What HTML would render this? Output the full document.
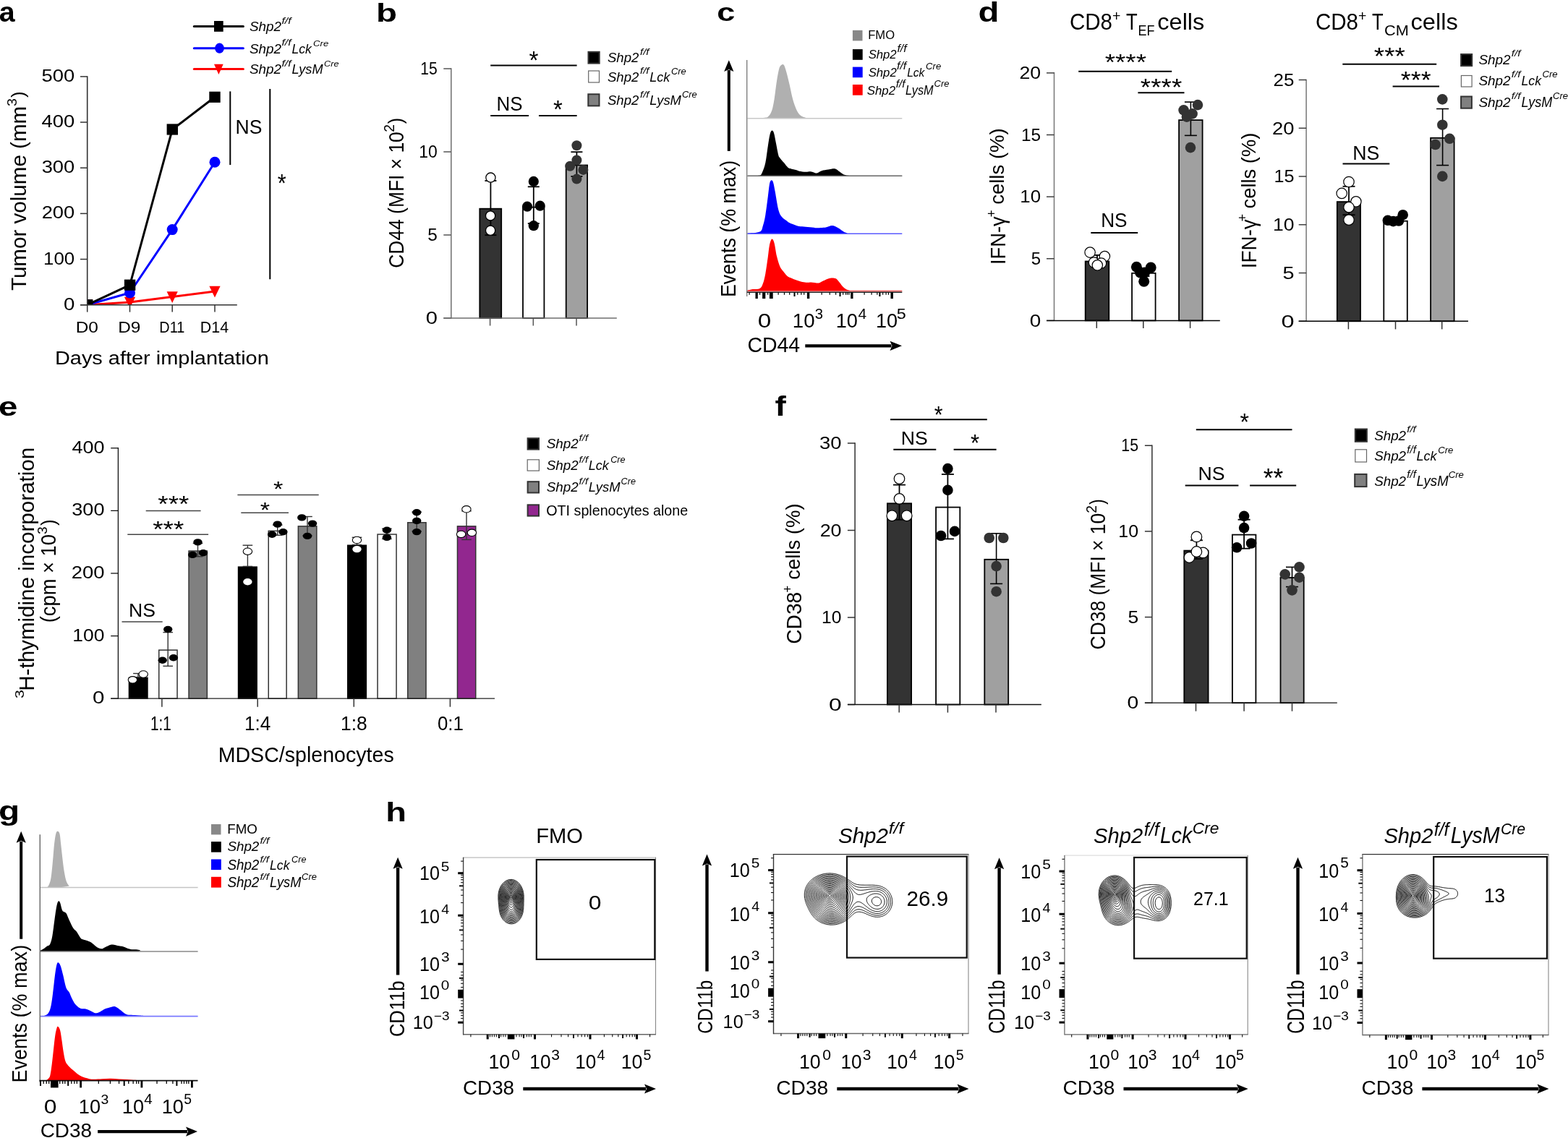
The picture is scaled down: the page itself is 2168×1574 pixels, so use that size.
<!DOCTYPE html><html><head><meta charset="utf-8"><style>html,body{margin:0;padding:0;background:#fff;}svg{display:block;} text{font-family:'Liberation Sans', Arial, sans-serif;}</style></head><body><svg width="2168" height="1574" viewBox="0 0 2168 1574"><rect width="2168" height="1574" fill="#fff"/><text transform="translate(-1.18,29.5)" font-size="39.44" font-weight="bold">a</text>
<clipPath id="clipa"><rect x="120.7" y="90" width="230" height="331.7"/></clipPath>
<g clip-path="url(#clipa)">
<path d="M120.7 421.7 L179.5 418 L238.2 410.5 L297 403" fill="none" stroke="#f00" stroke-width="3" stroke-linejoin="round"/>
<path d="M120.7 421.7 L179.5 405 L238.2 317.6 L297 224.3" fill="none" stroke="#00f" stroke-width="3" stroke-linejoin="round"/>
<path d="M120.7 421.7 L179.6 394.2 L238.3 179 L297 134.3" fill="none" stroke="#000" stroke-width="3" stroke-linejoin="round"/>
<path d="M113.1 414.5 L128.3 414.5 L120.7 430.1 Z" fill="#f00"/>
<path d="M171.9 410.8 L187.1 410.8 L179.5 426.4 Z" fill="#f00"/>
<path d="M230.6 403.3 L245.8 403.3 L238.2 418.9 Z" fill="#f00"/>
<path d="M289.4 395.8 L304.6 395.8 L297 411.4 Z" fill="#f00"/>
<circle cx="120.7" cy="421.7" r="7.5" fill="#00f"/>
<circle cx="179.5" cy="405" r="7.5" fill="#00f"/>
<circle cx="238.2" cy="317.6" r="7.5" fill="#00f"/>
<circle cx="297" cy="224.3" r="7.5" fill="#00f"/>
<rect x="113" y="414.1" width="15.4" height="15.2" fill="#000"/>
<rect x="171.9" y="386.6" width="15.4" height="15.2" fill="#000"/>
<rect x="230.6" y="171.4" width="15.4" height="15.2" fill="#000"/>
<rect x="289.3" y="126.7" width="15.4" height="15.2" fill="#000"/>
</g>
<line x1="120.7" y1="105.2" x2="120.7" y2="422.45" stroke="#333" stroke-width="1.6"/>
<line x1="111" y1="421.7" x2="120.7" y2="421.7" stroke="#333" stroke-width="1.5"/>
<line x1="111" y1="358.54" x2="120.7" y2="358.54" stroke="#333" stroke-width="1.5"/>
<line x1="111" y1="295.38" x2="120.7" y2="295.38" stroke="#333" stroke-width="1.5"/>
<line x1="111" y1="232.22" x2="120.7" y2="232.22" stroke="#333" stroke-width="1.5"/>
<line x1="111" y1="169.06" x2="120.7" y2="169.06" stroke="#333" stroke-width="1.5"/>
<line x1="111" y1="105.9" x2="120.7" y2="105.9" stroke="#333" stroke-width="1.5"/>
<line x1="111" y1="421.7" x2="327.8" y2="421.7" stroke="#333" stroke-width="1.5"/>
<line x1="120.7" y1="421.7" x2="120.7" y2="431.6" stroke="#333" stroke-width="1.5"/>
<line x1="179.5" y1="421.7" x2="179.5" y2="431.6" stroke="#333" stroke-width="1.5"/>
<line x1="238.2" y1="421.7" x2="238.2" y2="431.6" stroke="#333" stroke-width="1.5"/>
<line x1="297" y1="421.7" x2="297" y2="431.6" stroke="#333" stroke-width="1.5"/>
<text transform="translate(87.89,428.8) scale(1.1409,1)" font-size="24.23">0</text>
<text transform="translate(60.06,365.64) scale(1.0670,1)" font-size="24.23">100</text>
<text transform="translate(57.63,302.48) scale(1.1285,1)" font-size="24.23">200</text>
<text transform="translate(57.68,239.32) scale(1.1274,1)" font-size="24.23">300</text>
<text transform="translate(57.48,176.16) scale(1.1323,1)" font-size="24.23">400</text>
<text transform="translate(57.61,113) scale(1.1291,1)" font-size="24.23">500</text>
<text transform="translate(104.68,460) scale(1.1074,1)" font-size="22.08">D0</text>
<text transform="translate(163.18,460) scale(1.1067,1)" font-size="22.08">D9</text>
<text transform="translate(220.36,460) scale(0.8901,1)" font-size="22.40">D11</text>
<text transform="translate(276.83,460) scale(0.9589,1)" font-size="22.40">D14</text>
<text transform="translate(75.91,504) scale(1.1529,1)" font-size="25.10">Days after implantation</text>
<text transform="translate(35.7,402.07) rotate(-90) scale(1.0026,1)" font-size="29.53">Tumor volume (mm</text>
<text transform="translate(23.2,146.93) rotate(-90) scale(1.0268,1)" font-size="19.07">3</text>
<text transform="translate(34.16,135.1) rotate(-90) scale(0.9751,1)" font-size="26.70">)</text>
<line x1="268.3" y1="36.4" x2="336.4" y2="36.4" stroke="#000" stroke-width="3" stroke-linecap="round"/>
<line x1="268.3" y1="66.7" x2="336.4" y2="66.7" stroke="#00f" stroke-width="3" stroke-linecap="round"/>
<line x1="268.3" y1="95.6" x2="336.4" y2="95.6" stroke="#f00" stroke-width="3" stroke-linecap="round"/>
<rect x="296" y="29" width="12.7" height="14.8" fill="#000"/>
<ellipse cx="303.5" cy="66.7" rx="6.4" ry="7.1" fill="#00f"/>
<path d="M296 88.8 L308.7 88.8 L302.4 103 Z" fill="#f00"/>
<text transform="translate(344.98,43.2) scale(1.0156,1)" font-size="18.62" font-style="italic">Shp2</text>
<text transform="translate(389.49,32.57) scale(1.2246,1)" font-size="12.79" font-style="italic">f/f</text>
<text transform="translate(344.98,74) scale(1.0308,1)" font-size="18.34" font-style="italic">Shp2</text>
<text transform="translate(389.49,63.47) scale(1.2378,1)" font-size="12.65" font-style="italic">f/f</text>
<text transform="translate(403.47,74) scale(0.9760,1)" font-size="18.07" font-style="italic">Lck</text>
<text transform="translate(433.08,64.1) scale(1.2929,1)" font-size="10.18" font-style="italic">Cre</text>
<text transform="translate(344.98,102.4) scale(1.0546,1)" font-size="17.93" font-style="italic">Shp2</text>
<text transform="translate(389.49,92.17) scale(1.2378,1)" font-size="12.65" font-style="italic">f/f</text>
<text transform="translate(403.45,102.4) scale(0.9855,1)" font-size="18.47" font-style="italic">LysM</text>
<text transform="translate(448.11,92.4) scale(1.2412,1)" font-size="10.18" font-style="italic">Cre</text>
<line x1="318.3" y1="126.4" x2="318.3" y2="228.1" stroke="#000" stroke-width="2"/>
<text transform="translate(325.61,184.5) scale(0.9793,1)" font-size="27.10">NS</text>
<line x1="373.3" y1="123" x2="373.3" y2="386.2" stroke="#000" stroke-width="2"/>
<text transform="translate(383.86,264.75) scale(0.8529,1)" font-size="36.00">*</text>
<text transform="translate(519.91,29.9) scale(1.3565,1)" font-size="35.03" font-weight="bold">b</text>
<rect x="663.3" y="288.7" width="29.9" height="151.3" fill="#333" stroke="#000" stroke-width="1.8"/>
<rect x="723" y="286.6" width="29.4" height="153.4" fill="#fff" stroke="#000" stroke-width="1.8"/>
<rect x="782.7" y="228.5" width="29.4" height="211.5" fill="#a0a0a0" stroke="#000" stroke-width="1.8"/>
<line x1="678.4" y1="250" x2="678.4" y2="325.2" stroke="#000" stroke-width="1.8"/>
<line x1="670.4" y1="250" x2="686.4" y2="250" stroke="#000" stroke-width="1.8"/>
<line x1="670.4" y1="325.2" x2="686.4" y2="325.2" stroke="#000" stroke-width="1.8"/>
<line x1="737.8" y1="258.3" x2="737.8" y2="309.1" stroke="#000" stroke-width="1.8"/>
<line x1="729.8" y1="258.3" x2="745.8" y2="258.3" stroke="#000" stroke-width="1.8"/>
<line x1="729.8" y1="309.1" x2="745.8" y2="309.1" stroke="#000" stroke-width="1.8"/>
<line x1="797.4" y1="210.2" x2="797.4" y2="244" stroke="#000" stroke-width="1.8"/>
<line x1="789.4" y1="210.2" x2="805.4" y2="210.2" stroke="#000" stroke-width="1.8"/>
<line x1="789.4" y1="244" x2="805.4" y2="244" stroke="#000" stroke-width="1.8"/>
<circle cx="678.4" cy="245.6" r="6.6" fill="#fff" stroke="#000" stroke-width="1.3"/>
<circle cx="678.1" cy="298.4" r="6.6" fill="#fff" stroke="#000" stroke-width="1.3"/>
<circle cx="678.1" cy="318.8" r="6.6" fill="#fff" stroke="#000" stroke-width="1.3"/>
<circle cx="737.8" cy="250.9" r="7.1" fill="#000"/>
<circle cx="729" cy="285.7" r="7.1" fill="#000"/>
<circle cx="746.7" cy="284.7" r="7.1" fill="#000"/>
<circle cx="737.8" cy="312.2" r="7.1" fill="#000"/>
<circle cx="797.4" cy="201.3" r="7" fill="#333"/>
<circle cx="797.4" cy="221.5" r="7" fill="#333"/>
<circle cx="788.2" cy="229.8" r="7" fill="#333"/>
<circle cx="806.4" cy="234.9" r="7" fill="#333"/>
<circle cx="797.4" cy="247.6" r="7" fill="#333"/>
<line x1="623.8" y1="94.2" x2="623.8" y2="440.75" stroke="#6e6e6e" stroke-width="1.5"/>
<line x1="613.3" y1="440" x2="623.8" y2="440" stroke="#555" stroke-width="1.5"/>
<line x1="613.3" y1="325" x2="623.8" y2="325" stroke="#555" stroke-width="1.5"/>
<line x1="613.3" y1="210" x2="623.8" y2="210" stroke="#555" stroke-width="1.5"/>
<line x1="613.3" y1="95" x2="623.8" y2="95" stroke="#555" stroke-width="1.5"/>
<line x1="613.3" y1="440" x2="852.8" y2="440" stroke="#6e6e6e" stroke-width="1.5"/>
<line x1="677.6" y1="440" x2="677.6" y2="450.5" stroke="#555" stroke-width="1.5"/>
<line x1="737.3" y1="440" x2="737.3" y2="450.5" stroke="#555" stroke-width="1.5"/>
<line x1="797" y1="440" x2="797" y2="450.5" stroke="#555" stroke-width="1.5"/>
<text transform="translate(588.84,448.3) scale(1.2014,1)" font-size="24.23">0</text>
<text transform="translate(591.32,333.3) scale(0.9935,1)" font-size="24.58">5</text>
<text transform="translate(579.28,218.3) scale(0.9475,1)" font-size="24.23">10</text>
<text transform="translate(581.32,103.3) scale(0.8586,1)" font-size="24.58">15</text>
<text transform="translate(558,370.72) rotate(-90) scale(0.9081,1)" font-size="29.09">CD44 (MFI × 10</text>
<text transform="translate(545.2,182.67) rotate(-90) scale(0.9919,1)" font-size="19.50">2</text>
<text transform="translate(556.19,171.19) rotate(-90) scale(0.9356,1)" font-size="27.02">)</text>
<line x1="678.2" y1="90.4" x2="797.6" y2="90.4" stroke="#000" stroke-width="2"/>
<text transform="translate(731.52,94.77) scale(0.9615,1)" font-size="34.57">*</text>
<line x1="678.2" y1="160" x2="731" y2="160" stroke="#000" stroke-width="2"/>
<text transform="translate(686.46,153.3) scale(0.9312,1)" font-size="27.81">NS</text>
<line x1="745" y1="160" x2="797.6" y2="160" stroke="#000" stroke-width="2"/>
<text transform="translate(764.92,162.77) scale(0.9533,1)" font-size="34.57">*</text>
<rect x="813.5" y="71.8" width="15.2" height="15.8" fill="#000" stroke="#333" stroke-width="2"/>
<rect x="813.7" y="98" width="14.8" height="16" fill="#fff" stroke="#666" stroke-width="1.2"/>
<rect x="813.3" y="130.3" width="15.2" height="16.1" fill="#808080" stroke="#333" stroke-width="2"/>
<text transform="translate(839.99,86.1) scale(0.9823,1)" font-size="18.90" font-style="italic">Shp2</text>
<text transform="translate(885.01,75.67) scale(1.1972,1)" font-size="12.52" font-style="italic">f/f</text>
<text transform="translate(839.99,112.7) scale(0.9823,1)" font-size="18.90" font-style="italic">Shp2</text>
<text transform="translate(885.01,102.47) scale(1.1718,1)" font-size="12.79" font-style="italic">f/f</text>
<text transform="translate(898.26,112.7)" font-size="18.07" font-style="italic">Lck</text>
<text transform="translate(927.99,102.68) scale(1.0367,1)" font-size="12.44" font-style="italic">Cre</text>
<text transform="translate(839.99,145.1) scale(0.9969,1)" font-size="18.62" font-style="italic">Shp2</text>
<text transform="translate(885.01,134.97) scale(1.1594,1)" font-size="12.93" font-style="italic">f/f</text>
<text transform="translate(898.25,145.1) scale(0.9839,1)" font-size="18.76" font-style="italic">LysM</text>
<text transform="translate(942.99,134.98) scale(1.0433,1)" font-size="12.30" font-style="italic">Cre</text>
<text transform="translate(991.19,28.6) scale(1.2700,1)" font-size="35.53" font-weight="bold">c</text>
<path d="M1033.89 163.71 C1037.78 163.56 1052.42 163.34 1057.24 162.82 C1062.05 162.3 1061.13 162.26 1062.79 160.59 C1064.46 158.93 1065.94 156.7 1067.24 152.81 C1068.54 148.92 1069.46 143.92 1070.58 137.25 C1071.69 130.58 1072.8 119.83 1073.91 112.79 C1075.02 105.75 1076.13 98.86 1077.25 95.01 C1078.36 91.16 1079.47 90.51 1080.58 89.67 C1081.69 88.84 1082.8 88.38 1083.92 90.01 C1085.03 91.64 1085.95 94.92 1087.25 99.46 C1088.55 103.99 1090.21 110.94 1091.7 117.24 C1093.18 123.54 1094.48 131.32 1096.14 137.25 C1097.81 143.18 1099.85 149.01 1101.7 152.81 C1103.55 156.61 1105.22 158.37 1107.26 160.04 C1109.3 161.71 1111.89 162.22 1113.93 162.82 C1115.97 163.41 1097.25 163.45 1119.49 163.59 C1141.72 163.74 1226.02 163.69 1247.32 163.71 L1247.32 163.7 L1033.89 163.7 Z" fill="#b0b0b0"/>
<line x1="1033.5" y1="163.7" x2="1247.3" y2="163.7" stroke="#c8c8c8" stroke-width="1.5"/>
<path d="M1033.34 243.41 C1036.02 243.32 1046.03 243.69 1049.46 242.85 C1052.88 242.02 1052.42 241.37 1053.9 238.41 C1055.38 235.44 1057.05 231 1058.35 225.07 C1059.65 219.14 1060.66 209.32 1061.68 202.83 C1062.7 196.35 1063.54 189.87 1064.46 186.16 C1065.39 182.46 1066.31 180.97 1067.24 180.6 C1068.17 180.23 1069.09 181.16 1070.02 183.94 C1070.95 186.72 1071.78 192.27 1072.8 197.28 C1073.82 202.28 1075.21 210.43 1076.13 213.95 C1077.06 217.47 1077.06 216.54 1078.36 218.4 C1079.65 220.25 1082.06 222.84 1083.92 225.07 C1085.77 227.29 1087.81 230.35 1089.47 231.74 C1091.14 233.13 1092.07 232.85 1093.92 233.4 C1095.77 233.96 1098.74 234.52 1100.59 235.07 C1102.44 235.63 1102.81 236.28 1105.04 236.74 C1107.26 237.2 1111.33 237.76 1113.93 237.85 C1116.52 237.94 1118.75 237.2 1120.6 237.29 C1122.45 237.39 1123.56 238.04 1125.04 238.41 C1126.53 238.78 1127.64 239.89 1129.49 239.52 C1131.34 239.15 1133.57 237.02 1136.16 236.18 C1138.75 235.35 1142.64 234.98 1145.05 234.52 C1147.46 234.05 1148.76 233.5 1150.61 233.4 C1152.46 233.31 1154.5 233.31 1156.17 233.96 C1157.84 234.61 1158.95 236.09 1160.62 237.29 C1162.28 238.5 1164.14 240.26 1166.17 241.18 C1168.21 242.11 1170.62 242.48 1172.84 242.85 C1175.07 243.22 1167.1 243.32 1179.51 243.41 C1191.93 243.5 1236.02 243.41 1247.32 243.41 L1247.32 243.3 L1033.34 243.3 Z" fill="#000"/>
<line x1="1033.5" y1="243.3" x2="1247.3" y2="243.3" stroke="#666" stroke-width="1.5"/>
<path d="M1033.34 322.81 C1036.21 322.44 1046.95 322.44 1050.57 320.59 C1054.18 318.74 1053.72 315.59 1055.01 311.7 C1056.31 307.81 1057.24 303.73 1058.35 297.25 C1059.46 290.76 1060.76 279.83 1061.68 272.79 C1062.61 265.75 1063.17 258.9 1063.91 255 C1064.65 251.11 1065.3 250 1066.13 249.45 C1066.96 248.89 1067.98 249.08 1068.91 251.67 C1069.83 254.26 1070.48 258.71 1071.69 265.01 C1072.89 271.31 1074.65 283.72 1076.13 289.46 C1077.62 295.21 1078.73 296.87 1080.58 299.47 C1082.43 302.06 1085.4 303.54 1087.25 305.03 C1089.1 306.51 1089.47 307.25 1091.7 308.36 C1093.92 309.47 1098.37 310.92 1100.59 311.7 C1102.81 312.47 1102.81 312.7 1105.04 313.03 C1107.26 313.36 1110.59 313.4 1113.93 313.7 C1117.26 313.99 1122.64 314.55 1125.04 314.81 C1127.45 315.07 1125.6 315.31 1128.38 315.25 C1131.16 315.2 1138.01 315.01 1141.72 314.48 C1145.42 313.94 1147.83 311.94 1150.61 312.03 C1153.39 312.12 1155.98 313.79 1158.39 315.03 C1160.8 316.27 1163.21 318.37 1165.06 319.48 C1166.91 320.59 1166.91 321.05 1169.51 321.7 C1172.1 322.35 1167.66 323.09 1180.62 323.37 C1193.59 323.65 1236.2 323.37 1247.32 323.37 L1247.32 323.3 L1033.34 323.3 Z" fill="#0000ff"/>
<line x1="1033.5" y1="323.3" x2="1247.3" y2="323.3" stroke="#5a5aff" stroke-width="1.5"/>
<path d="M1033.34 401.74 C1034.54 401.46 1037.69 400.53 1040.56 400.07 C1043.43 399.61 1048.16 400.35 1050.57 398.96 C1052.98 397.57 1053.72 395.16 1055.01 391.73 C1056.31 388.3 1057.24 384.32 1058.35 378.39 C1059.46 372.46 1060.76 362.64 1061.68 356.16 C1062.61 349.68 1062.98 343.75 1063.91 339.49 C1064.83 335.23 1066.13 331.15 1067.24 330.59 C1068.35 330.04 1069.46 332.26 1070.58 336.15 C1071.69 340.04 1072.61 348.56 1073.91 353.94 C1075.21 359.31 1076.87 364.87 1078.36 368.39 C1079.84 371.91 1081.14 372.83 1082.8 375.06 C1084.47 377.28 1086.51 380.15 1088.36 381.73 C1090.21 383.3 1091.88 383.58 1093.92 384.51 C1095.96 385.43 1098 386.36 1100.59 387.29 C1103.18 388.21 1106.89 389.47 1109.48 390.06 C1112.08 390.66 1114.11 390.79 1116.15 390.84 C1118.19 390.9 1119.12 390.29 1121.71 390.4 C1124.3 390.51 1129.31 391.66 1131.71 391.51 C1134.12 391.36 1133.94 390.49 1136.16 389.51 C1138.38 388.53 1142.64 386.45 1145.05 385.62 C1147.46 384.78 1148.76 384.51 1150.61 384.51 C1152.46 384.51 1154.5 384.6 1156.17 385.62 C1157.84 386.64 1158.95 388.67 1160.62 390.62 C1162.28 392.57 1164.14 395.53 1166.17 397.29 C1168.21 399.05 1169.51 400.29 1172.84 401.18 C1176.18 402.07 1173.77 402.35 1186.18 402.63 C1198.6 402.9 1237.13 402.81 1247.32 402.85 L1247.32 402.8 L1033.34 402.8 Z" fill="#f00"/>
<line x1="1033.5" y1="402.6" x2="1247.3" y2="402.6" stroke="#f05050" stroke-width="1.5"/>
<line x1="1032.7" y1="83" x2="1032.7" y2="410" stroke="#777" stroke-width="1.3"/>
<line x1="1032.7" y1="404.2" x2="1247.3" y2="404.2" stroke="#222" stroke-width="1.6"/>
<rect x="1044.5" y="404.2" width="3.3" height="8.9" fill="#000"/>
<rect x="1054.1" y="404.2" width="4.2" height="8.9" fill="#000"/>
<rect x="1063.9" y="404.2" width="4.8" height="8.9" fill="#000"/>
<rect x="1115.9" y="404.2" width="3.4" height="8.9" fill="#000"/>
<rect x="1176.2" y="404.2" width="3.3" height="8.9" fill="#000"/>
<rect x="1231.5" y="404.2" width="3.4" height="8.9" fill="#000"/>
<line x1="1098.5" y1="404.2" x2="1098.5" y2="410" stroke="#000" stroke-width="2"/>
<line x1="1161.5" y1="404.2" x2="1161.5" y2="410" stroke="#000" stroke-width="2"/>
<line x1="1216.4" y1="404.2" x2="1216.4" y2="410" stroke="#000" stroke-width="2"/>
<line x1="1036.12" y1="404.2" x2="1036.12" y2="407.8" stroke="#000" stroke-width="1.2"/>
<line x1="1050.57" y1="404.2" x2="1050.57" y2="407.8" stroke="#000" stroke-width="1.2"/>
<line x1="1061.68" y1="404.2" x2="1061.68" y2="407.8" stroke="#000" stroke-width="1.2"/>
<line x1="1076.13" y1="404.2" x2="1076.13" y2="407.8" stroke="#000" stroke-width="1.2"/>
<line x1="1084.47" y1="404.2" x2="1084.47" y2="407.8" stroke="#000" stroke-width="1.2"/>
<line x1="1091.7" y1="404.2" x2="1091.7" y2="407.8" stroke="#000" stroke-width="1.2"/>
<line x1="1102.81" y1="404.2" x2="1102.81" y2="407.8" stroke="#000" stroke-width="1.2"/>
<line x1="1107.81" y1="404.2" x2="1107.81" y2="407.8" stroke="#000" stroke-width="1.2"/>
<line x1="1111.71" y1="404.2" x2="1111.71" y2="407.8" stroke="#000" stroke-width="1.2"/>
<line x1="1136.16" y1="404.2" x2="1136.16" y2="407.8" stroke="#000" stroke-width="1.2"/>
<line x1="1147.28" y1="404.2" x2="1147.28" y2="407.8" stroke="#000" stroke-width="1.2"/>
<line x1="1155.61" y1="404.2" x2="1155.61" y2="407.8" stroke="#000" stroke-width="1.2"/>
<line x1="1165.62" y1="404.2" x2="1165.62" y2="407.8" stroke="#000" stroke-width="1.2"/>
<line x1="1169.51" y1="404.2" x2="1169.51" y2="407.8" stroke="#000" stroke-width="1.2"/>
<line x1="1171.73" y1="404.2" x2="1171.73" y2="407.8" stroke="#000" stroke-width="1.2"/>
<line x1="1173.96" y1="404.2" x2="1173.96" y2="407.8" stroke="#000" stroke-width="1.2"/>
<line x1="1195.08" y1="404.2" x2="1195.08" y2="407.8" stroke="#000" stroke-width="1.2"/>
<line x1="1205.08" y1="404.2" x2="1205.08" y2="407.8" stroke="#000" stroke-width="1.2"/>
<line x1="1212.86" y1="404.2" x2="1212.86" y2="407.8" stroke="#000" stroke-width="1.2"/>
<line x1="1220.64" y1="404.2" x2="1220.64" y2="407.8" stroke="#000" stroke-width="1.2"/>
<line x1="1225.09" y1="404.2" x2="1225.09" y2="407.8" stroke="#000" stroke-width="1.2"/>
<line x1="1228.42" y1="404.2" x2="1228.42" y2="407.8" stroke="#000" stroke-width="1.2"/>
<text transform="translate(1047.77,452.5) scale(1.1730,1)" font-size="28.39">0</text>
<text transform="translate(1095.82,452.5) scale(0.9747,1)" font-size="28.39">10</text>
<text transform="translate(1126.84,440.7) scale(1.0215,1)" font-size="19.78">3</text>
<text transform="translate(1155.76,452.5) scale(0.9571,1)" font-size="28.39">10</text>
<text transform="translate(1186.53,440.7) scale(1.0457,1)" font-size="20.07">4</text>
<text transform="translate(1210.97,452.5) scale(0.9535,1)" font-size="28.39">10</text>
<text transform="translate(1239.67,440.7) scale(1.1642,1)" font-size="20.07">5</text>
<text transform="translate(1033.38,486.8) scale(0.9875,1)" font-size="28.82">CD44</text>
<line x1="1113.3" y1="478.3" x2="1232.5" y2="478.3" stroke="#000" stroke-width="4.2"/>
<path d="M1247 478.3 L1230.5 471.7 L1233.5 478.3 L1230.5 484.9 Z" fill="#000"/>
<line x1="1007.8" y1="208.9" x2="1007.8" y2="96.9" stroke="#000" stroke-width="4"/>
<path d="M1007.8 83.3 L1001.2 98.9 L1007.8 95.9 L1014.4 98.9 Z" fill="#000"/>
<text transform="translate(1016.7,411.11) rotate(-90) scale(0.9226,1)" font-size="29.09">Events (% max)</text>
<rect x="1178.9" y="41.9" width="13.6" height="14.5" fill="#888"/>
<rect x="1178.9" y="68.1" width="13.8" height="14.7" fill="#000"/>
<rect x="1178.9" y="92.6" width="13.8" height="14.6" fill="#00f"/>
<rect x="1178.9" y="117" width="13.8" height="14.7" fill="#f00"/>
<text transform="translate(1200.23,53.9) scale(0.9886,1)" font-size="16.77">FMO</text>
<text transform="translate(1200.64,81) scale(1.0194,1)" font-size="16.41" font-style="italic">Shp2</text>
<text transform="translate(1240.39,71.76) scale(1.1148,1)" font-size="14.15" font-style="italic">f/f</text>
<text transform="translate(1200.64,105.8) scale(1.0280,1)" font-size="16.28" font-style="italic">Shp2</text>
<text transform="translate(1240.09,95.86) scale(1.1480,1)" font-size="13.74" font-style="italic">f/f</text>
<text transform="translate(1254.13,105.8) scale(0.9579,1)" font-size="16.28" font-style="italic">Lck</text>
<text transform="translate(1280.08,95.57) scale(1.0179,1)" font-size="12.86" font-style="italic">Cre</text>
<text transform="translate(1198.74,130.6)" font-size="16.83" font-style="italic">Shp2</text>
<text transform="translate(1238.7,120.76) scale(1.0727,1)" font-size="14.29" font-style="italic">f/f</text>
<text transform="translate(1252.01,130.6) scale(0.9175,1)" font-size="17.75" font-style="italic">LysM</text>
<text transform="translate(1291.59,120.08) scale(1.0367,1)" font-size="12.44" font-style="italic">Cre</text>
<text transform="translate(1352.61,29.9) scale(1.2082,1)" font-size="39.17" font-weight="bold">d</text>
<text transform="translate(1479.02,41.2) scale(0.9575,1)" font-size="30.82">CD8</text>
<text transform="translate(1538.07,28.5) scale(0.9454,1)" font-size="20.61">+</text>
<text transform="translate(1557.12,41) scale(0.8402,1)" font-size="30.55">T</text>
<text transform="translate(1573.61,49.2) scale(0.8539,1)" font-size="21.09">EF</text>
<text transform="translate(1600.32,41.2) scale(1.0569,1)" font-size="30.76">cells</text>
<rect x="1500.7" y="361.5" width="32.6" height="81.9" fill="#333" stroke="#000" stroke-width="1.8"/>
<rect x="1565.1" y="377.8" width="32.5" height="65.6" fill="#fff" stroke="#000" stroke-width="1.8"/>
<rect x="1630.1" y="166.1" width="32.5" height="277.3" fill="#a0a0a0" stroke="#000" stroke-width="1.8"/>
<line x1="1517" y1="352.9" x2="1517" y2="368" stroke="#000" stroke-width="1.8"/>
<line x1="1509" y1="352.9" x2="1525" y2="352.9" stroke="#000" stroke-width="1.8"/>
<line x1="1509" y1="368" x2="1525" y2="368" stroke="#000" stroke-width="1.8"/>
<line x1="1581.5" y1="372" x2="1581.5" y2="382" stroke="#000" stroke-width="1.8"/>
<line x1="1573.5" y1="372" x2="1589.5" y2="372" stroke="#000" stroke-width="1.8"/>
<line x1="1573.5" y1="382" x2="1589.5" y2="382" stroke="#000" stroke-width="1.8"/>
<line x1="1646.4" y1="141.1" x2="1646.4" y2="187.4" stroke="#000" stroke-width="1.6"/>
<line x1="1637.9" y1="141.1" x2="1654.9" y2="141.1" stroke="#000" stroke-width="1.6"/>
<line x1="1637.9" y1="187.4" x2="1654.9" y2="187.4" stroke="#000" stroke-width="1.6"/>
<circle cx="1507.1" cy="349.1" r="7.2" fill="#fff" stroke="#000" stroke-width="1.2"/>
<circle cx="1527.4" cy="354.6" r="7.2" fill="#fff" stroke="#000" stroke-width="1.2"/>
<circle cx="1512.5" cy="363" r="7.2" fill="#fff" stroke="#000" stroke-width="1.2"/>
<circle cx="1522.5" cy="364" r="7.2" fill="#fff" stroke="#000" stroke-width="1.2"/>
<circle cx="1517.3" cy="366.8" r="7.2" fill="#fff" stroke="#000" stroke-width="1.2"/>
<circle cx="1571.4" cy="369.2" r="7.5" fill="#000"/>
<circle cx="1591.2" cy="370.1" r="7.5" fill="#000"/>
<circle cx="1576.6" cy="376.9" r="7.5" fill="#000"/>
<circle cx="1582.6" cy="376.9" r="7.5" fill="#000"/>
<circle cx="1581.7" cy="389.3" r="7.5" fill="#000"/>
<circle cx="1636.6" cy="152.3" r="7.3" fill="#333"/>
<circle cx="1656" cy="145.1" r="7.3" fill="#333"/>
<circle cx="1648.6" cy="157.4" r="7.3" fill="#333"/>
<circle cx="1640.9" cy="161.7" r="7.3" fill="#333"/>
<circle cx="1646" cy="204.1" r="7.3" fill="#333"/>
<line x1="1457.5" y1="100.1" x2="1457.5" y2="443.4" stroke="#777" stroke-width="1.5"/>
<line x1="1447" y1="443.4" x2="1457.5" y2="443.4" stroke="#333" stroke-width="1.4"/>
<line x1="1447" y1="357.77" x2="1457.5" y2="357.77" stroke="#333" stroke-width="1.4"/>
<line x1="1447" y1="272.15" x2="1457.5" y2="272.15" stroke="#333" stroke-width="1.4"/>
<line x1="1447" y1="186.52" x2="1457.5" y2="186.52" stroke="#333" stroke-width="1.4"/>
<line x1="1447" y1="100.9" x2="1457.5" y2="100.9" stroke="#333" stroke-width="1.4"/>
<line x1="1447" y1="443.4" x2="1686.8" y2="443.4" stroke="#000" stroke-width="1.5"/>
<line x1="1516.3" y1="443.4" x2="1516.3" y2="453.9" stroke="#333" stroke-width="1.5"/>
<line x1="1580.8" y1="443.4" x2="1580.8" y2="453.9" stroke="#333" stroke-width="1.5"/>
<line x1="1645.6" y1="443.4" x2="1645.6" y2="453.9" stroke="#333" stroke-width="1.5"/>
<text transform="translate(1423.69,451.7) scale(1.1496,1)" font-size="24.23">0</text>
<text transform="translate(1425.74,366.07) scale(0.9763,1)" font-size="24.58">5</text>
<text transform="translate(1410.36,280.45) scale(1.0675,1)" font-size="24.23">10</text>
<text transform="translate(1411.97,194.82) scale(0.9935,1)" font-size="24.58">15</text>
<text transform="translate(1409.47,109.2) scale(1.1019,1)" font-size="24.23">20</text>
<text transform="translate(1390.1,366.02) rotate(-90) scale(0.9283,1)" font-size="29.38">IFN-γ</text>
<text transform="translate(1376.79,300.2) rotate(-90) scale(0.9261,1)" font-size="18.16">+</text>
<text transform="translate(1388.35,282.87) rotate(-90) scale(1.0118,1)" font-size="27.24">cells (%)</text>
<line x1="1491.2" y1="98.7" x2="1620.2" y2="98.7" stroke="#000" stroke-width="2"/>
<text transform="translate(1527.66,96.9) scale(1.1413,1)" font-size="32.29">****</text>
<line x1="1573.4" y1="128.2" x2="1637.5" y2="128.2" stroke="#000" stroke-width="2"/>
<text transform="translate(1576.85,131.79) scale(1.1138,1)" font-size="33.14">****</text>
<line x1="1508.3" y1="322" x2="1573.2" y2="322" stroke="#000" stroke-width="2"/>
<text transform="translate(1522.14,313.5) scale(0.9524,1)" font-size="27.53">NS</text>
<text transform="translate(1819.02,41.2) scale(0.9575,1)" font-size="30.82">CD8</text>
<text transform="translate(1878.07,28.5) scale(0.9454,1)" font-size="20.61">+</text>
<text transform="translate(1897.12,41) scale(0.8402,1)" font-size="30.55">T</text>
<text transform="translate(1914.01,49.2) scale(1.0449,1)" font-size="20.79">CM</text>
<text transform="translate(1950.51,41.2) scale(1.0603,1)" font-size="30.76">cells</text>
<rect x="1848.8" y="279.1" width="32.2" height="165.2" fill="#333" stroke="#000" stroke-width="1.8"/>
<rect x="1913.3" y="305.7" width="32.5" height="138.6" fill="#fff" stroke="#000" stroke-width="1.8"/>
<rect x="1978.1" y="190.8" width="32.5" height="253.5" fill="#a0a0a0" stroke="#000" stroke-width="1.8"/>
<line x1="1865" y1="257.8" x2="1865" y2="297.2" stroke="#000" stroke-width="1.8"/>
<line x1="1856.5" y1="257.8" x2="1873.5" y2="257.8" stroke="#000" stroke-width="1.8"/>
<line x1="1856.5" y1="297.2" x2="1873.5" y2="297.2" stroke="#000" stroke-width="1.8"/>
<line x1="1929.5" y1="302" x2="1929.5" y2="308" stroke="#000" stroke-width="1.8"/>
<line x1="1921.5" y1="302" x2="1937.5" y2="302" stroke="#000" stroke-width="1.8"/>
<line x1="1921.5" y1="308" x2="1937.5" y2="308" stroke="#000" stroke-width="1.8"/>
<line x1="1994.6" y1="150.5" x2="1994.6" y2="228.6" stroke="#000" stroke-width="1.6"/>
<line x1="1986.1" y1="150.5" x2="2003.1" y2="150.5" stroke="#000" stroke-width="1.6"/>
<line x1="1986.1" y1="228.6" x2="2003.1" y2="228.6" stroke="#000" stroke-width="1.6"/>
<circle cx="1865" cy="251.5" r="7.2" fill="#fff" stroke="#000" stroke-width="1.2"/>
<circle cx="1855.2" cy="267.4" r="7.2" fill="#fff" stroke="#000" stroke-width="1.2"/>
<circle cx="1874.9" cy="278.8" r="7.2" fill="#fff" stroke="#000" stroke-width="1.2"/>
<circle cx="1865" cy="286.7" r="7.2" fill="#fff" stroke="#000" stroke-width="1.2"/>
<circle cx="1865" cy="304.2" r="7.2" fill="#fff" stroke="#000" stroke-width="1.2"/>
<circle cx="1918.8" cy="304.8" r="7.3" fill="#000"/>
<circle cx="1926.4" cy="306.1" r="7.3" fill="#000"/>
<circle cx="1934" cy="305.5" r="7.3" fill="#000"/>
<circle cx="1939.7" cy="297.2" r="7.3" fill="#000"/>
<circle cx="1994.3" cy="137.4" r="7.3" fill="#333"/>
<circle cx="1994.3" cy="172.7" r="7.3" fill="#333"/>
<circle cx="2004.3" cy="191.8" r="7.3" fill="#333"/>
<circle cx="1984.6" cy="200" r="7.3" fill="#333"/>
<circle cx="1994.3" cy="243.9" r="7.3" fill="#333"/>
<line x1="1806.1" y1="109.7" x2="1806.1" y2="444.3" stroke="#777" stroke-width="1.5"/>
<line x1="1795.7" y1="444.3" x2="1806.1" y2="444.3" stroke="#333" stroke-width="1.4"/>
<line x1="1795.7" y1="377.54" x2="1806.1" y2="377.54" stroke="#333" stroke-width="1.4"/>
<line x1="1795.7" y1="310.78" x2="1806.1" y2="310.78" stroke="#333" stroke-width="1.4"/>
<line x1="1795.7" y1="244.02" x2="1806.1" y2="244.02" stroke="#333" stroke-width="1.4"/>
<line x1="1795.7" y1="177.26" x2="1806.1" y2="177.26" stroke="#333" stroke-width="1.4"/>
<line x1="1795.7" y1="110.5" x2="1806.1" y2="110.5" stroke="#333" stroke-width="1.4"/>
<line x1="1795.7" y1="444.3" x2="2030" y2="444.3" stroke="#000" stroke-width="1.5"/>
<line x1="1864.4" y1="444.3" x2="1864.4" y2="455.4" stroke="#333" stroke-width="1.5"/>
<line x1="1929.5" y1="444.3" x2="1929.5" y2="455.4" stroke="#333" stroke-width="1.5"/>
<line x1="1993.7" y1="444.3" x2="1993.7" y2="455.4" stroke="#333" stroke-width="1.5"/>
<text transform="translate(1771.6,452.6) scale(1.3397,1)" font-size="24.23">0</text>
<text transform="translate(1773.55,385.84) scale(1.1733,1)" font-size="24.58">5</text>
<text transform="translate(1759.91,319.08) scale(1.0965,1)" font-size="24.23">10</text>
<text transform="translate(1761.41,252.32) scale(1.0262,1)" font-size="24.58">15</text>
<text transform="translate(1759.03,185.56) scale(1.1302,1)" font-size="24.23">20</text>
<text transform="translate(1760.6,118.8) scale(1.0723,1)" font-size="24.23">25</text>
<text transform="translate(1737.3,371.27) rotate(-90) scale(0.9566,1)" font-size="29.09">IFN-γ</text>
<text transform="translate(1724.38,306.14) rotate(-90) scale(0.9196,1)" font-size="19.18">+</text>
<text transform="translate(1735.51,288.46) rotate(-90) scale(0.9808,1)" font-size="27.88">cells (%)</text>
<line x1="1856.3" y1="88.7" x2="1986.2" y2="88.7" stroke="#000" stroke-width="2"/>
<text transform="translate(1899.85,89.18) scale(1.0948,1)" font-size="33.71">***</text>
<line x1="1925.6" y1="119.4" x2="1990" y2="119.4" stroke="#000" stroke-width="2"/>
<text transform="translate(1936.87,121.98) scale(1.0607,1)" font-size="33.71">***</text>
<line x1="1856.5" y1="226.5" x2="1921.3" y2="226.5" stroke="#000" stroke-width="2"/>
<text transform="translate(1870.2,221) scale(0.9748,1)" font-size="27.38">NS</text>
<rect x="2020.1" y="75" width="15.1" height="16.1" fill="#000" stroke="#333" stroke-width="2"/>
<rect x="2020.4" y="104.5" width="14.7" height="15.5" fill="#fff" stroke="#666" stroke-width="1.2"/>
<rect x="2020.1" y="133.5" width="14.8" height="16.2" fill="#808080" stroke="#333" stroke-width="2"/>
<text transform="translate(2044.48,89.2) scale(0.9863,1)" font-size="19.17" font-style="italic">Shp2</text>
<text transform="translate(2089.71,78.37) scale(1.1769,1)" font-size="12.93" font-style="italic">f/f</text>
<text transform="translate(2044.48,117.6) scale(0.9863,1)" font-size="19.17" font-style="italic">Shp2</text>
<text transform="translate(2089.71,106.87) scale(1.1646,1)" font-size="13.06" font-style="italic">f/f</text>
<text transform="translate(2103.47,117.6) scale(0.9232,1)" font-size="19.17" font-style="italic">Lck</text>
<text transform="translate(2132.48,106.87) scale(1.0344,1)" font-size="12.72" font-style="italic">Cre</text>
<text transform="translate(2044.48,148.2) scale(0.9863,1)" font-size="19.17" font-style="italic">Shp2</text>
<text transform="translate(2089.71,137.47) scale(1.1646,1)" font-size="13.06" font-style="italic">f/f</text>
<text transform="translate(2103.46,148.2) scale(0.8941,1)" font-size="20.22" font-style="italic">LysM</text>
<text transform="translate(2147.08,137.47) scale(1.0240,1)" font-size="12.72" font-style="italic">Cre</text>
<text transform="translate(-1.9,575.4) scale(1.2629,1)" font-size="37.58" font-weight="bold">e</text>
<rect x="178.45" y="937.35" width="25.5" height="28.85" fill="#000" stroke="#000" stroke-width="1.5"/>
<rect x="219.75" y="899.15" width="25.3" height="67.05" fill="#fff" stroke="#333" stroke-width="1.5"/>
<rect x="261.05" y="762.05" width="25.3" height="204.15" fill="#808080" stroke="#333" stroke-width="1.5"/>
<rect x="329.55" y="784.15" width="25.6" height="182.05" fill="#000" stroke="#000" stroke-width="1.5"/>
<rect x="371.25" y="734.35" width="24.9" height="231.85" fill="#fff" stroke="#333" stroke-width="1.5"/>
<rect x="412.35" y="727.85" width="25.5" height="238.35" fill="#808080" stroke="#333" stroke-width="1.5"/>
<rect x="480.75" y="754.25" width="25.6" height="211.95" fill="#000" stroke="#000" stroke-width="1.5"/>
<rect x="522.05" y="739.05" width="26" height="227.15" fill="#fff" stroke="#333" stroke-width="1.5"/>
<rect x="563.75" y="722.75" width="25.3" height="243.45" fill="#808080" stroke="#333" stroke-width="1.5"/>
<rect x="632.45" y="727.85" width="25.3" height="238.35" fill="#92278f" stroke="#333" stroke-width="1.5"/>
<line x1="190.9" y1="931.5" x2="190.9" y2="936.6" stroke="#333" stroke-width="1.4"/>
<line x1="184.1" y1="931.5" x2="197.7" y2="931.5" stroke="#333" stroke-width="1.4"/>
<line x1="184.1" y1="936.6" x2="197.7" y2="936.6" stroke="#333" stroke-width="1.4"/>
<line x1="232.2" y1="874.6" x2="232.2" y2="921.3" stroke="#333" stroke-width="1.4"/>
<line x1="225.4" y1="874.6" x2="239" y2="874.6" stroke="#333" stroke-width="1.4"/>
<line x1="225.4" y1="921.3" x2="239" y2="921.3" stroke="#333" stroke-width="1.4"/>
<line x1="273.5" y1="751.5" x2="273.5" y2="769.8" stroke="#333" stroke-width="1.4"/>
<line x1="266.7" y1="751.5" x2="280.3" y2="751.5" stroke="#333" stroke-width="1.4"/>
<line x1="266.7" y1="769.8" x2="280.3" y2="769.8" stroke="#333" stroke-width="1.4"/>
<line x1="342.4" y1="754.2" x2="342.4" y2="783.4" stroke="#333" stroke-width="1.4"/>
<line x1="335.6" y1="754.2" x2="349.2" y2="754.2" stroke="#333" stroke-width="1.4"/>
<line x1="335.6" y1="783.4" x2="349.2" y2="783.4" stroke="#333" stroke-width="1.4"/>
<line x1="383.7" y1="726.1" x2="383.7" y2="740.3" stroke="#333" stroke-width="1.4"/>
<line x1="376.9" y1="726.1" x2="390.5" y2="726.1" stroke="#333" stroke-width="1.4"/>
<line x1="376.9" y1="740.3" x2="390.5" y2="740.3" stroke="#333" stroke-width="1.4"/>
<line x1="425" y1="714.5" x2="425" y2="741" stroke="#333" stroke-width="1.4"/>
<line x1="418.2" y1="714.5" x2="431.8" y2="714.5" stroke="#333" stroke-width="1.4"/>
<line x1="418.2" y1="741" x2="431.8" y2="741" stroke="#333" stroke-width="1.4"/>
<line x1="493.5" y1="743.3" x2="493.5" y2="753.5" stroke="#333" stroke-width="1.4"/>
<line x1="486.7" y1="743.3" x2="500.3" y2="743.3" stroke="#333" stroke-width="1.4"/>
<line x1="486.7" y1="753.5" x2="500.3" y2="753.5" stroke="#333" stroke-width="1.4"/>
<line x1="534.9" y1="731.2" x2="534.9" y2="745.4" stroke="#333" stroke-width="1.4"/>
<line x1="528.1" y1="731.2" x2="541.7" y2="731.2" stroke="#333" stroke-width="1.4"/>
<line x1="528.1" y1="745.4" x2="541.7" y2="745.4" stroke="#333" stroke-width="1.4"/>
<line x1="576.2" y1="708.2" x2="576.2" y2="734.8" stroke="#333" stroke-width="1.4"/>
<line x1="569.4" y1="708.2" x2="583" y2="708.2" stroke="#333" stroke-width="1.4"/>
<line x1="569.4" y1="734.8" x2="583" y2="734.8" stroke="#333" stroke-width="1.4"/>
<line x1="645" y1="706.8" x2="645" y2="746.4" stroke="#333" stroke-width="1.4"/>
<line x1="638.2" y1="706.8" x2="651.8" y2="706.8" stroke="#333" stroke-width="1.4"/>
<line x1="638.2" y1="746.4" x2="651.8" y2="746.4" stroke="#333" stroke-width="1.4"/>
<ellipse cx="183.4" cy="940.3" rx="6.2" ry="4.7" fill="#fff" stroke="#000" stroke-width="1.1"/>
<ellipse cx="198.2" cy="932.5" rx="6.2" ry="4.7" fill="#fff" stroke="#000" stroke-width="1.1"/>
<ellipse cx="342.4" cy="762.7" rx="6.2" ry="4.7" fill="#fff" stroke="#000" stroke-width="1.1"/>
<ellipse cx="493.5" cy="747" rx="6.2" ry="4.7" fill="#fff" stroke="#000" stroke-width="1.1"/>
<ellipse cx="644.9" cy="704.3" rx="6.2" ry="4.7" fill="#fff" stroke="#000" stroke-width="1.1"/>
<ellipse cx="342.4" cy="804.8" rx="6.2" ry="4.7" fill="#fff"/>
<ellipse cx="493.5" cy="759.6" rx="6.2" ry="4.7" fill="#fff"/>
<ellipse cx="637.6" cy="738.9" rx="6.2" ry="4.7" fill="#fff" stroke="#000" stroke-width="1.1"/>
<ellipse cx="652.4" cy="736.8" rx="6.2" ry="4.7" fill="#fff" stroke="#000" stroke-width="1.1"/>
<ellipse cx="224.7" cy="913.2" rx="6.2" ry="4.7" fill="#000"/>
<ellipse cx="239.9" cy="909.7" rx="6.2" ry="4.7" fill="#000"/>
<ellipse cx="232.2" cy="870.5" rx="6.2" ry="4.7" fill="#000"/>
<ellipse cx="273.5" cy="749.9" rx="6.2" ry="4.7" fill="#000"/>
<ellipse cx="266.2" cy="767.4" rx="6.2" ry="4.7" fill="#000"/>
<ellipse cx="281" cy="764.7" rx="6.2" ry="4.7" fill="#000"/>
<ellipse cx="383.7" cy="725.1" rx="6.2" ry="4.7" fill="#000"/>
<ellipse cx="376.2" cy="739.3" rx="6.2" ry="4.7" fill="#000"/>
<ellipse cx="391.4" cy="735.7" rx="6.2" ry="4.7" fill="#000"/>
<ellipse cx="417.3" cy="715.9" rx="6.2" ry="4.7" fill="#000"/>
<ellipse cx="432.1" cy="724.1" rx="6.2" ry="4.7" fill="#000"/>
<ellipse cx="425" cy="741.4" rx="6.2" ry="4.7" fill="#000"/>
<ellipse cx="534.9" cy="733.2" rx="6.2" ry="4.7" fill="#000"/>
<ellipse cx="534.9" cy="743.4" rx="6.2" ry="4.7" fill="#000"/>
<ellipse cx="576.2" cy="708.8" rx="6.2" ry="4.7" fill="#000"/>
<ellipse cx="576.2" cy="720.4" rx="6.2" ry="4.7" fill="#000"/>
<ellipse cx="576.2" cy="735.6" rx="6.2" ry="4.7" fill="#000"/>
<line x1="163.4" y1="619" x2="163.4" y2="966.8" stroke="#111" stroke-width="1.3"/>
<line x1="153.2" y1="966.2" x2="163.4" y2="966.2" stroke="#111" stroke-width="1.3"/>
<line x1="153.2" y1="879.59" x2="163.4" y2="879.59" stroke="#111" stroke-width="1.3"/>
<line x1="153.2" y1="792.98" x2="163.4" y2="792.98" stroke="#111" stroke-width="1.3"/>
<line x1="153.2" y1="706.37" x2="163.4" y2="706.37" stroke="#111" stroke-width="1.3"/>
<line x1="153.2" y1="619.76" x2="163.4" y2="619.76" stroke="#111" stroke-width="1.3"/>
<line x1="153.2" y1="966.2" x2="684" y2="966.2" stroke="#222" stroke-width="1.3"/>
<line x1="223.9" y1="966.2" x2="223.9" y2="977.7" stroke="#333" stroke-width="1.5"/>
<line x1="356.2" y1="966.2" x2="356.2" y2="977.7" stroke="#333" stroke-width="1.5"/>
<line x1="489.3" y1="966.2" x2="489.3" y2="977.7" stroke="#333" stroke-width="1.5"/>
<line x1="622.4" y1="966.2" x2="622.4" y2="977.7" stroke="#333" stroke-width="1.5"/>
<text transform="translate(128.12,973.3) scale(1.2260,1)" font-size="24.09">0</text>
<text transform="translate(100.32,886.69) scale(1.0974,1)" font-size="24.09">100</text>
<text transform="translate(98.63,800.08) scale(1.1404,1)" font-size="24.09">200</text>
<text transform="translate(99.29,713.47) scale(1.1237,1)" font-size="24.09">300</text>
<text transform="translate(99.39,626.86) scale(1.1209,1)" font-size="24.09">400</text>
<text transform="translate(207.95,1010) scale(0.7251,1)" font-size="28.51">1:1</text>
<text transform="translate(338.04,1010) scale(0.9154,1)" font-size="28.51">1:4</text>
<text transform="translate(471.01,1010) scale(0.9425,1)" font-size="28.10">1:8</text>
<text transform="translate(604.97,1010) scale(0.9207,1)" font-size="28.10">0:1</text>
<text transform="translate(301.64,1053.8) scale(0.9930,1)" font-size="28.80">MDSC/splenocytes</text>
<text transform="translate(32.6,965.9) rotate(-90) scale(1.2676,1)" font-size="16.77">3</text>
<text transform="translate(46.7,955.74) rotate(-90) scale(1.0219,1)" font-size="28.95">H-thymidine incorporation</text>
<text transform="translate(77.2,861.31) rotate(-90) scale(0.9403,1)" font-size="29.09">(cpm × 10</text>
<text transform="translate(64.6,739.02) rotate(-90) scale(1.0123,1)" font-size="18.92">3</text>
<text transform="translate(75.59,727.1) rotate(-90) scale(0.9635,1)" font-size="27.02">)</text>
<line x1="201.7" y1="706.4" x2="277.6" y2="706.4" stroke="#444" stroke-width="1.5"/>
<text transform="translate(218.36,708.4) scale(1.1507,1)" font-size="32.00">***</text>
<line x1="176.3" y1="739.3" x2="288.1" y2="739.3" stroke="#444" stroke-width="1.5"/>
<text transform="translate(211.26,743) scale(1.1507,1)" font-size="32.00">***</text>
<line x1="168.5" y1="860" x2="224.7" y2="860" stroke="#444" stroke-width="1.5"/>
<text transform="translate(178.1,853.2) scale(1.0144,1)" font-size="26.24">NS</text>
<line x1="328.4" y1="684.4" x2="440.7" y2="684.4" stroke="#444" stroke-width="1.5"/>
<text transform="translate(378,686.23) scale(1.1678,1)" font-size="29.43">*</text>
<line x1="333.3" y1="709.2" x2="399" y2="709.2" stroke="#444" stroke-width="1.5"/>
<text transform="translate(359.7,715.23) scale(1.1455,1)" font-size="30.00">*</text>
<rect x="729.6" y="606.2" width="15.4" height="15.4" fill="#000" stroke="#333" stroke-width="2"/>
<rect x="729.2" y="635.8" width="16.2" height="15.3" fill="#fff" stroke="#666" stroke-width="1.2"/>
<rect x="729.6" y="666.2" width="15.4" height="15.3" fill="#808080" stroke="#333" stroke-width="2"/>
<rect x="729.6" y="698.3" width="15.4" height="15.3" fill="#92278f" stroke="#333" stroke-width="2"/>
<text transform="translate(755.68,619.6) scale(1.0339,1)" font-size="18.21" font-style="italic">Shp2</text>
<text transform="translate(800.62,609.67) scale(1.1630,1)" font-size="12.79" font-style="italic">f/f</text>
<text transform="translate(755.68,649.6) scale(1.0339,1)" font-size="18.21" font-style="italic">Shp2</text>
<text transform="translate(800.62,639.67) scale(1.1630,1)" font-size="12.79" font-style="italic">f/f</text>
<text transform="translate(813.76,649.6) scale(0.9897,1)" font-size="18.21" font-style="italic">Lck</text>
<text transform="translate(844.21,639.68) scale(1.0156,1)" font-size="12.44" font-style="italic">Cre</text>
<text transform="translate(755.68,680.1) scale(1.0339,1)" font-size="18.21" font-style="italic">Shp2</text>
<text transform="translate(800.62,670.17) scale(1.1630,1)" font-size="12.79" font-style="italic">f/f</text>
<text transform="translate(813.75,680.1) scale(0.9615,1)" font-size="19.20" font-style="italic">LysM</text>
<text transform="translate(858.61,670.18) scale(1.0156,1)" font-size="12.44" font-style="italic">Cre</text>
<text transform="translate(755.26,712.5) scale(0.9817,1)" font-size="20.07">OTI splenocytes alone</text>
<text transform="translate(1071.5,575.1) scale(1.1992,1)" font-size="38.34" font-weight="bold">f</text>
<rect x="1226.9" y="696.3" width="33.2" height="278.2" fill="#333" stroke="#000" stroke-width="1.8"/>
<rect x="1294.1" y="701.6" width="33.2" height="272.9" fill="#fff" stroke="#000" stroke-width="1.8"/>
<rect x="1361.3" y="773.8" width="32.9" height="200.7" fill="#a0a0a0" stroke="#000" stroke-width="1.8"/>
<line x1="1243.5" y1="670.6" x2="1243.5" y2="718.8" stroke="#000" stroke-width="1.8"/>
<line x1="1235" y1="670.6" x2="1252" y2="670.6" stroke="#000" stroke-width="1.8"/>
<line x1="1235" y1="718.8" x2="1252" y2="718.8" stroke="#000" stroke-width="1.8"/>
<line x1="1310.4" y1="656" x2="1310.4" y2="745.4" stroke="#000" stroke-width="1.8"/>
<line x1="1301.9" y1="656" x2="1318.9" y2="656" stroke="#000" stroke-width="1.8"/>
<line x1="1301.9" y1="745.4" x2="1318.9" y2="745.4" stroke="#000" stroke-width="1.8"/>
<line x1="1377.6" y1="737.8" x2="1377.6" y2="807.4" stroke="#000" stroke-width="1.6"/>
<line x1="1369.1" y1="737.8" x2="1386.1" y2="737.8" stroke="#000" stroke-width="1.6"/>
<line x1="1369.1" y1="807.4" x2="1386.1" y2="807.4" stroke="#000" stroke-width="1.6"/>
<circle cx="1243.5" cy="662.1" r="7.3" fill="#fff" stroke="#000" stroke-width="1.2"/>
<circle cx="1243.5" cy="689.9" r="7.3" fill="#fff" stroke="#000" stroke-width="1.2"/>
<circle cx="1233.3" cy="713.3" r="7.3" fill="#fff" stroke="#000" stroke-width="1.2"/>
<circle cx="1253.7" cy="713.3" r="7.3" fill="#fff" stroke="#000" stroke-width="1.2"/>
<circle cx="1310.4" cy="648.1" r="7.3" fill="#000"/>
<circle cx="1310.4" cy="677.9" r="7.3" fill="#000"/>
<circle cx="1301" cy="741" r="7.3" fill="#000"/>
<circle cx="1320" cy="734.9" r="7.3" fill="#000"/>
<circle cx="1367.7" cy="744" r="7.3" fill="#333"/>
<circle cx="1387.3" cy="744" r="7.3" fill="#333"/>
<circle cx="1377.6" cy="783.1" r="7.3" fill="#333"/>
<circle cx="1377.6" cy="818.2" r="7.3" fill="#333"/>
<line x1="1182.1" y1="612.2" x2="1182.1" y2="975.1" stroke="#111" stroke-width="1.3"/>
<line x1="1171.9" y1="974.5" x2="1182.1" y2="974.5" stroke="#333" stroke-width="1.5"/>
<line x1="1171.9" y1="854" x2="1182.1" y2="854" stroke="#333" stroke-width="1.5"/>
<line x1="1171.9" y1="733.5" x2="1182.1" y2="733.5" stroke="#333" stroke-width="1.5"/>
<line x1="1171.9" y1="613" x2="1182.1" y2="613" stroke="#333" stroke-width="1.5"/>
<line x1="1171.9" y1="974.5" x2="1439.8" y2="974.5" stroke="#111" stroke-width="1.3"/>
<line x1="1243.2" y1="974.5" x2="1243.2" y2="985.6" stroke="#333" stroke-width="1.5"/>
<line x1="1310.4" y1="974.5" x2="1310.4" y2="985.6" stroke="#333" stroke-width="1.5"/>
<line x1="1377" y1="974.5" x2="1377" y2="985.6" stroke="#333" stroke-width="1.5"/>
<text transform="translate(1146.03,982.7) scale(1.3216,1)" font-size="24.09">0</text>
<text transform="translate(1136.05,862.2) scale(1.0239,1)" font-size="24.09">10</text>
<text transform="translate(1133.66,741.7) scale(1.1166,1)" font-size="24.09">20</text>
<text transform="translate(1133.07,621.2) scale(1.1392,1)" font-size="24.09">30</text>
<text transform="translate(1108.3,890.71) rotate(-90) scale(0.9531,1)" font-size="29.53">CD38</text>
<text transform="translate(1094.96,819.48) rotate(-90) scale(0.8646,1)" font-size="18.98">+</text>
<text transform="translate(1106.37,801.87) rotate(-90) scale(1.0148,1)" font-size="27.13">cells (%)</text>
<line x1="1231" y1="580.3" x2="1364.8" y2="580.3" stroke="#000" stroke-width="2"/>
<text transform="translate(1291.77,584.88) scale(0.9101,1)" font-size="33.43">*</text>
<line x1="1235.3" y1="621.8" x2="1294.3" y2="621.8" stroke="#000" stroke-width="2"/>
<text transform="translate(1245.7,614.5) scale(1.0089,1)" font-size="26.38">NS</text>
<line x1="1318.6" y1="621.8" x2="1377.6" y2="621.8" stroke="#000" stroke-width="2"/>
<text transform="translate(1341.95,624.19) scale(0.9434,1)" font-size="33.14">*</text>
<rect x="1637.3" y="761.6" width="33.3" height="210.6" fill="#333" stroke="#000" stroke-width="1.8"/>
<rect x="1703.9" y="739.6" width="32.5" height="232.6" fill="#fff" stroke="#000" stroke-width="1.8"/>
<rect x="1770.5" y="799" width="32.2" height="173.2" fill="#a0a0a0" stroke="#000" stroke-width="1.8"/>
<line x1="1654.4" y1="747.3" x2="1654.4" y2="773" stroke="#000" stroke-width="1.8"/>
<line x1="1645.9" y1="747.3" x2="1662.9" y2="747.3" stroke="#000" stroke-width="1.8"/>
<line x1="1645.9" y1="773" x2="1662.9" y2="773" stroke="#000" stroke-width="1.8"/>
<line x1="1720.1" y1="718.7" x2="1720.1" y2="758.7" stroke="#000" stroke-width="1.8"/>
<line x1="1711.6" y1="718.7" x2="1728.6" y2="718.7" stroke="#000" stroke-width="1.8"/>
<line x1="1711.6" y1="758.7" x2="1728.6" y2="758.7" stroke="#000" stroke-width="1.8"/>
<line x1="1786.5" y1="784.4" x2="1786.5" y2="811.6" stroke="#000" stroke-width="1.6"/>
<line x1="1778" y1="784.4" x2="1795" y2="784.4" stroke="#000" stroke-width="1.6"/>
<line x1="1778" y1="811.6" x2="1795" y2="811.6" stroke="#000" stroke-width="1.6"/>
<circle cx="1654.4" cy="742.4" r="7.3" fill="#fff" stroke="#000" stroke-width="1.2"/>
<circle cx="1644.4" cy="771" r="7.3" fill="#fff" stroke="#000" stroke-width="1.2"/>
<circle cx="1663.5" cy="764.4" r="7.3" fill="#fff" stroke="#000" stroke-width="1.2"/>
<circle cx="1654.4" cy="763" r="7.3" fill="#fff" stroke="#000" stroke-width="1.2"/>
<circle cx="1720.1" cy="713.8" r="7.3" fill="#000"/>
<circle cx="1720.1" cy="730.1" r="7.3" fill="#000"/>
<circle cx="1710.1" cy="757.3" r="7.3" fill="#000"/>
<circle cx="1730.1" cy="751.5" r="7.3" fill="#000"/>
<circle cx="1776.7" cy="794.4" r="7.3" fill="#333"/>
<circle cx="1796.5" cy="784.4" r="7.3" fill="#333"/>
<circle cx="1796.5" cy="798.7" r="7.3" fill="#333"/>
<circle cx="1786.5" cy="816.4" r="7.3" fill="#333"/>
<line x1="1592.9" y1="615.5" x2="1592.9" y2="972.8" stroke="#111" stroke-width="1.3"/>
<line x1="1582.9" y1="972.2" x2="1592.9" y2="972.2" stroke="#333" stroke-width="1.5"/>
<line x1="1582.9" y1="853.55" x2="1592.9" y2="853.55" stroke="#333" stroke-width="1.5"/>
<line x1="1582.9" y1="734.9" x2="1592.9" y2="734.9" stroke="#333" stroke-width="1.5"/>
<line x1="1582.9" y1="616.25" x2="1592.9" y2="616.25" stroke="#333" stroke-width="1.5"/>
<line x1="1582.9" y1="972.2" x2="1848.8" y2="972.2" stroke="#111" stroke-width="1.3"/>
<line x1="1653.5" y1="972.2" x2="1653.5" y2="983.7" stroke="#333" stroke-width="1.5"/>
<line x1="1720.1" y1="972.2" x2="1720.1" y2="983.7" stroke="#333" stroke-width="1.5"/>
<line x1="1786.5" y1="972.2" x2="1786.5" y2="983.7" stroke="#333" stroke-width="1.5"/>
<text transform="translate(1558.47,980.4) scale(1.1738,1)" font-size="24.09">0</text>
<text transform="translate(1559.44,861.75) scale(1.0855,1)" font-size="24.44">5</text>
<text transform="translate(1546.33,743.1) scale(1.0364,1)" font-size="24.09">10</text>
<text transform="translate(1550.3,624.45) scale(0.8719,1)" font-size="24.44">15</text>
<text transform="translate(1528.3,898.42) rotate(-90) scale(0.9040,1)" font-size="29.24">CD38 (MFI × 10</text>
<text transform="translate(1515.7,709.77) rotate(-90) scale(0.9775,1)" font-size="19.78">2</text>
<text transform="translate(1526.34,698.08) rotate(-90) scale(0.8727,1)" font-size="26.81">)</text>
<line x1="1653.8" y1="594.3" x2="1786.5" y2="594.3" stroke="#000" stroke-width="2"/>
<text transform="translate(1714.44,595.29) scale(0.9859,1)" font-size="32.57">*</text>
<line x1="1638.7" y1="671.5" x2="1712.4" y2="671.5" stroke="#000" stroke-width="2"/>
<text transform="translate(1656.5,664.4)" font-size="26.67">NS</text>
<line x1="1728.1" y1="671.5" x2="1792.2" y2="671.5" stroke="#000" stroke-width="2"/>
<text transform="translate(1746.68,673.94) scale(0.9578,1)" font-size="36.86">**</text>
<rect x="1873.8" y="593.5" width="16.1" height="17.3" fill="#000" stroke="#333" stroke-width="2"/>
<rect x="1873.8" y="621.8" width="15.7" height="17.2" fill="#fff" stroke="#666" stroke-width="1.2"/>
<rect x="1873.2" y="655.9" width="16.3" height="17.2" fill="#808080" stroke="#333" stroke-width="2"/>
<text transform="translate(1900.18,608.6) scale(0.9938,1)" font-size="18.90" font-style="italic">Shp2</text>
<text transform="translate(1945.31,597.87) scale(1.1239,1)" font-size="13.33" font-style="italic">f/f</text>
<text transform="translate(1900.18,636.8) scale(1.0237,1)" font-size="18.34" font-style="italic">Shp2</text>
<text transform="translate(1945.31,626.86) scale(1.0906,1)" font-size="13.74" font-style="italic">f/f</text>
<text transform="translate(1958.56,636.8) scale(0.9606,1)" font-size="18.76" font-style="italic">Lck</text>
<text transform="translate(1988.18,626.57) scale(1.0230,1)" font-size="12.86" font-style="italic">Cre</text>
<text transform="translate(1900.18,671.7) scale(0.9938,1)" font-size="18.90" font-style="italic">Shp2</text>
<text transform="translate(1945.31,661.36) scale(1.0906,1)" font-size="13.74" font-style="italic">f/f</text>
<text transform="translate(1958.54,671.7) scale(0.9329,1)" font-size="19.93" font-style="italic">LysM</text>
<text transform="translate(2002.68,660.68) scale(1.0700,1)" font-size="12.30" font-style="italic">Cre</text>
<text transform="translate(-1.91,1134.42) scale(1.3207,1)" font-size="36.13" font-weight="bold">g</text>
<path d="M55.72 1227.5 C57.05 1227.5 61.82 1227.98 63.73 1227.5 C65.63 1227.02 66.11 1226.45 67.16 1224.64 C68.21 1222.83 69.25 1220.06 70.02 1216.63 C70.78 1213.2 71.16 1209.2 71.73 1204.05 C72.3 1198.9 72.88 1192.04 73.45 1185.75 C74.02 1179.46 74.5 1171.83 75.16 1166.31 C75.83 1160.78 76.65 1155.35 77.45 1152.58 C78.25 1149.82 79.11 1149.53 79.97 1149.72 C80.82 1149.91 81.87 1150.58 82.6 1153.73 C83.32 1156.87 83.65 1162.68 84.31 1168.59 C84.98 1174.5 85.84 1182.89 86.6 1189.18 C87.36 1195.47 88.03 1201.38 88.89 1206.34 C89.75 1211.3 90.6 1215.77 91.75 1218.92 C92.89 1222.07 94.32 1223.78 95.75 1225.21 C97.18 1226.64 70.68 1227.12 100.33 1227.5 C129.97 1227.88 244.73 1227.5 273.61 1227.5 L273.61 1227.5 L55.72 1227.5 Z" fill="#b0b0b0"/>
<line x1="55.7" y1="1227.5" x2="273.6" y2="1227.5" stroke="#c4c4c4" stroke-width="1.5"/>
<path d="M55.38 1315 C56.39 1314.43 59.86 1312.61 61.44 1311.57 C63.02 1310.52 63.63 1309.56 64.87 1308.71 C66.11 1307.85 67.73 1308.23 68.87 1306.42 C70.02 1304.61 70.87 1301.75 71.73 1297.84 C72.59 1293.93 73.26 1288.31 74.02 1282.97 C74.78 1277.63 75.54 1270.96 76.31 1265.81 C77.07 1260.67 77.83 1255.33 78.59 1252.09 C79.36 1248.85 80.12 1246.94 80.88 1246.37 C81.64 1245.8 82.31 1246.56 83.17 1248.66 C84.03 1250.76 85.08 1256.86 86.03 1258.95 C86.98 1261.05 87.94 1260.48 88.89 1261.24 C89.84 1262 90.6 1261.62 91.75 1263.53 C92.89 1265.43 94.13 1269.25 95.75 1272.68 C97.37 1276.11 99.75 1281.45 101.47 1284.12 C103.19 1286.78 104.33 1286.4 106.04 1288.69 C107.76 1290.98 110.24 1296.03 111.76 1297.84 C113.29 1299.65 113.67 1298.98 115.2 1299.56 C116.72 1300.13 119.1 1300.6 120.91 1301.27 C122.72 1301.94 124.15 1302.32 126.06 1303.56 C127.97 1304.8 130.54 1307.37 132.35 1308.71 C134.16 1310.04 135.4 1310.99 136.93 1311.57 C138.45 1312.14 139.98 1312.42 141.5 1312.14 C143.03 1311.85 144.17 1310.75 146.08 1309.85 C147.98 1308.95 151.03 1307.28 152.94 1306.76 C154.85 1306.25 155.61 1306.5 157.51 1306.76 C159.42 1307.03 162.28 1307.94 164.38 1308.36 C166.47 1308.78 168.19 1308.74 170.1 1309.28 C172 1309.81 174.1 1310.96 175.81 1311.57 C177.53 1312.18 178.29 1312.65 180.39 1312.94 C182.49 1313.22 186.11 1313.03 188.4 1313.28 C190.68 1313.53 192.4 1313.99 194.12 1314.43 C195.83 1314.86 185.44 1315.66 198.69 1315.91 C211.94 1316.16 261.12 1315.91 273.61 1315.91 L273.61 1316.1 L55.38 1316.1 Z" fill="#000"/>
<line x1="55.7" y1="1316" x2="273.6" y2="1316" stroke="#888" stroke-width="1.6"/>
<path d="M55.38 1405.78 C56.39 1405.59 59.66 1405.21 61.44 1404.64 C63.21 1404.07 64.68 1403.88 66.01 1402.35 C67.35 1400.83 68.49 1398.54 69.44 1395.49 C70.4 1392.44 70.97 1389.01 71.73 1384.05 C72.49 1379.09 73.26 1372.04 74.02 1365.75 C74.78 1359.46 75.54 1351.64 76.31 1346.31 C77.07 1340.97 77.83 1336.2 78.59 1333.73 C79.36 1331.25 80.02 1331.06 80.88 1331.44 C81.74 1331.82 82.69 1333.15 83.74 1336.01 C84.79 1338.87 86.12 1344.4 87.17 1348.59 C88.22 1352.79 89.17 1357.94 90.03 1361.18 C90.89 1364.42 91.37 1366.13 92.32 1368.04 C93.27 1369.94 94.61 1370.52 95.75 1372.61 C96.89 1374.71 98.04 1378.24 99.18 1380.62 C100.33 1383 101.28 1385 102.61 1386.91 C103.95 1388.82 105.66 1390.72 107.19 1392.06 C108.71 1393.39 109.86 1394.35 111.76 1394.92 C113.67 1395.49 116.53 1395.01 118.63 1395.49 C120.72 1395.97 122.44 1396.92 124.35 1397.78 C126.25 1398.63 128.54 1400.06 130.06 1400.64 C131.59 1401.21 131.97 1401.49 133.5 1401.21 C135.02 1400.92 137.31 1399.87 139.21 1398.92 C141.12 1397.97 143.03 1396.35 144.93 1395.49 C146.84 1394.63 148.56 1394.35 150.65 1393.77 C152.75 1393.2 155.61 1392.06 157.51 1392.06 C159.42 1392.06 160.18 1392.63 162.09 1393.77 C164 1394.92 166.86 1397.4 168.95 1398.92 C171.05 1400.45 172.57 1402.1 174.67 1402.92 C176.77 1403.74 178.48 1403.59 181.53 1403.84 C184.58 1404.09 188.21 1404.18 192.97 1404.41 C197.74 1404.64 196.69 1405.02 210.13 1405.21 C223.57 1405.4 263.03 1405.5 273.61 1405.55 L273.61 1405.6 L55.38 1405.6 Z" fill="#0000ff"/>
<line x1="55.7" y1="1405.6" x2="273.6" y2="1405.6" stroke="#7a7aff" stroke-width="1.8"/>
<path d="M63.73 1494.43 C64.3 1493.95 66.2 1492.8 67.16 1491.57 C68.11 1490.33 68.68 1490.23 69.44 1486.99 C70.21 1483.75 70.97 1478.03 71.73 1472.12 C72.49 1466.21 73.26 1458.21 74.02 1451.53 C74.78 1444.86 75.54 1437.05 76.31 1432.09 C77.07 1427.13 77.93 1423.8 78.59 1421.8 C79.26 1419.79 79.55 1419.51 80.31 1420.08 C81.07 1420.65 82.31 1422.08 83.17 1425.23 C84.03 1428.37 84.69 1434 85.46 1438.95 C86.22 1443.91 86.98 1450.39 87.74 1454.97 C88.51 1459.54 89.17 1463.54 90.03 1466.4 C90.89 1469.26 91.56 1470.22 92.89 1472.12 C94.23 1474.03 96.23 1476.12 98.04 1477.84 C99.85 1479.56 101.85 1480.89 103.76 1482.42 C105.66 1483.94 107.57 1485.75 109.48 1486.99 C111.38 1488.23 112.91 1488.99 115.2 1489.85 C117.48 1490.71 120.72 1491.66 123.2 1492.14 C125.68 1492.61 127.01 1492.71 130.06 1492.71 C133.11 1492.71 137.69 1492.29 141.5 1492.14 C145.31 1491.99 149.13 1491.74 152.94 1491.79 C156.75 1491.85 160.56 1492.29 164.38 1492.48 C168.19 1492.67 172 1492.71 175.81 1492.94 C179.63 1493.17 184.2 1493.61 187.25 1493.85 C190.3 1494.1 192.97 1494.33 194.12 1494.43 L194.12 1494.4 L63.73 1494.4 Z" fill="#f00"/>
<line x1="55.3" y1="1154.3" x2="55.3" y2="1497" stroke="#666" stroke-width="1.4"/>
<line x1="54.4" y1="1494.6" x2="273.5" y2="1494.6" stroke="#111" stroke-width="1.7"/>
<rect x="70" y="1494.6" width="10.6" height="9.8" fill="#000"/>
<line x1="111.6" y1="1494.6" x2="111.6" y2="1504.4" stroke="#000" stroke-width="2.8"/>
<line x1="195.9" y1="1494.6" x2="195.9" y2="1504.4" stroke="#000" stroke-width="2.8"/>
<line x1="265.4" y1="1494.6" x2="265.4" y2="1504.4" stroke="#000" stroke-width="2.8"/>
<line x1="56" y1="1494.6" x2="56" y2="1501.9" stroke="#000" stroke-width="2"/>
<line x1="94.2" y1="1494.6" x2="94.2" y2="1501.9" stroke="#000" stroke-width="2"/>
<line x1="171.7" y1="1494.6" x2="171.7" y2="1501.9" stroke="#000" stroke-width="2"/>
<line x1="244.4" y1="1494.6" x2="244.4" y2="1501.9" stroke="#000" stroke-width="2"/>
<line x1="60.18" y1="1494.6" x2="60.18" y2="1499" stroke="#000" stroke-width="1.3"/>
<line x1="64.22" y1="1494.6" x2="64.22" y2="1499" stroke="#000" stroke-width="1.3"/>
<line x1="67.68" y1="1494.6" x2="67.68" y2="1499" stroke="#000" stroke-width="1.3"/>
<line x1="82.67" y1="1494.6" x2="82.67" y2="1499" stroke="#000" stroke-width="1.3"/>
<line x1="86.7" y1="1494.6" x2="86.7" y2="1499" stroke="#000" stroke-width="1.3"/>
<line x1="89.82" y1="1494.6" x2="89.82" y2="1499" stroke="#000" stroke-width="1.3"/>
<line x1="98.81" y1="1494.6" x2="98.81" y2="1499" stroke="#000" stroke-width="1.3"/>
<line x1="102.85" y1="1494.6" x2="102.85" y2="1499" stroke="#000" stroke-width="1.3"/>
<line x1="106.31" y1="1494.6" x2="106.31" y2="1499" stroke="#000" stroke-width="1.3"/>
<line x1="136.29" y1="1494.6" x2="136.29" y2="1499" stroke="#000" stroke-width="1.3"/>
<line x1="152.43" y1="1494.6" x2="152.43" y2="1499" stroke="#000" stroke-width="1.3"/>
<line x1="164.54" y1="1494.6" x2="164.54" y2="1499" stroke="#000" stroke-width="1.3"/>
<line x1="177.8" y1="1494.6" x2="177.8" y2="1499" stroke="#000" stroke-width="1.3"/>
<line x1="184.14" y1="1494.6" x2="184.14" y2="1499" stroke="#000" stroke-width="1.3"/>
<line x1="188.75" y1="1494.6" x2="188.75" y2="1499" stroke="#000" stroke-width="1.3"/>
<line x1="191.64" y1="1494.6" x2="191.64" y2="1499" stroke="#000" stroke-width="1.3"/>
<line x1="217.01" y1="1494.6" x2="217.01" y2="1499" stroke="#000" stroke-width="1.3"/>
<line x1="230.27" y1="1494.6" x2="230.27" y2="1499" stroke="#000" stroke-width="1.3"/>
<line x1="238.92" y1="1494.6" x2="238.92" y2="1499" stroke="#000" stroke-width="1.3"/>
<line x1="251.02" y1="1494.6" x2="251.02" y2="1499" stroke="#000" stroke-width="1.3"/>
<line x1="254.48" y1="1494.6" x2="254.48" y2="1499" stroke="#000" stroke-width="1.3"/>
<line x1="257.94" y1="1494.6" x2="257.94" y2="1499" stroke="#000" stroke-width="1.3"/>
<line x1="260.83" y1="1494.6" x2="260.83" y2="1499" stroke="#000" stroke-width="1.3"/>
<text transform="translate(60.63,1540) scale(1.1328,1)" font-size="28.10">0</text>
<text transform="translate(108.86,1540) scale(0.9668,1)" font-size="28.10">10</text>
<text transform="translate(139.57,1527.3) scale(1.0157,1)" font-size="19.07">3</text>
<text transform="translate(168.86,1540) scale(0.9668,1)" font-size="28.10">10</text>
<text transform="translate(199.24,1527.3) scale(1.0645,1)" font-size="19.35">4</text>
<text transform="translate(223.66,1540) scale(0.9668,1)" font-size="28.10">10</text>
<text transform="translate(254.33,1527.3)" font-size="19.35">5</text>
<text transform="translate(55.7,1572.8) scale(1.0257,1)" font-size="27.24">CD38</text>
<line x1="135.1" y1="1565.1" x2="259" y2="1565.1" stroke="#000" stroke-width="4.2"/>
<path d="M273 1565.1 L257 1558.5 L260 1565.1 L257 1571.7 Z" fill="#000"/>
<line x1="29.2" y1="1298.7" x2="29.2" y2="1163.7" stroke="#000" stroke-width="4"/>
<path d="M29.2 1149.7 L22.6 1165.7 L29.2 1162.7 L35.8 1165.7 Z" fill="#000"/>
<text transform="translate(37.4,1497.53) rotate(-90) scale(0.9245,1)" font-size="29.24">Events (% max)</text>
<rect x="292" y="1140" width="13.5" height="14.4" fill="#888"/>
<rect x="292" y="1164.1" width="13.8" height="14.6" fill="#000"/>
<rect x="292" y="1188.5" width="13.8" height="14.6" fill="#00f"/>
<rect x="292" y="1212.8" width="13.8" height="14.8" fill="#f00"/>
<text transform="translate(314.25,1152.5) scale(0.9825,1)" font-size="19.07">FMO</text>
<text transform="translate(314.38,1176.9) scale(1.0261,1)" font-size="18.34" font-style="italic">Shp2</text>
<text transform="translate(359.4,1166.77) scale(1.1819,1)" font-size="13.06" font-style="italic">f/f</text>
<text transform="translate(314.38,1202.7) scale(0.9477,1)" font-size="19.86" font-style="italic">Shp2</text>
<text transform="translate(359.41,1192.57) scale(1.1474,1)" font-size="13.06" font-style="italic">f/f</text>
<text transform="translate(373.07,1202.7) scale(0.9333,1)" font-size="18.90" font-style="italic">Lck</text>
<text transform="translate(403.11,1192.97) scale(1.0041,1)" font-size="12.58" font-style="italic">Cre</text>
<text transform="translate(314.38,1227) scale(0.9748,1)" font-size="19.31" font-style="italic">Shp2</text>
<text transform="translate(359.41,1216.57) scale(1.1474,1)" font-size="13.06" font-style="italic">f/f</text>
<text transform="translate(373.05,1227) scale(0.8982,1)" font-size="20.36" font-style="italic">LysM</text>
<text transform="translate(417.09,1217.37) scale(1.0251,1)" font-size="12.58" font-style="italic">Cre</text>
<text transform="translate(533.3,1136.1) scale(1.2596,1)" font-size="37.38" font-weight="bold">h</text>
<g>
<path d="M706.8 1242.0l-0.8-0.2 -0.3-0.6 0-0.9 0.2-0.6 0.6-0.4 0.6 0.4 0.3 0.6 0 0.6 -0.2 0.6 -0.4 0.5z M707.1 1243.4l-0.9 0.1 -0.6-0.4 -0.3-0.4 -0.3-0.6 -0.2-0.9 0-0.9 0.2-0.9 0.3-0.6 0.3-0.4 0.6-0.3 0.9 0.1 0.4 0.3 0.4 0.6 0.3 0.6 0.1 0.9 -0.1 0.9 -0.2 0.8 -0.3 0.6 -0.4 0.4z M706.8 1245.2l-0.7-0.1 -0.5-0.3 -0.6-0.6 -0.3-0.4 -0.3-0.6 -0.3-0.8 -0.1-0.6 -0.1-0.9 0-0.9 0.2-0.9 0.2-0.6 0.3-0.6 0.4-0.5 0.6-0.4 0.6-0.2 0.9 0.1 0.6 0.3 0.5 0.4 0.4 0.6 0.3 0.6 0.1 0.6 0.2 0.9 0 0.9 -0.2 0.9 -0.1 0.6 -0.3 0.8 -0.3 0.5 -0.4 0.5 -0.5 0.4 -0.6 0.3z M706.8 1246.9l-0.6 0 -0.7-0.3 -0.5-0.4 -0.4-0.5 -0.4-0.6 -0.3-0.6 -0.3-0.6 -0.2-0.6 -0.2-0.8 -0.1-0.7 -0.1-0.9 0-0.9 0.1-0.9 0.2-0.6 0.2-0.6 0.3-0.6 0.4-0.6 0.5-0.5 0.6-0.4 0.6-0.2 0.9-0.1 0.9 0.3 0.5 0.3 0.4 0.4 0.4 0.5 0.4 0.6 0.2 0.6 0.2 0.6 0.2 0.9 0.1 0.9 -0.1 0.9 -0.1 0.9 -0.1 0.6 -0.3 0.9 -0.2 0.6 -0.3 0.6 -0.4 0.6 -0.3 0.4 -0.6 0.5 -0.6 0.3z M707.1 1249.0l-0.8 0 -0.7-0.3 -0.4-0.3 -0.5-0.5 -0.4-0.4 -0.4-0.6 -0.3-0.6 -0.3-0.6 -0.3-0.6 -0.2-0.6 -0.2-0.6 -0.2-0.9 -0.1-0.6 -0.2-0.9 0-0.9 0.1-0.9 0.1-0.9 0.1-0.6 0.2-0.6 0.3-0.7 0.3-0.5 0.4-0.6 0.5-0.5 0.5-0.4 0.5-0.3 0.8-0.3 0.6 0 0.6 0 0.8 0.3 0.6 0.3 0.4 0.4 0.5 0.5 0.4 0.5 0.3 0.6 0.3 0.7 0.2 0.6 0.2 0.6 0.1 0.9 0.1 0.9 -0.1 0.9 -0.1 0.9 -0.1 0.8 -0.2 0.7 -0.1 0.6 -0.3 0.8 -0.3 0.7 -0.3 0.6 -0.3 0.5 -0.3 0.5 -0.4 0.5 -0.5 0.4 -0.6 0.4z M706.8 1251.7l-0.6-0.1 -0.6-0.3 -0.6-0.5 -0.3-0.4 -0.4-0.5 -0.4-0.6 -0.4-0.6 -0.3-0.6 -0.3-0.6 -0.3-0.6 -0.2-0.6 -0.2-0.6 -0.2-0.6 -0.3-0.9 -0.1-0.6 -0.2-0.8 -0.1-0.7 -0.1-0.9 0-0.9 0.1-0.9 0.1-0.8 0.2-0.7 0.1-0.6 0.3-0.7 0.3-0.6 0.3-0.6 0.4-0.5 0.5-0.6 0.4-0.3 0.5-0.4 0.6-0.3 0.8-0.2 0.7-0.1 0.7 0.1 0.8 0.2 0.6 0.3 0.5 0.4 0.4 0.3 0.5 0.6 0.4 0.5 0.3 0.5 0.3 0.6 0.3 0.8 0.2 0.6 0.1 0.6 0.2 0.9 0 0.9 0 0.9 0 0.9 -0.1 0.9 -0.1 0.6 -0.2 0.9 -0.2 0.6 -0.2 0.7 -0.3 0.8 -0.2 0.6 -0.2 0.6 -0.3 0.6 -0.3 0.6 -0.4 0.6 -0.4 0.6 -0.3 0.4 -0.5 0.5 -0.4 0.3 -0.8 0.3z M707.4 1255.0l-0.9 0.1 -0.6-0.3 -0.6-0.4 -0.3-0.4 -0.4-0.5 -0.4-0.6 -0.4-0.6 -0.3-0.6 -0.3-0.6 -0.3-0.6 -0.2-0.6 -0.3-0.6 -0.2-0.6 -0.3-0.6 -0.2-0.6 -0.3-0.9 -0.2-0.6 -0.2-0.6 -0.2-0.9 -0.1-0.6 -0.2-0.9 -0.1-0.6 0-0.9 -0.1-0.9 0.1-0.9 0.1-0.9 0.1-0.6 0.2-0.9 0.1-0.6 0.3-0.6 0.2-0.6 0.4-0.6 0.4-0.6 0.4-0.6 0.3-0.3 0.6-0.5 0.6-0.4 0.6-0.3 0.6-0.2 0.6-0.1 0.9-0.1 0.6 0.1 0.9 0.3 0.6 0.3 0.5 0.3 0.4 0.3 0.6 0.6 0.3 0.4 0.4 0.5 0.3 0.6 0.3 0.6 0.3 0.6 0.2 0.7 0.2 0.8 0.1 0.6 0.2 0.9 0 0.9 0 0.9 0 0.9 -0.1 0.9 -0.1 0.6 -0.2 0.9 -0.1 0.7 -0.2 0.8 -0.2 0.6 -0.2 0.8 -0.2 0.7 -0.2 0.6 -0.2 0.6 -0.3 0.7 -0.3 0.8 -0.3 0.6 -0.2 0.6 -0.3 0.6 -0.4 0.6 -0.3 0.5 -0.3 0.4 -0.6 0.6 -0.5 0.3z M707.4 1258.4l-0.9 0 -0.6-0.2 -0.6-0.4 -0.4-0.4 -0.5-0.5 -0.3-0.5 -0.3-0.5 -0.3-0.6 -0.3-0.6 -0.3-0.6 -0.3-0.8 -0.3-0.7 -0.2-0.6 -0.2-0.6 -0.2-0.6 -0.3-0.9 -0.2-0.6 -0.2-0.6 -0.2-0.6 -0.3-0.9 -0.1-0.6 -0.2-0.6 -0.2-0.9 -0.1-0.6 -0.2-0.9 -0.1-0.8 -0.1-0.7 0-0.9 0-0.9 0-0.9 0.1-0.9 0.1-0.6 0.2-0.9 0.2-0.6 0.2-0.6 0.2-0.6 0.3-0.6 0.4-0.6 0.4-0.6 0.4-0.6 0.3-0.3 0.6-0.5 0.5-0.4 0.5-0.3 0.6-0.3 0.8-0.2 0.6-0.1 0.9-0.1 0.6 0.1 0.9 0.2 0.6 0.3 0.6 0.3 0.5 0.4 0.4 0.3 0.6 0.6 0.3 0.4 0.4 0.5 0.3 0.6 0.4 0.6 0.2 0.6 0.3 0.6 0.2 0.8 0.2 0.7 0.1 0.7 0.1 0.8 0.1 0.9 0 0.9 0 0.9 -0.1 0.9 -0.1 0.9 -0.1 0.6 -0.1 0.9 -0.1 0.6 -0.2 0.9 -0.2 0.6 -0.2 0.9 -0.1 0.6 -0.2 0.6 -0.3 0.9 -0.1 0.6 -0.2 0.6 -0.3 0.9 -0.1 0.6 -0.2 0.6 -0.3 0.8 -0.3 0.7 -0.3 0.6 -0.3 0.6 -0.3 0.5 -0.3 0.4 -0.5 0.6 -0.4 0.3 -0.7 0.3z M708.3 1260.7l-0.9 0.3 -0.9 0 -0.9-0.3 -0.6-0.3 -0.4-0.3 -0.5-0.5 -0.4-0.4 -0.4-0.6 -0.3-0.6 -0.4-0.6 -0.2-0.6 -0.3-0.6 -0.2-0.6 -0.2-0.7 -0.3-0.8 -0.1-0.6 -0.2-0.6 -0.3-0.9 -0.1-0.6 -0.2-0.6 -0.3-0.9 -0.1-0.6 -0.2-0.6 -0.2-0.9 -0.2-0.6 -0.2-0.9 -0.1-0.6 -0.2-0.8 -0.1-0.7 -0.1-0.9 -0.1-0.6 -0.1-0.9 0-0.9 0-0.9 0-0.9 0.1-0.6 0.1-0.9 0.2-0.7 0.2-0.8 0.2-0.6 0.2-0.6 0.3-0.6 0.3-0.6 0.3-0.6 0.5-0.6 0.4-0.5 0.3-0.4 0.6-0.5 0.5-0.4 0.4-0.3 0.6-0.3 0.6-0.3 0.9-0.3 0.6-0.1 0.9 0 0.7 0.1 0.8 0.2 0.6 0.2 0.6 0.3 0.6 0.4 0.5 0.4 0.4 0.3 0.6 0.6 0.3 0.4 0.4 0.5 0.3 0.6 0.4 0.6 0.3 0.6 0.2 0.6 0.2 0.6 0.3 0.9 0.1 0.6 0.2 0.9 0.1 0.6 0.1 0.9 0 0.9 0 0.9 -0.1 0.9 0 0.9 -0.1 0.6 -0.1 0.9 -0.2 0.9 -0.1 0.6 -0.1 0.9 -0.2 0.6 -0.2 0.9 -0.1 0.6 -0.2 0.9 -0.1 0.6 -0.2 0.9 -0.1 0.6 -0.2 0.7 -0.2 0.8 -0.1 0.6 -0.3 0.9 -0.2 0.6 -0.2 0.6 -0.2 0.6 -0.3 0.7 -0.3 0.6 -0.3 0.5 -0.5 0.6 -0.4 0.4 -0.6 0.5 -0.6 0.3z M707.1 1263.1l-0.6 0 -0.9-0.2 -0.6-0.3 -0.6-0.3 -0.5-0.4 -0.4-0.4 -0.5-0.5 -0.4-0.5 -0.3-0.5 -0.3-0.5 -0.3-0.6 -0.3-0.7 -0.3-0.8 -0.2-0.6 -0.2-0.6 -0.2-0.8 -0.2-0.7 -0.1-0.6 -0.3-0.9 -0.1-0.6 -0.2-0.8 -0.2-0.7 -0.1-0.6 -0.2-0.9 -0.2-0.6 -0.2-0.9 -0.1-0.6 -0.2-0.9 -0.1-0.6 -0.2-0.9 -0.1-0.6 -0.1-0.9 -0.1-0.8 -0.1-0.7 0-0.9 0-0.9 0-0.9 0.1-0.8 0.1-0.7 0.1-0.9 0.2-0.6 0.2-0.8 0.2-0.7 0.2-0.6 0.3-0.6 0.3-0.6 0.4-0.6 0.3-0.6 0.4-0.5 0.4-0.4 0.5-0.6 0.4-0.3 0.5-0.4 0.6-0.4 0.6-0.4 0.6-0.2 0.6-0.2 0.8-0.2 0.7-0.1 0.9 0.1 0.6 0 0.9 0.3 0.6 0.2 0.6 0.3 0.6 0.4 0.5 0.3 0.4 0.3 0.6 0.6 0.3 0.4 0.4 0.5 0.5 0.6 0.3 0.5 0.3 0.6 0.3 0.6 0.3 0.7 0.2 0.6 0.2 0.6 0.2 0.8 0.1 0.7 0.2 0.9 0.1 0.6 0 0.9 0.1 0.9 0 0.9 -0.1 0.9 0 0.9 -0.1 0.7 -0.1 0.8 -0.1 0.9 -0.1 0.6 -0.2 0.9 -0.1 0.8 -0.1 0.7 -0.2 0.9 -0.1 0.6 -0.1 0.9 -0.1 0.6 -0.2 0.9 -0.1 0.6 -0.2 0.9 -0.1 0.6 -0.2 0.9 -0.1 0.6 -0.3 0.9 -0.2 0.6 -0.2 0.6 -0.2 0.6 -0.3 0.6 -0.4 0.6 -0.4 0.6 -0.4 0.6 -0.3 0.3 -0.6 0.5 -0.6 0.4 -0.6 0.3 -0.6 0.2 -0.7 0.1z M707.7 1264.9l-0.9 0.1 -0.6-0.1 -0.9-0.2 -0.6-0.3 -0.6-0.3 -0.6-0.4 -0.4-0.3 -0.5-0.5 -0.4-0.4 -0.4-0.6 -0.4-0.6 -0.3-0.5 -0.3-0.6 -0.3-0.7 -0.2-0.6 -0.2-0.6 -0.2-0.6 -0.3-0.9 -0.1-0.6 -0.2-0.7 -0.2-0.8 -0.1-0.6 -0.2-0.9 -0.1-0.6 -0.2-0.9 -0.1-0.6 -0.2-0.9 -0.1-0.6 -0.2-0.9 -0.2-0.6 -0.1-0.9 -0.2-0.6 -0.1-0.9 -0.1-0.6 -0.1-0.9 -0.1-0.9 -0.1-0.6 -0.1-0.9 0-0.9 0-0.9 0.1-0.9 0-0.6 0.1-0.9 0.2-0.9 0.1-0.6 0.2-0.7 0.2-0.8 0.3-0.6 0.2-0.6 0.3-0.6 0.3-0.6 0.4-0.6 0.4-0.6 0.3-0.5 0.4-0.4 0.5-0.6 0.4-0.3 0.5-0.5 0.6-0.4 0.5-0.3 0.6-0.3 0.7-0.3 0.6-0.1 0.8-0.2 0.7-0.1 0.9 0.1 0.6 0 0.9 0.2 0.6 0.2 0.6 0.3 0.6 0.3 0.6 0.4 0.5 0.4 0.4 0.3 0.6 0.6 0.3 0.4 0.4 0.5 0.5 0.6 0.3 0.5 0.3 0.6 0.3 0.6 0.3 0.6 0.3 0.7 0.2 0.6 0.2 0.6 0.2 0.9 0.1 0.6 0.2 0.9 0 0.6 0.1 0.9 0.1 0.9 0 0.9 -0.1 0.9 0 0.9 -0.1 0.9 0 0.6 -0.1 0.9 -0.2 0.9 0 0.6 -0.2 0.9 -0.1 0.9 -0.1 0.6 -0.1 0.9 -0.1 0.6 -0.1 0.9 -0.2 0.9 -0.1 0.6 -0.1 0.9 -0.1 0.6 -0.2 0.9 -0.1 0.8 -0.2 0.7 -0.1 0.6 -0.3 0.9 -0.2 0.6 -0.2 0.6 -0.3 0.6 -0.3 0.6 -0.4 0.6 -0.4 0.6 -0.3 0.4 -0.4 0.5 -0.5 0.4 -0.6 0.5 -0.5 0.3 -0.7 0.3 -0.6 0.2 -0.6 0.1z M708.6 1266.4l-0.9 0.2 -0.9 0.1 -0.9-0.1 -0.7-0.2 -0.8-0.3 -0.6-0.3 -0.5-0.3 -0.4-0.3 -0.6-0.5 -0.4-0.4 -0.5-0.6 -0.3-0.4 -0.4-0.5 -0.3-0.6 -0.4-0.6 -0.2-0.6 -0.3-0.6 -0.2-0.6 -0.3-0.8 -0.2-0.7 -0.2-0.6 -0.2-0.9 -0.1-0.6 -0.2-0.9 -0.1-0.6 -0.2-0.9 -0.1-0.6 -0.2-0.9 -0.1-0.6 -0.1-0.9 -0.1-0.6 -0.2-0.9 -0.1-0.6 -0.2-0.9 -0.1-0.6 -0.1-0.9 -0.2-0.9 -0.1-0.6 -0.1-0.9 -0.1-0.9 0-0.6 -0.1-0.9 0-0.9 0-0.9 0.1-0.9 0.1-0.6 0.1-0.9 0.1-0.8 0.2-0.7 0.1-0.6 0.3-0.9 0.2-0.6 0.2-0.6 0.3-0.6 0.3-0.6 0.3-0.6 0.4-0.6 0.4-0.6 0.3-0.4 0.4-0.5 0.5-0.5 0.4-0.4 0.5-0.5 0.6-0.4 0.5-0.3 0.5-0.3 0.6-0.3 0.8-0.3 0.6-0.1 0.9-0.2 0.6 0 0.9 0 0.6 0 0.9 0.2 0.6 0.2 0.6 0.3 0.6 0.2 0.6 0.4 0.6 0.4 0.5 0.4 0.4 0.4 0.5 0.5 0.4 0.4 0.4 0.5 0.4 0.6 0.4 0.5 0.3 0.6 0.3 0.5 0.3 0.6 0.3 0.7 0.2 0.7 0.2 0.6 0.2 0.6 0.2 0.9 0.2 0.6 0.1 0.9 0.1 0.7 0.1 0.8 0 0.9 0 0.9 0 0.9 0 0.9 0 0.9 -0.1 0.6 -0.1 0.9 -0.1 0.9 -0.1 0.9 -0.1 0.6 -0.1 0.9 -0.1 0.9 -0.1 0.6 -0.1 0.9 -0.1 0.9 -0.1 0.6 -0.1 0.9 -0.1 0.9 -0.1 0.6 -0.1 0.9 -0.1 0.6 -0.2 0.9 -0.1 0.7 -0.2 0.8 -0.2 0.6 -0.2 0.7 -0.3 0.8 -0.3 0.6 -0.3 0.6 -0.3 0.6 -0.3 0.5 -0.3 0.4 -0.5 0.6 -0.4 0.5 -0.5 0.4 -0.4 0.3 -0.6 0.5 -0.6 0.3 -0.6 0.2 -0.6 0.2z M707.4 1268.2l-0.9 0 -0.6-0.1 -0.9-0.2 -0.6-0.2 -0.6-0.2 -0.6-0.3 -0.6-0.4 -0.5-0.4 -0.4-0.4 -0.5-0.5 -0.4-0.4 -0.4-0.5 -0.4-0.6 -0.4-0.6 -0.3-0.5 -0.3-0.6 -0.3-0.7 -0.3-0.6 -0.2-0.6 -0.2-0.6 -0.2-0.8 -0.2-0.7 -0.1-0.6 -0.2-0.9 -0.1-0.6 -0.2-0.9 -0.1-0.6 -0.1-0.9 -0.2-0.9 -0.1-0.6 -0.1-0.9 -0.1-0.6 -0.2-0.9 -0.1-0.7 -0.1-0.8 -0.2-0.9 -0.1-0.6 -0.1-0.9 -0.1-0.6 -0.1-0.9 -0.1-0.9 -0.1-0.9 0-0.6 -0.1-0.9 0-0.9 0.1-0.9 0-0.6 0.1-0.9 0.1-0.9 0.1-0.6 0.2-0.9 0.1-0.6 0.3-0.9 0.2-0.6 0.2-0.6 0.3-0.6 0.2-0.6 0.4-0.6 0.3-0.6 0.4-0.6 0.4-0.6 0.3-0.4 0.4-0.5 0.5-0.5 0.4-0.4 0.5-0.5 0.6-0.4 0.4-0.3 0.5-0.3 0.6-0.3 0.6-0.3 0.9-0.3 0.6-0.1 0.9-0.2 0.6 0 0.9 0 0.6 0 0.9 0.2 0.6 0.2 0.6 0.2 0.6 0.3 0.6 0.3 0.6 0.4 0.6 0.4 0.5 0.4 0.4 0.4 0.5 0.5 0.4 0.4 0.4 0.5 0.4 0.6 0.4 0.5 0.3 0.5 0.3 0.6 0.3 0.6 0.3 0.6 0.3 0.8 0.2 0.6 0.2 0.6 0.2 0.7 0.2 0.8 0.1 0.6 0.2 0.9 0.1 0.9 0 0.6 0.1 0.9 0 0.9 0 0.9 0 0.9 0 0.9 -0.1 0.9 0 0.6 -0.1 0.9 -0.1 0.9 -0.1 0.8 -0.1 0.7 -0.1 0.9 -0.1 0.9 0 0.6 -0.1 0.9 -0.1 0.9 -0.1 0.7 -0.1 0.8 -0.1 0.9 -0.1 0.9 -0.1 0.6 -0.1 0.9 -0.1 0.6 -0.2 0.9 -0.2 0.6 -0.2 0.8 -0.2 0.7 -0.2 0.6 -0.3 0.6 -0.3 0.6 -0.3 0.6 -0.3 0.6 -0.4 0.6 -0.4 0.5 -0.3 0.4 -0.6 0.6 -0.3 0.3 -0.6 0.5 -0.6 0.4 -0.5 0.3 -0.6 0.3 -0.7 0.3 -0.6 0.1 -0.9 0.2z M707.4 1269.7l-0.9 0 -0.6 0 -0.9-0.2 -0.6-0.2 -0.6-0.2 -0.6-0.3 -0.6-0.4 -0.6-0.4 -0.6-0.4 -0.3-0.3 -0.6-0.6 -0.3-0.3 -0.5-0.6 -0.4-0.6 -0.3-0.4 -0.3-0.5 -0.3-0.6 -0.3-0.6 -0.3-0.6 -0.3-0.7 -0.3-0.8 -0.2-0.6 -0.1-0.6 -0.3-0.9 -0.1-0.6 -0.2-0.9 -0.1-0.6 -0.2-0.9 -0.1-0.6 -0.1-0.9 -0.1-0.8 -0.1-0.7 -0.1-0.9 -0.1-0.6 -0.2-0.9 -0.1-0.9 -0.1-0.6 -0.1-0.9 -0.1-0.6 -0.2-0.9 -0.1-0.9 -0.1-0.6 -0.1-0.9 0-0.9 -0.1-0.9 0-0.6 0-0.9 0-0.9 0-0.9 0-0.6 0.1-0.9 0.1-0.9 0.2-0.6 0.1-0.9 0.2-0.6 0.2-0.8 0.2-0.7 0.2-0.6 0.3-0.6 0.2-0.6 0.3-0.6 0.3-0.6 0.4-0.6 0.4-0.6 0.4-0.6 0.3-0.4 0.4-0.5 0.5-0.5 0.4-0.4 0.5-0.5 0.6-0.4 0.4-0.3 0.5-0.3 0.6-0.4 0.6-0.3 0.6-0.2 0.9-0.3 0.6-0.1 0.9-0.2 0.6 0 0.8 0 0.7 0.1 0.9 0.1 0.6 0.2 0.6 0.2 0.8 0.3 0.5 0.3 0.6 0.3 0.5 0.4 0.6 0.4 0.5 0.4 0.4 0.4 0.5 0.5 0.4 0.4 0.4 0.5 0.4 0.6 0.4 0.6 0.3 0.4 0.3 0.6 0.3 0.5 0.3 0.7 0.3 0.7 0.3 0.7 0.2 0.6 0.2 0.6 0.2 0.8 0.2 0.7 0.1 0.8 0.1 0.7 0.1 0.9 0.1 0.6 0.1 0.9 0 0.9 0 0.9 0 0.9 0 0.9 -0.1 0.9 0 0.6 -0.1 0.9 -0.1 0.9 0 0.9 -0.1 0.6 -0.1 0.9 -0.1 0.9 -0.1 0.9 0 0.6 -0.1 0.9 -0.1 0.9 0 0.9 -0.1 0.6 -0.1 0.9 -0.1 0.9 -0.1 0.7 -0.1 0.8 -0.2 0.9 -0.1 0.6 -0.2 0.8 -0.2 0.7 -0.2 0.6 -0.2 0.6 -0.3 0.7 -0.3 0.7 -0.3 0.6 -0.3 0.5 -0.3 0.5 -0.4 0.6 -0.5 0.6 -0.3 0.4 -0.5 0.5 -0.4 0.4 -0.6 0.5 -0.4 0.3 -0.5 0.3 -0.6 0.3 -0.6 0.3 -0.8 0.3 -0.7 0.2 -0.9 0.1z M708.9 1271.0l-0.9 0.1 -0.9 0.1 -0.9-0.1 -0.9-0.1 -0.6-0.1 -0.8-0.3 -0.7-0.3 -0.6-0.3 -0.5-0.3 -0.5-0.3 -0.5-0.4 -0.6-0.5 -0.3-0.3 -0.6-0.6 -0.3-0.3 -0.5-0.6 -0.4-0.6 -0.3-0.5 -0.3-0.5 -0.3-0.5 -0.3-0.6 -0.3-0.7 -0.3-0.7 -0.2-0.7 -0.2-0.6 -0.2-0.6 -0.3-0.9 -0.1-0.6 -0.2-0.9 -0.1-0.6 -0.2-0.9 -0.1-0.6 -0.1-0.9 -0.1-0.8 -0.1-0.7 -0.1-0.9 -0.1-0.7 -0.1-0.8 -0.1-0.9 -0.1-0.6 -0.1-0.9 -0.2-0.9 -0.1-0.6 -0.1-0.9 -0.1-0.9 -0.1-0.6 -0.1-0.9 0-0.9 -0.1-0.9 0-0.6 0-0.9 0-0.9 0-0.6 0.1-0.9 0-0.9 0.1-0.9 0.1-0.6 0.2-0.9 0.1-0.6 0.3-0.9 0.2-0.6 0.2-0.6 0.2-0.7 0.3-0.7 0.3-0.7 0.3-0.6 0.3-0.5 0.3-0.5 0.3-0.5 0.4-0.6 0.5-0.6 0.3-0.4 0.4-0.5 0.5-0.5 0.4-0.4 0.5-0.4 0.6-0.5 0.5-0.3 0.5-0.3 0.5-0.3 0.6-0.3 0.8-0.3 0.7-0.2 0.6-0.2 0.9-0.1 0.9-0.1 0.9 0 0.9 0.1 0.9 0.2 0.6 0.2 0.6 0.2 0.6 0.2 0.6 0.3 0.6 0.3 0.6 0.4 0.6 0.5 0.4 0.3 0.5 0.4 0.5 0.5 0.4 0.4 0.4 0.5 0.5 0.6 0.3 0.4 0.3 0.5 0.4 0.6 0.3 0.6 0.3 0.6 0.3 0.6 0.3 0.6 0.2 0.6 0.3 0.7 0.2 0.8 0.2 0.6 0.2 0.7 0.2 0.8 0.1 0.7 0.1 0.8 0.1 0.9 0.1 0.7 0.1 0.8 0 0.9 0 0.9 0 0.9 0 0.9 -0.1 0.9 0 0.6 -0.1 0.9 0 0.9 -0.1 0.9 -0.1 0.9 0 0.6 -0.1 0.9 -0.1 0.9 0 0.9 -0.1 0.7 -0.1 0.8 0 0.9 -0.1 0.9 -0.1 0.9 0 0.6 -0.2 0.9 -0.1 0.9 -0.1 0.6 -0.2 0.9 -0.1 0.6 -0.2 0.8 -0.2 0.7 -0.2 0.6 -0.2 0.6 -0.3 0.6 -0.3 0.7 -0.3 0.6 -0.3 0.5 -0.3 0.6 -0.4 0.6 -0.5 0.6 -0.3 0.4 -0.5 0.5 -0.4 0.4 -0.5 0.5 -0.4 0.3 -0.6 0.4 -0.6 0.4 -0.6 0.3 -0.6 0.3 -0.6 0.2 -0.6 0.2z M708.6 1272.4l-0.9 0.1 -0.9 0.1 -0.9-0.1 -0.7-0.1 -0.8-0.2 -0.6-0.2 -0.6-0.2 -0.7-0.3 -0.5-0.3 -0.6-0.4 -0.6-0.4 -0.5-0.4 -0.4-0.3 -0.6-0.6 -0.3-0.3 -0.5-0.6 -0.4-0.5 -0.3-0.4 -0.4-0.6 -0.4-0.6 -0.3-0.6 -0.3-0.6 -0.3-0.6 -0.2-0.6 -0.3-0.6 -0.2-0.6 -0.3-0.9 -0.1-0.6 -0.2-0.6 -0.2-0.9 -0.1-0.6 -0.2-0.9 -0.1-0.6 -0.1-0.9 -0.2-0.9 0-0.6 -0.2-0.9 -0.1-0.9 0-0.6 -0.1-0.9 -0.2-0.9 0-0.6 -0.2-0.9 -0.1-0.9 0-0.6 -0.2-0.9 -0.1-0.9 0-0.6 -0.1-0.9 -0.1-0.9 -0.1-0.9 0-0.9 0-0.6 0-0.9 0-0.6 0-0.9 0.1-0.9 0.1-0.9 0.1-0.7 0.1-0.8 0.2-0.8 0.2-0.7 0.1-0.6 0.3-0.9 0.2-0.6 0.2-0.6 0.2-0.6 0.3-0.6 0.3-0.6 0.3-0.6 0.3-0.6 0.4-0.6 0.4-0.6 0.4-0.5 0.3-0.4 0.5-0.6 0.4-0.5 0.4-0.4 0.5-0.4 0.6-0.5 0.3-0.3 0.6-0.4 0.6-0.4 0.6-0.3 0.6-0.3 0.6-0.2 0.6-0.2 0.9-0.3 0.6-0.1 0.9-0.1 0.9-0.1 0.9 0.1 0.9 0.1 0.6 0.1 0.9 0.3 0.6 0.2 0.6 0.2 0.6 0.3 0.6 0.3 0.6 0.4 0.6 0.4 0.3 0.3 0.6 0.5 0.5 0.4 0.4 0.4 0.4 0.5 0.5 0.6 0.3 0.4 0.4 0.5 0.4 0.6 0.4 0.6 0.3 0.6 0.3 0.6 0.3 0.6 0.3 0.6 0.2 0.6 0.2 0.6 0.2 0.6 0.3 0.9 0.2 0.6 0.1 0.6 0.2 0.9 0.1 0.7 0.1 0.8 0.1 0.9 0.1 0.9 0 0.6 0.1 0.9 0 0.9 0 0.9 0 0.9 -0.1 0.9 0 0.6 -0.1 0.9 0 0.9 -0.1 0.9 -0.1 0.9 0 0.6 -0.1 0.9 0 0.9 -0.1 0.9 0 0.9 -0.1 0.9 0 0.6 -0.1 0.9 -0.1 0.9 -0.1 0.9 0 0.6 -0.1 0.9 -0.2 0.9 -0.1 0.6 -0.2 0.9 -0.1 0.6 -0.2 0.7 -0.3 0.8 -0.2 0.6 -0.2 0.6 -0.2 0.6 -0.3 0.6 -0.3 0.6 -0.3 0.6 -0.4 0.6 -0.4 0.6 -0.4 0.5 -0.3 0.4 -0.5 0.6 -0.4 0.4 -0.5 0.5 -0.4 0.3 -0.6 0.5 -0.6 0.4 -0.5 0.3 -0.5 0.3 -0.7 0.3 -0.7 0.3 -0.6 0.1 -0.7 0.2z M707.7 1273.9l-0.9 0 -0.7 0 -0.8-0.1 -0.9-0.2 -0.6-0.2 -0.6-0.2 -0.6-0.2 -0.6-0.3 -0.6-0.3 -0.6-0.4 -0.6-0.4 -0.4-0.4 -0.5-0.4 -0.5-0.5 -0.4-0.4 -0.5-0.5 -0.4-0.5 -0.3-0.4 -0.4-0.6 -0.4-0.6 -0.3-0.6 -0.4-0.6 -0.3-0.6 -0.2-0.6 -0.3-0.6 -0.2-0.6 -0.2-0.6 -0.3-0.9 -0.2-0.6 -0.1-0.6 -0.2-0.9 -0.2-0.6 -0.1-0.9 -0.1-0.6 -0.2-0.9 -0.1-0.9 -0.1-0.6 -0.1-0.9 -0.1-0.9 0-0.6 -0.1-0.9 -0.1-0.9 -0.1-0.6 -0.1-0.9 -0.1-0.9 -0.1-0.6 -0.1-0.9 -0.1-0.9 -0.1-0.9 -0.1-0.6 0-0.9 -0.1-0.9 -0.1-0.9 0-0.9 0-0.9 0-0.9 0.1-0.9 0-0.9 0.1-0.9 0.1-0.7 0.1-0.8 0.2-0.9 0.1-0.6 0.2-0.7 0.2-0.8 0.2-0.6 0.2-0.6 0.3-0.8 0.3-0.7 0.3-0.6 0.3-0.6 0.3-0.6 0.3-0.5 0.3-0.5 0.3-0.5 0.4-0.6 0.5-0.6 0.3-0.4 0.5-0.5 0.4-0.4 0.5-0.5 0.4-0.4 0.6-0.5 0.5-0.3 0.4-0.3 0.6-0.4 0.6-0.3 0.6-0.3 0.6-0.2 0.7-0.3 0.8-0.2 0.6-0.1 0.9-0.2 0.9 0 0.9 0 0.9 0.1 0.8 0.1 0.7 0.2 0.6 0.1 0.7 0.3 0.7 0.3 0.6 0.3 0.5 0.3 0.5 0.3 0.6 0.4 0.6 0.5 0.4 0.3 0.5 0.5 0.4 0.4 0.5 0.5 0.4 0.4 0.4 0.6 0.4 0.5 0.3 0.4 0.4 0.6 0.3 0.6 0.4 0.6 0.3 0.6 0.3 0.6 0.2 0.6 0.3 0.6 0.2 0.6 0.3 0.9 0.2 0.6 0.1 0.6 0.3 0.9 0.1 0.6 0.1 0.9 0.1 0.6 0.2 0.9 0 0.9 0.1 0.8 0 0.7 0.1 0.9 0 0.9 0 0.9 -0.1 0.9 0 0.9 0 0.6 -0.1 0.9 0 0.9 -0.1 0.9 0 0.9 -0.1 0.9 0 0.6 -0.1 0.9 0 0.9 -0.1 0.9 0 0.9 -0.1 0.9 0 0.6 -0.1 0.9 -0.1 0.9 -0.1 0.9 0 0.6 -0.2 0.9 -0.1 0.7 -0.2 0.8 -0.1 0.6 -0.2 0.9 -0.2 0.6 -0.2 0.6 -0.3 0.8 -0.3 0.7 -0.3 0.6 -0.3 0.6 -0.3 0.6 -0.3 0.5 -0.3 0.5 -0.3 0.5 -0.5 0.6 -0.4 0.5 -0.3 0.4 -0.6 0.6 -0.3 0.3 -0.6 0.6 -0.4 0.3 -0.5 0.3 -0.6 0.4 -0.6 0.4 -0.6 0.3 -0.6 0.3 -0.6 0.2 -0.8 0.2 -0.7 0.2 -0.9 0.1z M708.9 1275.1l-0.9 0.1 -0.9 0.1 -0.9-0.1 -0.9-0.1 -0.6-0.1 -0.9-0.2 -0.6-0.2 -0.6-0.2 -0.6-0.3 -0.6-0.3 -0.6-0.3 -0.6-0.4 -0.5-0.4 -0.4-0.3 -0.6-0.5 -0.4-0.4 -0.5-0.5 -0.4-0.4 -0.5-0.6 -0.3-0.4 -0.4-0.5 -0.4-0.6 -0.3-0.6 -0.4-0.6 -0.3-0.6 -0.3-0.6 -0.2-0.6 -0.3-0.6 -0.2-0.6 -0.2-0.6 -0.3-0.8 -0.2-0.7 -0.1-0.6 -0.3-0.9 -0.1-0.6 -0.2-0.9 -0.1-0.6 -0.1-0.9 -0.1-0.8 -0.1-0.7 -0.1-0.9 -0.1-0.9 0-0.6 -0.1-0.9 -0.1-0.9 -0.1-0.7 -0.1-0.8 -0.1-0.9 -0.1-0.9 -0.1-0.6 -0.1-0.9 0-0.9 -0.1-0.6 -0.1-0.9 -0.1-0.9 0-0.9 -0.1-0.9 0-0.9 0-0.9 0-0.9 0.1-0.9 0.1-0.9 0.1-0.9 0-0.6 0.2-0.9 0.1-0.7 0.2-0.8 0.1-0.6 0.3-0.9 0.1-0.6 0.2-0.6 0.3-0.7 0.3-0.8 0.3-0.6 0.3-0.6 0.3-0.6 0.3-0.6 0.3-0.5 0.3-0.5 0.3-0.5 0.5-0.6 0.4-0.6 0.3-0.3 0.5-0.6 0.4-0.4 0.5-0.5 0.4-0.4 0.6-0.5 0.4-0.3 0.5-0.3 0.6-0.4 0.6-0.4 0.6-0.3 0.6-0.2 0.6-0.3 0.7-0.2 0.8-0.2 0.6-0.1 0.9-0.2 0.9 0 0.9 0 0.9 0.1 0.8 0.1 0.7 0.2 0.6 0.1 0.8 0.3 0.7 0.3 0.6 0.3 0.6 0.3 0.5 0.3 0.4 0.3 0.6 0.4 0.6 0.5 0.4 0.3 0.5 0.5 0.4 0.4 0.5 0.5 0.3 0.4 0.5 0.6 0.4 0.5 0.3 0.4 0.4 0.6 0.3 0.6 0.4 0.6 0.3 0.6 0.3 0.6 0.3 0.6 0.2 0.6 0.2 0.6 0.3 0.7 0.3 0.8 0.1 0.6 0.2 0.6 0.2 0.9 0.1 0.6 0.2 0.9 0.1 0.6 0.1 0.9 0.1 0.9 0.1 0.9 0 0.6 0 0.9 0.1 0.9 0 0.9 -0.1 0.9 0 0.9 0 0.6 0 0.9 -0.1 0.9 0 0.9 -0.1 0.9 0 0.9 -0.1 0.9 0 0.6 -0.1 0.9 0 0.9 0 0.9 -0.1 0.9 0 0.9 -0.1 0.9 0 0.6 -0.1 0.9 -0.1 0.9 -0.1 0.6 -0.1 0.9 -0.2 0.8 -0.1 0.7 -0.2 0.7 -0.2 0.8 -0.2 0.6 -0.2 0.6 -0.3 0.8 -0.3 0.7 -0.2 0.6 -0.3 0.6 -0.3 0.6 -0.4 0.6 -0.3 0.5 -0.3 0.5 -0.4 0.5 -0.4 0.6 -0.4 0.5 -0.4 0.4 -0.5 0.5 -0.4 0.4 -0.5 0.4 -0.6 0.5 -0.4 0.3 -0.5 0.4 -0.6 0.3 -0.6 0.3 -0.6 0.3 -0.6 0.2 -0.8 0.3 -0.7 0.2 -0.6 0.1z M709.5 1276.3l-0.9 0.2 -0.9 0.1 -0.9 0 -0.9-0.1 -0.9-0.1 -0.6-0.1 -0.9-0.2 -0.6-0.2 -0.6-0.2 -0.6-0.3 -0.6-0.3 -0.6-0.3 -0.6-0.4 -0.6-0.4 -0.5-0.4 -0.4-0.4 -0.6-0.5 -0.3-0.3 -0.6-0.6 -0.3-0.4 -0.4-0.5 -0.5-0.6 -0.3-0.4 -0.3-0.5 -0.4-0.6 -0.3-0.6 -0.4-0.6 -0.2-0.6 -0.3-0.6 -0.3-0.6 -0.2-0.6 -0.3-0.8 -0.2-0.7 -0.2-0.6 -0.2-0.7 -0.2-0.8 -0.1-0.6 -0.2-0.9 -0.1-0.6 -0.2-0.9 -0.1-0.9 -0.1-0.6 -0.1-0.9 -0.1-0.9 0-0.6 -0.1-0.9 -0.1-0.9 -0.1-0.9 0-0.6 -0.1-0.9 -0.1-0.9 -0.1-0.8 -0.1-0.7 -0.1-0.9 -0.1-0.9 0-0.6 -0.1-0.9 -0.1-0.9 0-0.9 0-0.9 -0.1-0.9 0-0.9 0.1-0.9 0-0.9 0.1-0.9 0.1-0.9 0-0.6 0.2-0.9 0.1-0.8 0.1-0.7 0.2-0.7 0.2-0.8 0.2-0.6 0.2-0.7 0.3-0.8 0.2-0.6 0.3-0.6 0.2-0.6 0.3-0.6 0.3-0.6 0.3-0.6 0.4-0.6 0.3-0.6 0.4-0.5 0.3-0.4 0.4-0.6 0.5-0.6 0.3-0.3 0.5-0.6 0.4-0.4 0.6-0.5 0.3-0.3 0.6-0.5 0.6-0.4 0.4-0.3 0.5-0.3 0.6-0.4 0.6-0.3 0.6-0.2 0.7-0.3 0.8-0.3 0.6-0.1 0.8-0.2 0.7-0.1 0.9-0.1 0.9 0 0.9 0.1 0.9 0.1 0.6 0.1 0.8 0.2 0.7 0.2 0.6 0.2 0.6 0.3 0.6 0.3 0.6 0.3 0.6 0.4 0.6 0.4 0.5 0.3 0.4 0.3 0.6 0.6 0.4 0.3 0.5 0.5 0.4 0.4 0.5 0.6 0.3 0.4 0.4 0.5 0.4 0.6 0.4 0.5 0.3 0.5 0.3 0.5 0.3 0.6 0.4 0.6 0.3 0.6 0.2 0.6 0.3 0.7 0.3 0.7 0.2 0.7 0.2 0.6 0.2 0.6 0.3 0.9 0.1 0.6 0.2 0.9 0.1 0.6 0.2 0.9 0 0.6 0.1 0.9 0.1 0.9 0.1 0.9 0 0.6 0 0.9 0.1 0.9 -0.1 0.9 0 0.9 0 0.9 0 0.6 -0.1 0.9 0 0.9 0 0.9 -0.1 0.9 0 0.9 -0.1 0.9 0 0.9 0 0.6 0 0.9 -0.1 0.9 0 0.9 -0.1 0.9 0 0.9 -0.1 0.9 -0.1 0.6 -0.1 0.9 -0.1 0.9 -0.1 0.6 -0.1 0.9 -0.2 0.6 -0.2 0.9 -0.1 0.6 -0.2 0.6 -0.3 0.9 -0.2 0.6 -0.2 0.6 -0.3 0.6 -0.3 0.6 -0.3 0.6 -0.3 0.6 -0.3 0.6 -0.4 0.6 -0.4 0.6 -0.3 0.4 -0.4 0.5 -0.5 0.6 -0.3 0.4 -0.5 0.5 -0.4 0.4 -0.6 0.5 -0.3 0.3 -0.6 0.4 -0.6 0.4 -0.6 0.4 -0.5 0.3 -0.6 0.3 -0.7 0.3 -0.6 0.2 -0.6 0.2 -0.8 0.2z M708.3 1277.8l-0.9 0.1 -0.9 0 -0.9-0.1 -0.6-0.1 -0.9-0.1 -0.6-0.2 -0.7-0.2 -0.8-0.3 -0.6-0.3 -0.6-0.3 -0.6-0.3 -0.5-0.3 -0.5-0.3 -0.5-0.4 -0.6-0.5 -0.4-0.3 -0.5-0.5 -0.4-0.4 -0.5-0.5 -0.4-0.4 -0.5-0.6 -0.3-0.4 -0.3-0.5 -0.4-0.6 -0.4-0.6 -0.4-0.6 -0.3-0.6 -0.3-0.6 -0.3-0.6 -0.2-0.6 -0.3-0.6 -0.2-0.6 -0.2-0.6 -0.3-0.9 -0.2-0.6 -0.1-0.6 -0.3-0.9 -0.1-0.6 -0.2-0.9 -0.1-0.6 -0.1-0.9 -0.1-0.6 -0.1-0.9 -0.1-0.9 -0.1-0.9 -0.1-0.6 0-0.9 -0.1-0.9 -0.1-0.9 -0.1-0.6 0-0.9 -0.1-0.9 -0.1-0.9 -0.1-0.6 -0.1-0.9 0-0.9 -0.1-0.8 -0.1-0.7 0-0.9 -0.1-0.9 0-0.9 0-0.9 0-0.9 0-0.9 0-0.9 0.1-0.9 0-0.9 0.1-0.6 0.1-0.9 0.2-0.9 0.1-0.6 0.2-0.9 0.1-0.6 0.2-0.8 0.2-0.7 0.2-0.6 0.2-0.6 0.3-0.8 0.3-0.7 0.3-0.6 0.2-0.6 0.3-0.6 0.4-0.6 0.3-0.6 0.3-0.5 0.3-0.5 0.4-0.5 0.4-0.6 0.4-0.5 0.3-0.4 0.6-0.6 0.3-0.4 0.6-0.5 0.3-0.3 0.6-0.5 0.5-0.4 0.4-0.3 0.6-0.4 0.6-0.4 0.6-0.4 0.6-0.3 0.6-0.2 0.6-0.3 0.6-0.2 0.7-0.2 0.8-0.2 0.6-0.1 0.9-0.1 0.9-0.1 0.9 0 0.9 0.1 0.6 0.1 0.9 0.2 0.6 0.1 0.9 0.3 0.6 0.2 0.6 0.3 0.6 0.3 0.6 0.3 0.6 0.4 0.5 0.3 0.4 0.3 0.6 0.4 0.6 0.5 0.3 0.3 0.6 0.5 0.3 0.4 0.6 0.6 0.3 0.3 0.5 0.6 0.4 0.6 0.3 0.4 0.3 0.5 0.4 0.6 0.4 0.6 0.3 0.6 0.3 0.6 0.3 0.6 0.3 0.6 0.2 0.6 0.3 0.6 0.2 0.6 0.3 0.9 0.2 0.6 0.2 0.6 0.2 0.9 0.1 0.6 0.2 0.9 0.1 0.6 0.2 0.9 0 0.6 0.1 0.9 0.1 0.9 0.1 0.9 0 0.7 0 0.8 0 0.9 0 0.9 0 0.9 0 0.8 0 0.7 -0.1 0.9 0 0.9 0 0.9 -0.1 0.9 0 0.9 0 0.9 0 0.9 -0.1 0.9 0 0.9 0 0.6 -0.1 0.9 0 0.9 0 0.9 -0.1 0.9 -0.1 0.9 -0.1 0.6 -0.1 0.9 -0.1 0.9 -0.1 0.6 -0.2 0.9 -0.1 0.6 -0.2 0.7 -0.2 0.8 -0.2 0.6 -0.2 0.6 -0.3 0.8 -0.3 0.7 -0.2 0.6 -0.3 0.6 -0.3 0.6 -0.3 0.6 -0.4 0.6 -0.3 0.5 -0.3 0.4 -0.4 0.6 -0.4 0.6 -0.4 0.4 -0.4 0.5 -0.5 0.5 -0.4 0.4 -0.5 0.5 -0.5 0.4 -0.4 0.4 -0.6 0.4 -0.6 0.4 -0.5 0.3 -0.5 0.3 -0.6 0.3 -0.7 0.3 -0.7 0.3 -0.6 0.2 -0.6 0.1 -0.9 0.2 -0.7 0.1z" fill="none" stroke="#000" stroke-width="0.95" stroke-linejoin="round"/>
</g>
<line x1="639.95" y1="1186.1" x2="907" y2="1186.1" stroke="#bbb" stroke-width="1.3"/>
<line x1="906.5" y1="1185.8" x2="906.5" y2="1430.8" stroke="#888" stroke-width="1.1"/>
<line x1="640.6" y1="1430.8" x2="907" y2="1430.8" stroke="#666" stroke-width="1.4"/>
<line x1="640.6" y1="1185.8" x2="640.6" y2="1431.5" stroke="#444" stroke-width="1.4"/>
<rect x="741.8" y="1189.1" width="163.5" height="137.8" fill="none" stroke="#111" stroke-width="2.2"/>
<text transform="translate(813.73,1258.3) scale(1.1504,1)" font-size="27.67">0</text>
<line x1="674.2" y1="1430.8" x2="674.2" y2="1437.4" stroke="#000" stroke-width="3"/>
<line x1="739.5" y1="1430.8" x2="739.5" y2="1437.4" stroke="#000" stroke-width="3"/>
<line x1="816" y1="1430.8" x2="816" y2="1437.4" stroke="#000" stroke-width="3"/>
<line x1="880.5" y1="1430.8" x2="880.5" y2="1437.4" stroke="#000" stroke-width="3"/>
<rect x="701.8" y="1430.8" width="9.6" height="6.6" fill="#000"/>
<line x1="690" y1="1430.8" x2="690" y2="1436" stroke="#000" stroke-width="2"/>
<line x1="724" y1="1430.8" x2="724" y2="1436" stroke="#000" stroke-width="2"/>
<line x1="650.9" y1="1430.8" x2="650.9" y2="1434.3" stroke="#111" stroke-width="1.1"/>
<line x1="677.5" y1="1430.8" x2="677.5" y2="1434.3" stroke="#111" stroke-width="1.1"/>
<line x1="680.4" y1="1430.8" x2="680.4" y2="1434.3" stroke="#111" stroke-width="1.1"/>
<line x1="683.4" y1="1430.8" x2="683.4" y2="1434.3" stroke="#111" stroke-width="1.1"/>
<line x1="686.3" y1="1430.8" x2="686.3" y2="1434.3" stroke="#111" stroke-width="1.1"/>
<line x1="692.6" y1="1430.8" x2="692.6" y2="1434.3" stroke="#111" stroke-width="1.1"/>
<line x1="695.9" y1="1430.8" x2="695.9" y2="1434.3" stroke="#111" stroke-width="1.1"/>
<line x1="698.9" y1="1430.8" x2="698.9" y2="1434.3" stroke="#111" stroke-width="1.1"/>
<line x1="714" y1="1430.8" x2="714" y2="1434.3" stroke="#111" stroke-width="1.1"/>
<line x1="718.1" y1="1430.8" x2="718.1" y2="1434.3" stroke="#111" stroke-width="1.1"/>
<line x1="721" y1="1430.8" x2="721" y2="1434.3" stroke="#111" stroke-width="1.1"/>
<line x1="728.4" y1="1430.8" x2="728.4" y2="1434.3" stroke="#111" stroke-width="1.1"/>
<line x1="731.4" y1="1430.8" x2="731.4" y2="1434.3" stroke="#111" stroke-width="1.1"/>
<line x1="734.3" y1="1430.8" x2="734.3" y2="1434.3" stroke="#111" stroke-width="1.1"/>
<line x1="762.53" y1="1430.8" x2="762.53" y2="1434.3" stroke="#111" stroke-width="1.1"/>
<line x1="835.42" y1="1430.8" x2="835.42" y2="1434.3" stroke="#111" stroke-width="1.1"/>
<line x1="776" y1="1430.8" x2="776" y2="1434.3" stroke="#111" stroke-width="1.1"/>
<line x1="846.77" y1="1430.8" x2="846.77" y2="1434.3" stroke="#111" stroke-width="1.1"/>
<line x1="785.56" y1="1430.8" x2="785.56" y2="1434.3" stroke="#111" stroke-width="1.1"/>
<line x1="854.83" y1="1430.8" x2="854.83" y2="1434.3" stroke="#111" stroke-width="1.1"/>
<line x1="792.97" y1="1430.8" x2="792.97" y2="1436" stroke="#111" stroke-width="2"/>
<line x1="861.08" y1="1430.8" x2="861.08" y2="1436" stroke="#111" stroke-width="2"/>
<line x1="799.03" y1="1430.8" x2="799.03" y2="1434.3" stroke="#111" stroke-width="1.1"/>
<line x1="866.19" y1="1430.8" x2="866.19" y2="1434.3" stroke="#111" stroke-width="1.1"/>
<line x1="804.15" y1="1430.8" x2="804.15" y2="1434.3" stroke="#111" stroke-width="1.1"/>
<line x1="870.51" y1="1430.8" x2="870.51" y2="1434.3" stroke="#111" stroke-width="1.1"/>
<line x1="808.59" y1="1430.8" x2="808.59" y2="1434.3" stroke="#111" stroke-width="1.1"/>
<line x1="874.25" y1="1430.8" x2="874.25" y2="1434.3" stroke="#111" stroke-width="1.1"/>
<line x1="812.5" y1="1430.8" x2="812.5" y2="1434.3" stroke="#111" stroke-width="1.1"/>
<line x1="877.55" y1="1430.8" x2="877.55" y2="1434.3" stroke="#111" stroke-width="1.1"/>
<line x1="898.56" y1="1430.8" x2="898.56" y2="1434.3" stroke="#111" stroke-width="1.1"/>
<line x1="633.2" y1="1207.7" x2="640.6" y2="1207.7" stroke="#000" stroke-width="3"/>
<line x1="633.2" y1="1266.2" x2="640.6" y2="1266.2" stroke="#000" stroke-width="3"/>
<line x1="633.2" y1="1333.3" x2="640.6" y2="1333.3" stroke="#000" stroke-width="3"/>
<line x1="633.2" y1="1414.2" x2="640.6" y2="1414.2" stroke="#000" stroke-width="3"/>
<rect x="633.2" y="1368.8" width="7.4" height="11.8" fill="#000"/>
<line x1="635" y1="1352.9" x2="640.6" y2="1352.9" stroke="#000" stroke-width="2"/>
<line x1="635" y1="1397.6" x2="640.6" y2="1397.6" stroke="#000" stroke-width="2"/>
<line x1="637.1" y1="1344.4" x2="640.6" y2="1344.4" stroke="#111" stroke-width="1.1"/>
<line x1="637.1" y1="1348.9" x2="640.6" y2="1348.9" stroke="#111" stroke-width="1.1"/>
<line x1="637.1" y1="1355.5" x2="640.6" y2="1355.5" stroke="#111" stroke-width="1.1"/>
<line x1="637.1" y1="1360.3" x2="640.6" y2="1360.3" stroke="#111" stroke-width="1.1"/>
<line x1="637.1" y1="1365.5" x2="640.6" y2="1365.5" stroke="#111" stroke-width="1.1"/>
<line x1="637.1" y1="1383.9" x2="640.6" y2="1383.9" stroke="#111" stroke-width="1.1"/>
<line x1="637.1" y1="1388.3" x2="640.6" y2="1388.3" stroke="#111" stroke-width="1.1"/>
<line x1="637.1" y1="1392.4" x2="640.6" y2="1392.4" stroke="#111" stroke-width="1.1"/>
<line x1="637.1" y1="1400.9" x2="640.6" y2="1400.9" stroke="#111" stroke-width="1.1"/>
<line x1="637.1" y1="1404.6" x2="640.6" y2="1404.6" stroke="#111" stroke-width="1.1"/>
<line x1="637.1" y1="1408.6" x2="640.6" y2="1408.6" stroke="#111" stroke-width="1.1"/>
<line x1="637.1" y1="1313.1" x2="640.6" y2="1313.1" stroke="#111" stroke-width="1.1"/>
<line x1="637.1" y1="1248.59" x2="640.6" y2="1248.59" stroke="#111" stroke-width="1.1"/>
<line x1="637.1" y1="1301.29" x2="640.6" y2="1301.29" stroke="#111" stroke-width="1.1"/>
<line x1="637.1" y1="1238.29" x2="640.6" y2="1238.29" stroke="#111" stroke-width="1.1"/>
<line x1="637.1" y1="1292.9" x2="640.6" y2="1292.9" stroke="#111" stroke-width="1.1"/>
<line x1="637.1" y1="1230.98" x2="640.6" y2="1230.98" stroke="#111" stroke-width="1.1"/>
<line x1="635" y1="1286.4" x2="640.6" y2="1286.4" stroke="#111" stroke-width="2"/>
<line x1="635" y1="1225.31" x2="640.6" y2="1225.31" stroke="#111" stroke-width="2"/>
<line x1="637.1" y1="1281.09" x2="640.6" y2="1281.09" stroke="#111" stroke-width="1.1"/>
<line x1="637.1" y1="1220.68" x2="640.6" y2="1220.68" stroke="#111" stroke-width="1.1"/>
<line x1="637.1" y1="1276.59" x2="640.6" y2="1276.59" stroke="#111" stroke-width="1.1"/>
<line x1="637.1" y1="1216.76" x2="640.6" y2="1216.76" stroke="#111" stroke-width="1.1"/>
<line x1="637.1" y1="1272.7" x2="640.6" y2="1272.7" stroke="#111" stroke-width="1.1"/>
<line x1="637.1" y1="1213.37" x2="640.6" y2="1213.37" stroke="#111" stroke-width="1.1"/>
<line x1="637.1" y1="1269.27" x2="640.6" y2="1269.27" stroke="#111" stroke-width="1.1"/>
<line x1="637.1" y1="1210.38" x2="640.6" y2="1210.38" stroke="#111" stroke-width="1.1"/>
<line x1="637.1" y1="1191.14" x2="640.6" y2="1191.14" stroke="#111" stroke-width="1.1"/>
<text transform="translate(579.91,1217.4) scale(0.9237,1)" font-size="27.24">10</text>
<text transform="translate(609.87,1204.5) scale(1.1022,1)" font-size="18.91">5</text>
<text transform="translate(579.91,1276.9) scale(0.9189,1)" font-size="27.38">10</text>
<text transform="translate(610.26,1263.9) scale(1.0448,1)" font-size="18.76">4</text>
<text transform="translate(579.91,1343.1) scale(0.9237,1)" font-size="27.24">10</text>
<text transform="translate(609.92,1330.2) scale(1.1183,1)" font-size="18.64">3</text>
<text transform="translate(579.91,1382) scale(0.9237,1)" font-size="27.24">10</text>
<text transform="translate(609.87,1369) scale(1.1210,1)" font-size="18.49">0</text>
<text transform="translate(570.71,1423.1) scale(0.9682,1)" font-size="26.09">10</text>
<text transform="translate(599.85,1411) scale(1.1465,1)" font-size="16.49">−3</text>
<text transform="translate(675.49,1478.2) scale(0.9624,1)" font-size="27.81">10</text>
<text transform="translate(707.35,1466.1) scale(1.0538,1)" font-size="20.07">0</text>
<text transform="translate(732.34,1478.2) scale(0.9407,1)" font-size="27.81">10</text>
<text transform="translate(762.31,1466.1) scale(1.0489,1)" font-size="20.07">3</text>
<text transform="translate(795.24,1478.2) scale(0.9407,1)" font-size="27.81">10</text>
<text transform="translate(825.55,1466.1) scale(0.9724,1)" font-size="20.36">4</text>
<text transform="translate(858.68,1478.2) scale(0.9660,1)" font-size="27.81">10</text>
<text transform="translate(889.42,1466.1) scale(0.9615,1)" font-size="20.36">5</text>
<text transform="translate(640.01,1514.3)" font-size="27.81">CD38</text>
<line x1="723.3" y1="1506" x2="893" y2="1506" stroke="#000" stroke-width="4.4"/>
<path d="M907 1506 L891 1499.4 L894 1506 L891 1512.6 Z" fill="#000"/>
<line x1="550.1" y1="1348.5" x2="550.1" y2="1199.8" stroke="#000" stroke-width="4.4"/>
<path d="M550.1 1185.8 L543.5 1201.8 L550.1 1198.8 L556.7 1201.8 Z" fill="#000"/>
<text transform="translate(559.2,1434.08) rotate(-90) scale(0.8526,1)" font-size="29.96">CD11b</text>
<text transform="translate(741.3,1166.1) scale(0.9807,1)" font-size="29.68">FMO</text>
<g>
<path d="M1147.7 1240.7l-0.6 0 -0.7-0.3 -0.5-0.6 -0.3-0.6 0.1-0.9 0.4-0.6 0.4-0.3 0.9-0.2 0.7 0.2 0.5 0.4 0.4 0.5 0.1 0.9 -0.2 0.7 -0.5 0.5 -0.6 0.3z M1148.3 1242.5l-0.9 0.1 -0.6-0.1 -0.8-0.3 -0.5-0.3 -0.5-0.4 -0.4-0.5 -0.4-0.6 -0.2-0.6 -0.1-0.9 0-0.9 0.2-0.6 0.4-0.6 0.5-0.5 0.6-0.4 0.6-0.2 0.6-0.2 0.9 0.1 0.6 0.1 0.6 0.2 0.6 0.4 0.5 0.5 0.4 0.5 0.3 0.7 0.1 0.6 0.1 0.9 -0.2 0.7 -0.3 0.7 -0.3 0.5 -0.5 0.5 -0.5 0.3 -0.7 0.3z M1149.2 1244.3l-0.9 0.2 -0.9 0.1 -0.9-0.2 -0.6-0.2 -0.6-0.3 -0.6-0.4 -0.5-0.4 -0.4-0.4 -0.5-0.5 -0.4-0.6 -0.3-0.6 -0.2-0.6 -0.2-0.6 -0.1-0.9 0-0.9 0.2-0.7 0.3-0.8 0.3-0.5 0.3-0.4 0.6-0.6 0.5-0.3 0.5-0.3 0.8-0.3 0.6-0.1 0.9-0.1 0.9 0 0.7 0.2 0.8 0.3 0.6 0.3 0.4 0.3 0.5 0.4 0.5 0.5 0.4 0.6 0.3 0.6 0.2 0.6 0.2 0.6 0 0.9 0 0.9 -0.2 0.6 -0.2 0.7 -0.3 0.6 -0.3 0.5 -0.5 0.6 -0.4 0.4 -0.6 0.4 -0.6 0.3z M1149.5 1246.4l-0.9 0.2 -0.9 0 -0.9-0.1 -0.6-0.1 -0.7-0.3 -0.7-0.3 -0.5-0.3 -0.5-0.4 -0.6-0.5 -0.3-0.3 -0.6-0.6 -0.3-0.4 -0.3-0.5 -0.4-0.6 -0.3-0.6 -0.2-0.6 -0.3-0.9 -0.1-0.6 -0.1-0.9 0.1-0.9 0.1-0.6 0.3-0.9 0.3-0.6 0.3-0.5 0.3-0.4 0.6-0.6 0.3-0.3 0.6-0.4 0.6-0.4 0.6-0.2 0.6-0.2 0.9-0.2 0.6-0.1 0.9 0 0.6 0 0.9 0.2 0.6 0.1 0.7 0.3 0.6 0.3 0.5 0.3 0.6 0.4 0.5 0.5 0.4 0.4 0.4 0.5 0.3 0.6 0.3 0.6 0.3 0.6 0.2 0.9 0.1 0.6 0 0.9 -0.1 0.9 -0.1 0.6 -0.2 0.8 -0.3 0.7 -0.3 0.6 -0.3 0.6 -0.3 0.4 -0.4 0.5 -0.5 0.5 -0.5 0.4 -0.4 0.3 -0.6 0.3 -0.7 0.3z M1149.2 1248.8l-0.9 0.1 -0.9-0.1 -0.6-0.1 -0.8-0.2 -0.7-0.3 -0.6-0.2 -0.6-0.4 -0.5-0.3 -0.4-0.3 -0.6-0.5 -0.5-0.4 -0.4-0.4 -0.4-0.5 -0.5-0.6 -0.3-0.4 -0.3-0.5 -0.4-0.6 -0.3-0.6 -0.2-0.6 -0.3-0.7 -0.2-0.8 -0.1-0.6 -0.1-0.9 0-0.9 0.1-0.8 0.1-0.7 0.2-0.6 0.3-0.6 0.3-0.6 0.4-0.6 0.5-0.6 0.3-0.3 0.6-0.6 0.4-0.3 0.5-0.3 0.6-0.4 0.6-0.2 0.7-0.3 0.8-0.2 0.6-0.1 0.9-0.1 0.9 0 0.9 0 0.6 0.1 0.9 0.2 0.6 0.2 0.6 0.3 0.6 0.3 0.6 0.3 0.6 0.4 0.4 0.4 0.5 0.4 0.4 0.5 0.5 0.6 0.3 0.4 0.3 0.6 0.3 0.6 0.3 0.8 0.1 0.6 0.2 0.9 0.1 0.6 0 0.9 -0.1 0.8 -0.1 0.7 -0.2 0.8 -0.2 0.7 -0.2 0.6 -0.3 0.6 -0.3 0.6 -0.4 0.6 -0.4 0.6 -0.3 0.4 -0.5 0.5 -0.4 0.4 -0.6 0.5 -0.5 0.3 -0.6 0.3 -0.7 0.3 -0.6 0.2 -0.6 0.1z M1149.2 1251.2l-0.9 0 -0.6 0 -0.9-0.2 -0.6-0.1 -0.8-0.3 -0.7-0.3 -0.5-0.3 -0.5-0.3 -0.5-0.3 -0.6-0.4 -0.6-0.5 -0.3-0.3 -0.6-0.6 -0.3-0.3 -0.6-0.6 -0.3-0.4 -0.4-0.5 -0.4-0.6 -0.4-0.6 -0.3-0.5 -0.3-0.6 -0.3-0.6 -0.3-0.7 -0.2-0.6 -0.1-0.6 -0.2-0.9 -0.1-0.6 -0.1-0.9 0.1-0.9 0-0.6 0.2-0.9 0.2-0.6 0.2-0.6 0.3-0.7 0.3-0.5 0.4-0.6 0.5-0.6 0.3-0.3 0.6-0.6 0.3-0.3 0.6-0.4 0.6-0.4 0.6-0.3 0.6-0.3 0.6-0.2 0.6-0.2 0.9-0.3 0.6-0.1 0.9-0.1 0.9 0 0.9 0 0.9 0.1 0.6 0.1 0.9 0.3 0.6 0.2 0.6 0.2 0.6 0.3 0.6 0.3 0.6 0.4 0.6 0.4 0.4 0.3 0.5 0.5 0.4 0.4 0.5 0.6 0.3 0.4 0.4 0.5 0.3 0.6 0.3 0.6 0.2 0.6 0.3 0.9 0.1 0.6 0.2 0.9 0 0.6 0 0.9 0 0.7 -0.1 0.8 -0.2 0.9 -0.1 0.6 -0.2 0.7 -0.3 0.8 -0.2 0.6 -0.3 0.6 -0.3 0.6 -0.4 0.6 -0.3 0.5 -0.3 0.4 -0.5 0.6 -0.4 0.4 -0.5 0.5 -0.4 0.4 -0.6 0.4 -0.6 0.4 -0.6 0.3 -0.6 0.2 -0.6 0.2 -0.9 0.2z M1150.1 1253.6l-0.9 0.1 -0.9 0 -0.7-0.1 -0.8-0.1 -0.6-0.2 -0.8-0.3 -0.7-0.3 -0.6-0.3 -0.5-0.3 -0.5-0.3 -0.5-0.3 -0.6-0.5 -0.5-0.4 -0.4-0.4 -0.6-0.5 -0.3-0.3 -0.5-0.6 -0.4-0.4 -0.4-0.5 -0.5-0.6 -0.3-0.4 -0.3-0.5 -0.4-0.6 -0.3-0.6 -0.4-0.6 -0.3-0.6 -0.2-0.6 -0.3-0.6 -0.2-0.6 -0.2-0.9 -0.2-0.6 -0.1-0.9 -0.1-0.7 0-0.8 0-0.7 0.1-0.8 0.2-0.9 0.1-0.6 0.2-0.6 0.3-0.6 0.3-0.6 0.3-0.6 0.4-0.6 0.5-0.6 0.3-0.3 0.6-0.6 0.3-0.3 0.6-0.5 0.6-0.4 0.5-0.3 0.5-0.3 0.7-0.3 0.7-0.3 0.6-0.2 0.6-0.2 0.9-0.2 0.6-0.1 0.9-0.1 0.9-0.1 0.9 0 0.9 0.1 0.9 0.1 0.6 0.2 0.9 0.2 0.6 0.2 0.6 0.2 0.6 0.3 0.6 0.3 0.6 0.3 0.6 0.4 0.6 0.4 0.3 0.3 0.6 0.5 0.4 0.4 0.5 0.5 0.3 0.4 0.4 0.6 0.4 0.6 0.3 0.6 0.3 0.6 0.3 0.6 0.2 0.6 0.2 0.8 0.1 0.7 0.2 0.9 0 0.6 0 0.9 0 0.6 -0.1 0.9 -0.1 0.9 -0.1 0.6 -0.2 0.9 -0.2 0.6 -0.2 0.6 -0.3 0.8 -0.3 0.7 -0.3 0.6 -0.3 0.6 -0.3 0.5 -0.3 0.5 -0.3 0.5 -0.5 0.6 -0.4 0.5 -0.3 0.4 -0.6 0.6 -0.4 0.3 -0.5 0.4 -0.6 0.4 -0.6 0.4 -0.6 0.3 -0.6 0.2 -0.6 0.2 -0.9 0.2z M1150.7 1256.1l-0.9 0.1 -0.9 0 -0.9-0.1 -0.7-0.1 -0.8-0.2 -0.6-0.2 -0.7-0.2 -0.7-0.3 -0.6-0.3 -0.5-0.3 -0.5-0.3 -0.6-0.4 -0.6-0.5 -0.4-0.3 -0.5-0.4 -0.6-0.5 -0.3-0.3 -0.6-0.6 -0.3-0.4 -0.5-0.5 -0.4-0.5 -0.3-0.4 -0.5-0.6 -0.4-0.6 -0.3-0.4 -0.3-0.5 -0.4-0.6 -0.3-0.6 -0.3-0.6 -0.3-0.6 -0.3-0.6 -0.3-0.6 -0.2-0.6 -0.3-0.9 -0.2-0.6 -0.1-0.6 -0.1-0.9 -0.1-0.9 -0.1-0.9 0.1-0.9 0.1-0.9 0.1-0.8 0.2-0.7 0.2-0.6 0.2-0.6 0.3-0.7 0.3-0.5 0.4-0.6 0.4-0.6 0.4-0.5 0.3-0.4 0.6-0.6 0.3-0.3 0.6-0.5 0.5-0.4 0.5-0.3 0.5-0.3 0.6-0.4 0.6-0.3 0.6-0.2 0.7-0.3 0.8-0.3 0.6-0.1 0.7-0.2 0.8-0.1 0.9-0.1 0.7-0.1 0.8 0 0.7 0 0.8 0.1 0.9 0.1 0.7 0.1 0.8 0.2 0.6 0.1 0.8 0.3 0.7 0.3 0.6 0.2 0.6 0.3 0.6 0.4 0.5 0.3 0.5 0.3 0.5 0.4 0.6 0.5 0.4 0.3 0.5 0.5 0.3 0.4 0.5 0.6 0.4 0.5 0.3 0.4 0.4 0.6 0.3 0.6 0.3 0.6 0.2 0.6 0.3 0.8 0.2 0.7 0.1 0.6 0.2 0.9 0.1 0.9 0 0.6 0 0.9 0 0.6 -0.1 0.9 -0.1 0.9 -0.1 0.6 -0.2 0.9 -0.2 0.6 -0.2 0.8 -0.2 0.7 -0.2 0.6 -0.3 0.6 -0.2 0.6 -0.3 0.6 -0.3 0.6 -0.4 0.6 -0.3 0.6 -0.4 0.6 -0.4 0.6 -0.3 0.4 -0.4 0.5 -0.5 0.5 -0.4 0.4 -0.5 0.5 -0.6 0.4 -0.4 0.3 -0.5 0.3 -0.6 0.4 -0.6 0.2 -0.7 0.3 -0.8 0.2 -0.6 0.2z M1151.3 1258.4l-0.9 0.2 -0.9 0 -0.9 0 -0.9-0.1 -0.6-0.1 -0.9-0.2 -0.6-0.2 -0.6-0.2 -0.6-0.3 -0.6-0.3 -0.6-0.3 -0.6-0.4 -0.6-0.4 -0.6-0.4 -0.4-0.3 -0.5-0.4 -0.6-0.5 -0.3-0.3 -0.6-0.6 -0.3-0.3 -0.6-0.6 -0.3-0.4 -0.4-0.5 -0.5-0.6 -0.3-0.4 -0.4-0.5 -0.4-0.6 -0.4-0.5 -0.3-0.5 -0.3-0.5 -0.4-0.6 -0.3-0.6 -0.3-0.6 -0.3-0.6 -0.3-0.6 -0.3-0.6 -0.2-0.6 -0.3-0.9 -0.2-0.6 -0.2-0.6 -0.2-0.9 -0.1-0.6 -0.1-0.9 0-0.9 0-0.9 0-0.9 0.2-0.9 0.1-0.6 0.2-0.8 0.2-0.7 0.3-0.6 0.2-0.6 0.3-0.6 0.4-0.6 0.4-0.6 0.3-0.4 0.4-0.5 0.5-0.6 0.3-0.3 0.6-0.5 0.4-0.4 0.5-0.4 0.6-0.4 0.6-0.4 0.5-0.3 0.6-0.3 0.6-0.3 0.7-0.3 0.6-0.2 0.6-0.2 0.6-0.2 0.9-0.2 0.6-0.2 0.9-0.1 0.9-0.1 0.6 0 0.9-0.1 0.9 0.1 0.6 0 0.9 0.1 0.9 0.2 0.6 0.1 0.9 0.2 0.6 0.2 0.6 0.2 0.6 0.2 0.6 0.3 0.7 0.3 0.5 0.3 0.6 0.3 0.6 0.4 0.6 0.4 0.5 0.4 0.4 0.3 0.6 0.6 0.3 0.3 0.6 0.6 0.3 0.4 0.4 0.5 0.5 0.6 0.3 0.5 0.3 0.6 0.3 0.5 0.3 0.7 0.3 0.7 0.2 0.6 0.2 0.6 0.2 0.9 0.1 0.6 0.1 0.9 0.1 0.8 0 0.7 0 0.9 0 0.6 -0.1 0.9 -0.1 0.9 -0.1 0.6 -0.2 0.9 -0.1 0.6 -0.2 0.9 -0.2 0.6 -0.2 0.6 -0.3 0.8 -0.3 0.7 -0.2 0.6 -0.3 0.6 -0.3 0.6 -0.3 0.6 -0.3 0.6 -0.3 0.6 -0.4 0.6 -0.3 0.4 -0.4 0.5 -0.4 0.6 -0.4 0.4 -0.5 0.5 -0.4 0.4 -0.5 0.5 -0.4 0.3 -0.6 0.4 -0.6 0.4 -0.6 0.3 -0.6 0.3 -0.6 0.2 -0.6 0.2 -0.9 0.3z M1151.0 1260.8l-0.9 0.1 -0.9 0 -0.9-0.1 -0.6 0 -0.9-0.2 -0.6-0.1 -0.9-0.3 -0.6-0.2 -0.6-0.2 -0.6-0.3 -0.6-0.3 -0.6-0.4 -0.6-0.3 -0.5-0.4 -0.5-0.3 -0.5-0.4 -0.6-0.5 -0.3-0.3 -0.6-0.5 -0.4-0.4 -0.5-0.5 -0.3-0.4 -0.6-0.6 -0.3-0.4 -0.4-0.5 -0.5-0.6 -0.3-0.4 -0.3-0.5 -0.5-0.6 -0.4-0.6 -0.3-0.5 -0.3-0.5 -0.3-0.5 -0.4-0.6 -0.3-0.6 -0.3-0.6 -0.3-0.6 -0.3-0.6 -0.2-0.6 -0.3-0.6 -0.3-0.8 -0.2-0.7 -0.2-0.6 -0.2-0.7 -0.2-0.8 -0.1-0.8 -0.1-0.7 -0.1-0.9 0-0.9 0-0.9 0.1-0.9 0.1-0.6 0.2-0.9 0.2-0.6 0.2-0.7 0.3-0.7 0.3-0.7 0.3-0.6 0.3-0.5 0.3-0.5 0.3-0.5 0.5-0.6 0.4-0.5 0.4-0.4 0.5-0.5 0.4-0.4 0.5-0.4 0.6-0.5 0.4-0.3 0.5-0.4 0.6-0.3 0.6-0.4 0.6-0.3 0.6-0.3 0.6-0.2 0.6-0.3 0.7-0.2 0.8-0.3 0.6-0.1 0.9-0.2 0.6-0.1 0.9-0.1 0.6-0.1 0.9-0.1 0.9 0 0.9 0 0.8 0.1 0.7 0.1 0.9 0.1 0.6 0.1 0.9 0.2 0.6 0.2 0.7 0.2 0.8 0.3 0.6 0.2 0.6 0.3 0.6 0.2 0.6 0.4 0.6 0.3 0.6 0.4 0.5 0.3 0.4 0.3 0.6 0.4 0.5 0.5 0.4 0.3 0.6 0.6 0.3 0.3 0.5 0.6 0.4 0.5 0.3 0.4 0.4 0.6 0.4 0.6 0.3 0.6 0.3 0.6 0.3 0.6 0.3 0.6 0.2 0.6 0.2 0.7 0.2 0.8 0.1 0.6 0.2 0.9 0.1 0.9 0 0.6 0.1 0.9 0 0.9 -0.1 0.9 0 0.6 -0.2 0.9 -0.1 0.9 -0.1 0.6 -0.2 0.9 -0.2 0.6 -0.1 0.6 -0.3 0.9 -0.2 0.6 -0.2 0.6 -0.2 0.6 -0.3 0.8 -0.3 0.7 -0.3 0.6 -0.3 0.6 -0.3 0.6 -0.3 0.6 -0.3 0.5 -0.3 0.5 -0.3 0.5 -0.5 0.6 -0.4 0.5 -0.3 0.4 -0.6 0.6 -0.3 0.3 -0.6 0.6 -0.4 0.3 -0.5 0.4 -0.6 0.4 -0.6 0.4 -0.6 0.3 -0.6 0.3 -0.6 0.2 -0.6 0.2 -0.7 0.2 -0.8 0.2 -0.7 0.1z M1151.9 1262.9l-0.9 0.1 -0.9 0.1 -0.9 0 -0.9-0.1 -0.9-0.1 -0.6-0.1 -0.9-0.2 -0.6-0.2 -0.6-0.1 -0.7-0.3 -0.7-0.3 -0.7-0.3 -0.5-0.3 -0.6-0.3 -0.4-0.3 -0.6-0.4 -0.6-0.4 -0.5-0.4 -0.4-0.3 -0.6-0.5 -0.4-0.4 -0.5-0.5 -0.4-0.4 -0.5-0.5 -0.3-0.4 -0.6-0.6 -0.3-0.4 -0.4-0.5 -0.4-0.6 -0.4-0.5 -0.3-0.4 -0.4-0.6 -0.4-0.6 -0.4-0.6 -0.3-0.5 -0.3-0.5 -0.3-0.5 -0.3-0.6 -0.4-0.6 -0.3-0.6 -0.3-0.6 -0.3-0.6 -0.2-0.6 -0.3-0.6 -0.3-0.8 -0.2-0.7 -0.2-0.6 -0.2-0.6 -0.2-0.9 -0.2-0.6 -0.1-0.9 -0.1-0.6 -0.1-0.9 0-0.9 0-0.9 0-0.9 0.1-0.6 0.2-0.9 0.1-0.6 0.2-0.9 0.2-0.6 0.3-0.6 0.2-0.6 0.3-0.6 0.3-0.6 0.4-0.6 0.4-0.6 0.4-0.6 0.3-0.4 0.5-0.5 0.4-0.5 0.4-0.4 0.5-0.5 0.5-0.4 0.4-0.3 0.6-0.5 0.6-0.4 0.5-0.3 0.5-0.3 0.5-0.3 0.6-0.3 0.6-0.3 0.7-0.3 0.8-0.3 0.6-0.2 0.6-0.2 0.7-0.2 0.8-0.2 0.6-0.1 0.9-0.2 0.9-0.1 0.6 0 0.9-0.1 0.9 0 0.9 0 0.9 0.1 0.6 0 0.9 0.2 0.8 0.1 0.7 0.1 0.7 0.2 0.8 0.2 0.6 0.2 0.6 0.2 0.7 0.3 0.7 0.3 0.6 0.3 0.6 0.3 0.6 0.3 0.5 0.3 0.5 0.3 0.6 0.4 0.6 0.5 0.4 0.3 0.5 0.4 0.5 0.5 0.4 0.3 0.5 0.6 0.4 0.4 0.4 0.5 0.5 0.6 0.3 0.4 0.3 0.5 0.4 0.6 0.3 0.6 0.3 0.6 0.3 0.6 0.3 0.6 0.2 0.6 0.3 0.9 0.2 0.6 0.1 0.6 0.2 0.9 0.1 0.8 0.1 0.7 0 0.9 0.1 0.9 -0.1 0.9 0 0.9 -0.1 0.9 -0.1 0.6 -0.1 0.9 -0.1 0.6 -0.2 0.9 -0.1 0.6 -0.3 0.9 -0.1 0.6 -0.2 0.6 -0.3 0.9 -0.2 0.6 -0.2 0.6 -0.2 0.6 -0.3 0.6 -0.3 0.7 -0.3 0.7 -0.3 0.6 -0.3 0.6 -0.3 0.5 -0.3 0.5 -0.4 0.6 -0.4 0.6 -0.4 0.5 -0.3 0.4 -0.5 0.6 -0.4 0.4 -0.5 0.5 -0.4 0.4 -0.6 0.5 -0.4 0.3 -0.5 0.4 -0.6 0.3 -0.6 0.4 -0.6 0.3 -0.6 0.3 -0.6 0.2 -0.6 0.2 -0.9 0.3 -0.6 0.2 -0.8 0.1z M1151.9 1265.0l-0.9 0.1 -0.9 0 -0.9 0 -0.9 0 -0.8-0.1 -0.7-0.1 -0.9-0.2 -0.6-0.1 -0.6-0.2 -0.9-0.3 -0.6-0.2 -0.6-0.3 -0.6-0.3 -0.6-0.3 -0.6-0.3 -0.6-0.4 -0.5-0.3 -0.4-0.3 -0.6-0.4 -0.6-0.5 -0.4-0.3 -0.5-0.5 -0.4-0.4 -0.5-0.4 -0.4-0.5 -0.5-0.5 -0.3-0.4 -0.5-0.6 -0.4-0.4 -0.4-0.5 -0.4-0.6 -0.4-0.5 -0.3-0.5 -0.4-0.5 -0.4-0.6 -0.3-0.6 -0.4-0.6 -0.3-0.5 -0.3-0.5 -0.3-0.5 -0.3-0.6 -0.3-0.6 -0.4-0.6 -0.3-0.6 -0.2-0.6 -0.3-0.6 -0.3-0.7 -0.3-0.7 -0.2-0.7 -0.3-0.6 -0.1-0.6 -0.3-0.9 -0.2-0.6 -0.1-0.7 -0.2-0.8 -0.1-0.9 0-0.6 -0.1-0.9 0-0.9 0-0.9 0.1-0.6 0.1-0.9 0.2-0.9 0.1-0.6 0.2-0.6 0.3-0.9 0.2-0.6 0.3-0.6 0.3-0.6 0.3-0.6 0.3-0.6 0.4-0.5 0.3-0.5 0.4-0.5 0.5-0.6 0.3-0.4 0.5-0.5 0.4-0.4 0.5-0.5 0.4-0.3 0.6-0.5 0.5-0.4 0.4-0.3 0.6-0.4 0.6-0.4 0.6-0.3 0.6-0.4 0.6-0.3 0.6-0.2 0.6-0.3 0.6-0.2 0.6-0.2 0.8-0.3 0.7-0.2 0.6-0.1 0.9-0.2 0.6-0.2 0.9-0.1 0.9-0.1 0.6 0 0.9-0.1 0.9 0 0.9 0 0.9 0.1 0.6 0 0.9 0.1 0.9 0.2 0.6 0.1 0.9 0.2 0.6 0.1 0.6 0.2 0.9 0.3 0.6 0.2 0.6 0.2 0.6 0.3 0.6 0.3 0.6 0.3 0.6 0.3 0.6 0.3 0.6 0.4 0.6 0.4 0.4 0.3 0.5 0.3 0.6 0.5 0.4 0.4 0.5 0.4 0.5 0.5 0.4 0.4 0.5 0.5 0.4 0.5 0.3 0.4 0.5 0.6 0.4 0.6 0.3 0.4 0.3 0.5 0.3 0.6 0.3 0.6 0.3 0.6 0.3 0.6 0.3 0.8 0.3 0.7 0.1 0.6 0.2 0.6 0.2 0.9 0.1 0.6 0.1 0.9 0.1 0.9 0.1 0.9 0 0.9 0 0.9 -0.1 0.9 -0.1 0.9 -0.1 0.9 -0.1 0.6 -0.1 0.9 -0.2 0.6 -0.2 0.9 -0.1 0.6 -0.2 0.8 -0.2 0.7 -0.2 0.6 -0.2 0.7 -0.3 0.8 -0.2 0.6 -0.2 0.6 -0.3 0.6 -0.2 0.6 -0.3 0.6 -0.3 0.6 -0.3 0.6 -0.3 0.6 -0.4 0.6 -0.4 0.6 -0.4 0.6 -0.3 0.5 -0.3 0.4 -0.5 0.6 -0.4 0.4 -0.5 0.5 -0.4 0.4 -0.5 0.5 -0.4 0.3 -0.6 0.5 -0.6 0.4 -0.4 0.3 -0.5 0.3 -0.6 0.3 -0.6 0.3 -0.6 0.3 -0.8 0.3 -0.7 0.2 -0.6 0.2 -0.7 0.2 -0.8 0.2 -0.8 0.1z M1150.4 1267.1l-0.9 0 -0.6 0 -0.9-0.1 -0.9-0.1 -0.7-0.1 -0.8-0.2 -0.6-0.1 -0.9-0.2 -0.6-0.2 -0.6-0.3 -0.6-0.2 -0.7-0.3 -0.6-0.3 -0.6-0.3 -0.5-0.3 -0.6-0.3 -0.6-0.4 -0.6-0.5 -0.5-0.3 -0.4-0.3 -0.6-0.5 -0.4-0.4 -0.5-0.5 -0.4-0.4 -0.5-0.5 -0.4-0.4 -0.5-0.6 -0.3-0.3 -0.5-0.6 -0.4-0.6 -0.3-0.4 -0.4-0.5 -0.4-0.6 -0.4-0.6 -0.3-0.4 -0.3-0.5 -0.4-0.6 -0.4-0.6 -0.3-0.6 -0.4-0.6 -0.3-0.6 -0.3-0.6 -0.3-0.5 -0.3-0.6 -0.3-0.6 -0.3-0.7 -0.3-0.6 -0.2-0.6 -0.3-0.6 -0.2-0.6 -0.3-0.6 -0.2-0.7 -0.3-0.8 -0.1-0.6 -0.2-0.7 -0.2-0.8 -0.1-0.6 -0.2-0.9 -0.1-0.9 0-0.6 0-0.9 0-0.9 0-0.8 0.1-0.7 0.1-0.9 0.1-0.6 0.2-0.9 0.2-0.6 0.2-0.8 0.3-0.7 0.2-0.6 0.3-0.6 0.3-0.6 0.3-0.6 0.4-0.6 0.3-0.5 0.3-0.4 0.4-0.6 0.5-0.6 0.3-0.3 0.5-0.6 0.4-0.4 0.6-0.5 0.3-0.3 0.6-0.5 0.5-0.4 0.4-0.3 0.6-0.4 0.6-0.4 0.6-0.4 0.5-0.3 0.6-0.3 0.6-0.3 0.6-0.3 0.7-0.3 0.6-0.2 0.6-0.3 0.6-0.2 0.8-0.2 0.7-0.2 0.6-0.1 0.9-0.2 0.6-0.1 0.9-0.2 0.9-0.1 0.6 0 0.9-0.1 0.9 0 0.9 0 0.9 0 0.9 0.1 0.6 0.1 0.9 0.1 0.7 0.1 0.8 0.2 0.7 0.1 0.8 0.2 0.6 0.2 0.7 0.2 0.8 0.3 0.6 0.2 0.6 0.3 0.6 0.2 0.6 0.3 0.6 0.3 0.6 0.3 0.6 0.4 0.6 0.4 0.5 0.3 0.4 0.3 0.6 0.4 0.6 0.5 0.4 0.3 0.5 0.5 0.5 0.4 0.4 0.4 0.5 0.5 0.4 0.5 0.4 0.4 0.5 0.6 0.3 0.4 0.3 0.5 0.4 0.6 0.4 0.6 0.4 0.6 0.3 0.6 0.3 0.6 0.3 0.6 0.2 0.6 0.3 0.6 0.2 0.6 0.2 0.7 0.2 0.8 0.2 0.6 0.1 0.9 0.1 0.6 0.1 0.9 0.1 0.9 0 0.9 0 0.9 0 0.9 -0.1 0.9 -0.1 0.9 -0.1 0.6 -0.1 0.9 -0.1 0.6 -0.2 0.9 -0.1 0.6 -0.2 0.9 -0.2 0.6 -0.2 0.7 -0.2 0.8 -0.2 0.6 -0.2 0.6 -0.3 0.8 -0.3 0.7 -0.2 0.6 -0.3 0.6 -0.2 0.6 -0.3 0.6 -0.3 0.6 -0.3 0.6 -0.3 0.6 -0.4 0.6 -0.4 0.6 -0.3 0.5 -0.3 0.4 -0.5 0.6 -0.4 0.5 -0.3 0.4 -0.6 0.6 -0.3 0.3 -0.6 0.6 -0.3 0.3 -0.6 0.5 -0.6 0.4 -0.4 0.3 -0.5 0.4 -0.6 0.3 -0.6 0.4 -0.6 0.3 -0.6 0.3 -0.6 0.2 -0.6 0.2 -0.7 0.3 -0.8 0.2 -0.6 0.2 -0.9 0.2 -0.6 0.1 -0.9 0.1 -0.9 0.1 -0.6 0z M1151.6 1268.9l-0.9 0.1 -0.9 0 -0.9 0 -0.9-0.1 -0.6-0.1 -0.9-0.1 -0.7-0.1 -0.8-0.2 -0.6-0.1 -0.9-0.3 -0.6-0.2 -0.6-0.2 -0.6-0.2 -0.7-0.3 -0.6-0.3 -0.6-0.3 -0.6-0.3 -0.5-0.3 -0.6-0.4 -0.6-0.4 -0.6-0.4 -0.4-0.3 -0.5-0.4 -0.6-0.5 -0.3-0.3 -0.6-0.5 -0.4-0.4 -0.5-0.5 -0.3-0.4 -0.6-0.6 -0.3-0.4 -0.4-0.5 -0.5-0.6 -0.3-0.4 -0.4-0.5 -0.4-0.6 -0.4-0.6 -0.3-0.5 -0.3-0.4 -0.4-0.6 -0.3-0.6 -0.4-0.6 -0.3-0.6 -0.4-0.6 -0.3-0.6 -0.3-0.6 -0.3-0.6 -0.3-0.6 -0.3-0.6 -0.3-0.6 -0.3-0.6 -0.2-0.6 -0.3-0.6 -0.2-0.6 -0.3-0.6 -0.2-0.7 -0.3-0.8 -0.2-0.6 -0.1-0.6 -0.3-0.9 -0.1-0.6 -0.2-0.9 -0.1-0.6 -0.1-0.9 -0.1-0.9 0-0.9 0-0.6 0-0.6 0.1-0.9 0.1-0.9 0.1-0.9 0.1-0.6 0.2-0.7 0.2-0.8 0.2-0.6 0.2-0.6 0.3-0.7 0.3-0.6 0.3-0.7 0.3-0.5 0.3-0.5 0.4-0.6 0.4-0.6 0.4-0.6 0.3-0.4 0.4-0.5 0.5-0.6 0.3-0.3 0.6-0.6 0.3-0.3 0.6-0.5 0.4-0.4 0.5-0.4 0.6-0.4 0.5-0.4 0.5-0.3 0.5-0.3 0.6-0.4 0.6-0.3 0.6-0.4 0.6-0.3 0.6-0.2 0.6-0.3 0.6-0.2 0.7-0.3 0.8-0.3 0.6-0.2 0.6-0.1 0.9-0.3 0.6-0.1 0.9-0.2 0.6-0.1 0.9-0.1 0.9-0.1 0.6 0 0.9-0.1 0.9 0 0.9 0 0.9 0 0.9 0.1 0.6 0 0.9 0.2 0.9 0.1 0.6 0.1 0.9 0.2 0.6 0.1 0.6 0.2 0.9 0.3 0.6 0.2 0.6 0.2 0.6 0.2 0.8 0.3 0.6 0.3 0.7 0.3 0.6 0.3 0.5 0.3 0.6 0.3 0.5 0.3 0.5 0.3 0.6 0.4 0.6 0.5 0.5 0.3 0.4 0.3 0.6 0.5 0.4 0.4 0.5 0.4 0.5 0.5 0.4 0.4 0.5 0.5 0.4 0.5 0.4 0.4 0.4 0.6 0.4 0.5 0.3 0.4 0.4 0.6 0.4 0.6 0.4 0.6 0.3 0.6 0.3 0.5 0.3 0.6 0.3 0.7 0.3 0.6 0.2 0.6 0.2 0.6 0.2 0.6 0.3 0.9 0.1 0.6 0.2 0.9 0.1 0.6 0.1 0.9 0.1 0.7 0 0.8 0.1 0.9 -0.1 0.9 0 0.8 -0.1 0.7 -0.1 0.9 -0.1 0.9 -0.1 0.6 -0.2 0.9 -0.1 0.6 -0.2 0.8 -0.2 0.7 -0.1 0.6 -0.3 0.9 -0.2 0.6 -0.2 0.6 -0.2 0.6 -0.3 0.9 -0.2 0.6 -0.3 0.6 -0.2 0.6 -0.3 0.6 -0.3 0.6 -0.2 0.6 -0.3 0.6 -0.4 0.6 -0.3 0.6 -0.4 0.6 -0.3 0.6 -0.4 0.5 -0.3 0.5 -0.4 0.5 -0.5 0.6 -0.3 0.4 -0.5 0.5 -0.4 0.5 -0.4 0.4 -0.5 0.4 -0.5 0.5 -0.4 0.3 -0.6 0.5 -0.6 0.4 -0.4 0.3 -0.5 0.3 -0.6 0.4 -0.6 0.3 -0.6 0.3 -0.6 0.3 -0.6 0.2 -0.7 0.3 -0.8 0.3 -0.6 0.2 -0.6 0.1 -0.9 0.2 -0.6 0.1 -0.9 0.2 -0.9 0.1z M1151.9 1270.7l-0.9 0.1 -0.9 0 -0.9 0 -0.9-0.1 -0.6 0 -0.9-0.1 -0.9-0.1 -0.6-0.1 -0.9-0.2 -0.6-0.2 -0.8-0.2 -0.7-0.2 -0.6-0.2 -0.6-0.3 -0.6-0.2 -0.6-0.3 -0.6-0.3 -0.6-0.3 -0.6-0.3 -0.6-0.4 -0.6-0.4 -0.6-0.4 -0.5-0.3 -0.4-0.3 -0.6-0.5 -0.5-0.4 -0.4-0.4 -0.6-0.5 -0.3-0.3 -0.6-0.6 -0.3-0.3 -0.5-0.6 -0.4-0.5 -0.4-0.4 -0.4-0.6 -0.4-0.5 -0.3-0.4 -0.4-0.6 -0.4-0.6 -0.4-0.5 -0.3-0.5 -0.3-0.5 -0.4-0.6 -0.3-0.6 -0.4-0.6 -0.3-0.6 -0.4-0.6 -0.3-0.6 -0.3-0.6 -0.3-0.6 -0.3-0.6 -0.3-0.6 -0.3-0.6 -0.2-0.6 -0.3-0.6 -0.3-0.6 -0.2-0.6 -0.2-0.6 -0.3-0.7 -0.3-0.8 -0.2-0.6 -0.2-0.6 -0.2-0.8 -0.2-0.7 -0.1-0.6 -0.2-0.9 -0.1-0.7 -0.1-0.8 -0.1-0.9 0-0.9 -0.1-0.9 0.1-0.9 0-0.9 0.1-0.9 0.1-0.6 0.2-0.9 0.1-0.6 0.3-0.9 0.2-0.6 0.2-0.6 0.2-0.6 0.3-0.7 0.3-0.6 0.3-0.6 0.3-0.5 0.3-0.6 0.4-0.6 0.4-0.6 0.4-0.5 0.3-0.4 0.5-0.6 0.4-0.5 0.4-0.4 0.5-0.5 0.4-0.4 0.5-0.5 0.5-0.4 0.4-0.3 0.6-0.5 0.5-0.4 0.5-0.3 0.5-0.4 0.6-0.3 0.6-0.4 0.6-0.3 0.6-0.4 0.6-0.3 0.6-0.2 0.6-0.3 0.6-0.2 0.6-0.3 0.6-0.2 0.9-0.3 0.6-0.2 0.6-0.1 0.9-0.2 0.6-0.2 0.9-0.2 0.6-0.1 0.9-0.1 0.9-0.1 0.6 0 0.9-0.1 0.9 0 0.9 0 0.9 0 0.9 0.1 0.6 0 0.9 0.1 0.9 0.1 0.6 0.1 0.9 0.2 0.6 0.1 0.9 0.2 0.6 0.2 0.7 0.2 0.8 0.2 0.6 0.2 0.6 0.3 0.6 0.2 0.7 0.3 0.7 0.3 0.6 0.3 0.6 0.3 0.5 0.3 0.6 0.3 0.5 0.3 0.6 0.4 0.6 0.4 0.6 0.4 0.4 0.3 0.5 0.4 0.6 0.5 0.4 0.3 0.5 0.5 0.5 0.4 0.4 0.4 0.5 0.5 0.4 0.4 0.4 0.5 0.5 0.5 0.3 0.4 0.5 0.6 0.4 0.5 0.3 0.4 0.4 0.6 0.4 0.6 0.4 0.6 0.3 0.6 0.3 0.5 0.3 0.6 0.3 0.6 0.3 0.6 0.3 0.7 0.3 0.6 0.2 0.6 0.2 0.6 0.2 0.7 0.2 0.8 0.2 0.6 0.1 0.9 0.1 0.6 0.1 0.9 0.1 0.9 0 0.9 0 0.9 0 0.9 -0.1 0.9 -0.1 0.6 -0.2 0.9 -0.1 0.6 -0.2 0.9 -0.2 0.6 -0.2 0.8 -0.2 0.7 -0.2 0.6 -0.2 0.7 -0.3 0.8 -0.2 0.6 -0.2 0.6 -0.2 0.6 -0.3 0.6 -0.3 0.8 -0.3 0.7 -0.3 0.6 -0.3 0.6 -0.2 0.6 -0.3 0.6 -0.4 0.6 -0.3 0.6 -0.3 0.5 -0.3 0.5 -0.3 0.5 -0.4 0.6 -0.4 0.6 -0.4 0.5 -0.3 0.4 -0.5 0.6 -0.4 0.5 -0.4 0.4 -0.5 0.5 -0.4 0.4 -0.5 0.5 -0.4 0.4 -0.5 0.4 -0.6 0.5 -0.5 0.3 -0.4 0.3 -0.6 0.4 -0.6 0.4 -0.6 0.3 -0.6 0.3 -0.6 0.3 -0.6 0.3 -0.6 0.3 -0.6 0.2 -0.6 0.2 -0.9 0.3 -0.6 0.2 -0.6 0.1 -0.9 0.2 -0.6 0.1 -0.9 0.2 -0.9 0.1z M1214.0 1252.7l-0.9 0.1 -0.9 0 -0.9-0.1 -0.6-0.1 -0.6-0.2 -0.6-0.3 -0.6-0.3 -0.6-0.4 -0.6-0.5 -0.3-0.3 -0.5-0.6 -0.4-0.5 -0.3-0.4 -0.3-0.6 -0.3-0.7 -0.2-0.8 -0.1-0.9 0.1-0.9 0.2-0.8 0.3-0.6 0.3-0.5 0.4-0.5 0.5-0.5 0.5-0.4 0.5-0.3 0.6-0.3 0.8-0.3 0.6-0.2 0.9-0.1 0.6 0 0.8 0 0.7 0.1 0.8 0.2 0.7 0.3 0.6 0.3 0.6 0.3 0.4 0.3 0.5 0.5 0.4 0.4 0.4 0.6 0.4 0.6 0.2 0.6 0.2 0.6 0.2 0.9 0 0.6 0 0.8 -0.1 0.7 -0.2 0.6 -0.3 0.6 -0.3 0.6 -0.5 0.6 -0.4 0.4 -0.6 0.5 -0.5 0.3 -0.6 0.3 -0.7 0.2z M1151.6 1272.5l-0.9 0 -0.9 0.1 -0.9-0.1 -0.7 0 -0.8-0.1 -0.9-0.1 -0.9-0.1 -0.6-0.1 -0.9-0.2 -0.6-0.1 -0.6-0.2 -0.9-0.3 -0.6-0.2 -0.6-0.2 -0.6-0.2 -0.7-0.3 -0.6-0.3 -0.6-0.3 -0.6-0.3 -0.6-0.3 -0.5-0.3 -0.6-0.4 -0.6-0.4 -0.6-0.4 -0.4-0.3 -0.5-0.4 -0.6-0.5 -0.4-0.3 -0.5-0.5 -0.4-0.4 -0.5-0.5 -0.4-0.4 -0.5-0.5 -0.3-0.4 -0.6-0.6 -0.3-0.4 -0.4-0.5 -0.4-0.6 -0.4-0.5 -0.3-0.4 -0.4-0.6 -0.4-0.6 -0.4-0.6 -0.3-0.5 -0.3-0.5 -0.3-0.6 -0.3-0.5 -0.4-0.6 -0.3-0.6 -0.3-0.6 -0.3-0.6 -0.3-0.6 -0.3-0.6 -0.3-0.6 -0.3-0.6 -0.3-0.6 -0.3-0.6 -0.2-0.6 -0.3-0.7 -0.3-0.7 -0.3-0.7 -0.2-0.6 -0.2-0.6 -0.2-0.6 -0.3-0.9 -0.1-0.6 -0.2-0.6 -0.2-0.9 -0.1-0.6 -0.2-0.9 -0.1-0.7 -0.1-0.8 -0.1-0.9 0-0.9 0-0.9 0-0.9 0.1-0.9 0.1-0.9 0.1-0.6 0.2-0.9 0.1-0.6 0.2-0.7 0.2-0.8 0.2-0.6 0.3-0.6 0.2-0.6 0.3-0.6 0.3-0.7 0.3-0.5 0.3-0.6 0.4-0.6 0.4-0.6 0.4-0.6 0.3-0.4 0.4-0.5 0.5-0.6 0.3-0.4 0.5-0.5 0.4-0.4 0.5-0.5 0.4-0.4 0.6-0.5 0.3-0.3 0.6-0.5 0.6-0.4 0.4-0.3 0.5-0.4 0.6-0.4 0.6-0.3 0.6-0.4 0.5-0.3 0.6-0.3 0.6-0.3 0.6-0.3 0.7-0.3 0.6-0.2 0.6-0.3 0.6-0.2 0.6-0.2 0.9-0.3 0.6-0.2 0.6-0.1 0.9-0.2 0.6-0.2 0.9-0.1 0.6-0.1 0.9-0.2 0.9-0.1 0.6 0 0.9-0.1 0.9 0 0.9 0 0.9 0 0.9 0 0.9 0.1 0.6 0.1 0.9 0.1 0.9 0.1 0.6 0.1 0.9 0.2 0.6 0.1 0.8 0.2 0.7 0.2 0.6 0.1 0.8 0.3 0.7 0.2 0.6 0.3 0.6 0.2 0.6 0.2 0.6 0.3 0.7 0.3 0.6 0.3 0.6 0.3 0.5 0.3 0.6 0.3 0.6 0.4 0.6 0.4 0.6 0.4 0.5 0.3 0.4 0.3 0.6 0.4 0.6 0.5 0.4 0.3 0.5 0.5 0.5 0.4 0.4 0.4 0.6 0.5 0.3 0.3 0.6 0.6 0.3 0.4 0.5 0.5 0.4 0.5 0.4 0.4 0.5 0.6 0.3 0.4 0.4 0.5 0.4 0.6 0.4 0.6 0.3 0.4 0.3 0.5 0.4 0.6 0.4 0.6 0.3 0.6 0.4 0.6 0.3 0.6 0.3 0.6 0.3 0.6 0.3 0.6 0.3 0.6 0.2 0.6 0.3 0.6 0.2 0.6 0.2 0.6 0.2 0.9 0.2 0.6 0.2 0.9 0 0.6 0.1 0.9 0 0.9 -0.1 0.9 0 0.6 -0.2 0.9 -0.2 0.6 -0.2 0.9 -0.2 0.6 -0.2 0.6 -0.2 0.6 -0.3 0.7 -0.3 0.8 -0.3 0.6 -0.2 0.6 -0.3 0.6 -0.2 0.6 -0.3 0.6 -0.3 0.6 -0.3 0.6 -0.2 0.6 -0.3 0.6 -0.3 0.6 -0.3 0.6 -0.3 0.6 -0.3 0.6 -0.4 0.6 -0.3 0.6 -0.3 0.6 -0.4 0.6 -0.4 0.6 -0.3 0.5 -0.3 0.5 -0.4 0.5 -0.4 0.6 -0.4 0.5 -0.3 0.4 -0.5 0.6 -0.4 0.5 -0.4 0.4 -0.5 0.6 -0.3 0.3 -0.6 0.5 -0.4 0.4 -0.5 0.4 -0.6 0.5 -0.3 0.3 -0.6 0.4 -0.6 0.4 -0.5 0.4 -0.5 0.3 -0.5 0.3 -0.6 0.3 -0.6 0.3 -0.6 0.3 -0.6 0.3 -0.7 0.3 -0.8 0.3 -0.6 0.2 -0.6 0.2 -0.7 0.2 -0.8 0.2 -0.6 0.2 -0.9 0.1 -0.6 0.1 -0.9 0.2 -0.9 0.1 -0.6 0z M1214.9 1257.2l-0.9 0.2 -0.9 0 -0.9 0 -0.9-0.1 -0.8-0.1 -0.7-0.2 -0.6-0.1 -0.7-0.3 -0.8-0.3 -0.6-0.3 -0.6-0.3 -0.5-0.3 -0.5-0.3 -0.5-0.3 -0.6-0.5 -0.5-0.4 -0.4-0.3 -0.6-0.6 -0.4-0.3 -0.5-0.6 -0.3-0.3 -0.5-0.6 -0.4-0.5 -0.3-0.4 -0.5-0.6 -0.3-0.6 -0.4-0.6 -0.3-0.6 -0.3-0.6 -0.2-0.6 -0.1-0.6 -0.2-0.9 0-0.9 0.1-0.9 0.1-0.6 0.3-0.7 0.3-0.5 0.4-0.6 0.5-0.6 0.3-0.3 0.6-0.5 0.4-0.4 0.5-0.3 0.6-0.4 0.6-0.4 0.6-0.3 0.6-0.3 0.6-0.3 0.6-0.2 0.6-0.2 0.9-0.3 0.6-0.1 0.9-0.2 0.6-0.1 0.9-0.1 0.9 0 0.9 0 0.9 0 0.9 0.2 0.6 0.1 0.8 0.2 0.7 0.2 0.6 0.3 0.6 0.2 0.6 0.3 0.6 0.4 0.6 0.4 0.4 0.3 0.5 0.4 0.5 0.5 0.4 0.4 0.4 0.5 0.5 0.6 0.3 0.5 0.3 0.5 0.3 0.6 0.3 0.8 0.2 0.6 0.2 0.6 0.2 0.9 0 0.6 0.1 0.9 0 0.9 -0.1 0.7 -0.1 0.8 -0.2 0.6 -0.3 0.9 -0.2 0.6 -0.3 0.6 -0.4 0.6 -0.3 0.5 -0.3 0.4 -0.5 0.6 -0.4 0.4 -0.6 0.5 -0.4 0.3 -0.5 0.4 -0.6 0.3 -0.6 0.3 -0.6 0.3 -0.6 0.2 -0.9 0.3z M1153.7 1274.0l-0.9 0.1 -0.9 0.1 -0.9 0.1 -0.9 0 -0.9 0 -0.9-0.1 -0.9 0 -0.9-0.1 -0.6-0.1 -0.9-0.2 -0.7-0.1 -0.8-0.2 -0.6-0.1 -0.9-0.3 -0.6-0.1 -0.6-0.2 -0.7-0.3 -0.8-0.3 -0.6-0.3 -0.6-0.2 -0.6-0.3 -0.6-0.3 -0.6-0.4 -0.6-0.3 -0.5-0.3 -0.5-0.3 -0.5-0.4 -0.6-0.4 -0.6-0.4 -0.3-0.3 -0.6-0.5 -0.5-0.4 -0.4-0.4 -0.6-0.5 -0.3-0.3 -0.6-0.6 -0.3-0.4 -0.5-0.5 -0.4-0.5 -0.3-0.4 -0.5-0.6 -0.4-0.5 -0.3-0.4 -0.4-0.6 -0.4-0.6 -0.4-0.6 -0.3-0.5 -0.3-0.4 -0.3-0.6 -0.4-0.6 -0.3-0.6 -0.4-0.6 -0.3-0.6 -0.3-0.6 -0.3-0.6 -0.4-0.6 -0.3-0.6 -0.2-0.6 -0.3-0.6 -0.3-0.6 -0.3-0.6 -0.3-0.6 -0.2-0.6 -0.3-0.6 -0.2-0.6 -0.3-0.7 -0.3-0.8 -0.2-0.6 -0.2-0.6 -0.2-0.6 -0.3-0.9 -0.1-0.6 -0.2-0.7 -0.2-0.8 -0.1-0.6 -0.2-0.9 -0.1-0.9 -0.1-0.6 0-0.9 -0.1-0.9 0-0.9 0.1-0.9 0-0.9 0.1-0.7 0.1-0.8 0.2-0.9 0.1-0.6 0.2-0.8 0.2-0.7 0.2-0.6 0.2-0.6 0.3-0.7 0.3-0.8 0.3-0.6 0.3-0.6 0.3-0.5 0.3-0.6 0.3-0.5 0.3-0.5 0.5-0.6 0.4-0.6 0.3-0.4 0.4-0.5 0.5-0.6 0.3-0.3 0.5-0.6 0.4-0.4 0.6-0.5 0.3-0.3 0.6-0.5 0.4-0.4 0.5-0.4 0.6-0.4 0.5-0.4 0.4-0.3 0.6-0.4 0.6-0.4 0.6-0.3 0.6-0.4 0.6-0.3 0.6-0.3 0.6-0.3 0.6-0.2 0.6-0.3 0.6-0.3 0.6-0.2 0.6-0.2 0.9-0.3 0.6-0.2 0.6-0.2 0.9-0.2 0.6-0.1 0.7-0.2 0.8-0.1 0.9-0.2 0.6-0.1 0.9-0.1 0.9-0.1 0.6 0 0.9-0.1 0.9 0 0.9 0 0.9 0 0.9 0.1 0.6 0 0.9 0.1 0.9 0.1 0.8 0.1 0.7 0.1 0.9 0.2 0.6 0.1 0.8 0.2 0.7 0.2 0.6 0.2 0.8 0.2 0.7 0.2 0.6 0.2 0.6 0.3 0.6 0.2 0.8 0.3 0.6 0.3 0.7 0.3 0.6 0.3 0.6 0.3 0.5 0.3 0.5 0.3 0.6 0.3 0.5 0.3 0.6 0.4 0.6 0.4 0.5 0.4 0.5 0.3 0.5 0.4 0.6 0.5 0.4 0.3 0.5 0.4 0.6 0.5 0.3 0.3 0.6 0.5 0.4 0.4 0.5 0.5 0.4 0.4 0.5 0.5 0.4 0.4 0.5 0.6 0.3 0.3 0.5 0.6 0.4 0.4 0.4 0.5 0.5 0.6 0.3 0.3 0.5 0.6 0.4 0.5 0.3 0.4 0.5 0.6 0.4 0.5 0.3 0.4 0.5 0.6 0.4 0.4 0.4 0.5 0.5 0.6 0.3 0.3 0.5 0.6 0.4 0.4 0.5 0.5 0.4 0.4 0.5 0.5 0.4 0.3 0.6 0.4 0.6 0.4 0.6 0.4 0.6 0.2 0.6 0.2 0.8 0.2 0.7 0.1 0.9-0.1 0.6 0 0.9-0.2 0.6-0.1 0.9-0.2 0.6-0.2 0.7-0.2 0.8-0.2 0.6-0.2 0.6-0.2 0.8-0.3 0.7-0.2 0.6-0.2 0.6-0.2 0.9-0.3 0.6-0.2 0.6-0.2 0.8-0.2 0.7-0.2 0.6-0.2 0.9-0.2 0.6-0.1 0.7-0.2 0.8-0.2 0.8-0.1 0.7-0.1 0.9-0.1 0.8-0.1 0.7 0 0.9-0.1 0.9 0 0.9 0.1 0.6 0 0.9 0.1 0.9 0.2 0.6 0.1 0.7 0.2 0.8 0.2 0.6 0.3 0.6 0.2 0.6 0.3 0.6 0.3 0.6 0.3 0.6 0.4 0.6 0.4 0.4 0.3 0.5 0.4 0.6 0.5 0.3 0.3 0.6 0.6 0.3 0.4 0.4 0.5 0.5 0.6 0.3 0.5 0.3 0.5 0.3 0.6 0.3 0.6 0.3 0.7 0.2 0.7 0.2 0.6 0.2 0.7 0.1 0.8 0.2 0.9 0 0.6 0 0.9 0 0.9 -0.1 0.6 -0.1 0.9 -0.1 0.6 -0.2 0.9 -0.2 0.6 -0.3 0.6 -0.2 0.6 -0.3 0.6 -0.4 0.6 -0.3 0.6 -0.4 0.6 -0.4 0.5 -0.4 0.4 -0.5 0.6 -0.4 0.3 -0.5 0.5 -0.5 0.4 -0.5 0.3 -0.5 0.4 -0.6 0.3 -0.6 0.3 -0.6 0.3 -0.6 0.2 -0.9 0.3 -0.6 0.2 -0.7 0.1 -0.8 0.1 -0.9 0.1 -0.9 0 -0.9 0 -0.9-0.1 -0.7-0.1 -0.8-0.2 -0.6-0.1 -0.9-0.3 -0.6-0.2 -0.6-0.2 -0.6-0.3 -0.6-0.2 -0.6-0.3 -0.6-0.3 -0.6-0.4 -0.6-0.3 -0.6-0.4 -0.6-0.4 -0.5-0.3 -0.4-0.3 -0.6-0.4 -0.6-0.5 -0.4-0.3 -0.5-0.4 -0.6-0.5 -0.4-0.3 -0.5-0.4 -0.6-0.5 -0.4-0.3 -0.5-0.4 -0.6-0.5 -0.4-0.3 -0.5-0.4 -0.6-0.5 -0.4-0.3 -0.5-0.4 -0.6-0.4 -0.6-0.4 -0.5-0.3 -0.5-0.3 -0.6-0.3 -0.6-0.3 -0.8-0.3 -0.6-0.2 -0.6-0.1 -0.9-0.1 -0.8 0.1 -0.7 0.2 -0.6 0.2 -0.6 0.3 -0.6 0.4 -0.6 0.4 -0.4 0.3 -0.5 0.5 -0.4 0.4 -0.5 0.5 -0.3 0.4 -0.5 0.6 -0.4 0.5 -0.3 0.4 -0.5 0.6 -0.4 0.6 -0.3 0.5 -0.3 0.4 -0.4 0.6 -0.4 0.6 -0.3 0.6 -0.4 0.6 -0.3 0.4 -0.3 0.5 -0.4 0.6 -0.4 0.6 -0.3 0.6 -0.4 0.5 -0.3 0.5 -0.4 0.5 -0.4 0.6 -0.4 0.6 -0.3 0.4 -0.4 0.5 -0.5 0.6 -0.3 0.4 -0.4 0.5 -0.5 0.5 -0.4 0.4 -0.5 0.5 -0.4 0.4 -0.5 0.5 -0.4 0.4 -0.5 0.4 -0.6 0.5 -0.4 0.3 -0.5 0.4 -0.6 0.4 -0.6 0.4 -0.4 0.3 -0.5 0.3 -0.6 0.3 -0.6 0.4 -0.6 0.3 -0.6 0.3 -0.6 0.2 -0.6 0.3 -0.8 0.3 -0.7 0.3 -0.6 0.2 -0.6 0.1 -0.9 0.3 -0.6 0.1 -0.8 0.2 -0.7 0.1 -0.9 0.2z M1152.8 1275.8l-0.9 0.1 -0.9 0 -0.9 0.1 -0.9-0.1 -0.9 0 -0.9-0.1 -0.6 0 -0.9-0.1 -0.9-0.2 -0.6-0.1 -0.9-0.1 -0.6-0.2 -0.9-0.2 -0.6-0.2 -0.6-0.2 -0.7-0.2 -0.8-0.3 -0.6-0.2 -0.6-0.3 -0.6-0.2 -0.6-0.3 -0.6-0.3 -0.6-0.3 -0.6-0.3 -0.6-0.4 -0.6-0.4 -0.5-0.3 -0.4-0.3 -0.6-0.4 -0.6-0.4 -0.4-0.4 -0.5-0.4 -0.6-0.5 -0.3-0.3 -0.6-0.5 -0.4-0.4 -0.5-0.5 -0.3-0.4 -0.6-0.6 -0.3-0.4 -0.4-0.5 -0.5-0.6 -0.3-0.4 -0.4-0.5 -0.4-0.6 -0.4-0.5 -0.3-0.5 -0.3-0.5 -0.4-0.6 -0.4-0.6 -0.3-0.6 -0.4-0.6 -0.3-0.6 -0.3-0.5 -0.3-0.6 -0.3-0.6 -0.3-0.5 -0.3-0.6 -0.3-0.6 -0.3-0.7 -0.3-0.6 -0.3-0.6 -0.3-0.7 -0.3-0.6 -0.2-0.6 -0.3-0.6 -0.2-0.6 -0.3-0.6 -0.2-0.6 -0.3-0.9 -0.2-0.6 -0.2-0.6 -0.2-0.6 -0.3-0.9 -0.1-0.6 -0.2-0.8 -0.2-0.7 -0.1-0.8 -0.1-0.7 -0.1-0.9 -0.1-0.6 -0.1-0.9 0-0.9 0-0.9 0-0.9 0.1-0.9 0-0.6 0.1-0.9 0.2-0.9 0.1-0.6 0.2-0.8 0.2-0.7 0.2-0.6 0.2-0.7 0.3-0.8 0.2-0.6 0.3-0.6 0.3-0.6 0.3-0.6 0.3-0.6 0.4-0.6 0.3-0.6 0.3-0.4 0.3-0.5 0.4-0.6 0.5-0.6 0.3-0.4 0.4-0.5 0.5-0.5 0.3-0.4 0.6-0.6 0.3-0.3 0.6-0.5 0.4-0.4 0.5-0.4 0.6-0.5 0.3-0.3 0.6-0.4 0.6-0.5 0.5-0.3 0.4-0.3 0.6-0.4 0.6-0.3 0.6-0.4 0.6-0.3 0.6-0.3 0.6-0.3 0.6-0.3 0.6-0.3 0.6-0.2 0.6-0.3 0.6-0.2 0.9-0.3 0.6-0.2 0.6-0.2 0.7-0.2 0.8-0.2 0.6-0.1 0.9-0.2 0.6-0.2 0.9-0.1 0.6-0.1 0.9-0.1 0.9-0.1 0.8-0.1 0.7 0 0.9-0.1 0.9 0 0.9 0 0.9 0 0.9 0.1 0.6 0 0.9 0.1 0.9 0.1 0.6 0.1 0.9 0.1 0.8 0.2 0.7 0.1 0.7 0.2 0.8 0.2 0.6 0.2 0.8 0.2 0.7 0.2 0.6 0.2 0.6 0.2 0.7 0.3 0.8 0.3 0.6 0.3 0.6 0.2 0.6 0.3 0.6 0.3 0.6 0.3 0.6 0.3 0.6 0.4 0.6 0.3 0.5 0.3 0.4 0.3 0.6 0.4 0.6 0.4 0.6 0.4 0.4 0.3 0.5 0.3 0.6 0.5 0.5 0.4 0.4 0.3 0.6 0.5 0.5 0.4 0.4 0.4 0.6 0.5 0.3 0.3 0.6 0.5 0.4 0.4 0.5 0.4 0.5 0.5 0.4 0.4 0.5 0.5 0.4 0.4 0.6 0.5 0.3 0.3 0.6 0.6 0.4 0.3 0.5 0.5 0.5 0.4 0.4 0.3 0.6 0.5 0.6 0.4 0.4 0.3 0.5 0.3 0.6 0.3 0.6 0.3 0.6 0.3 0.7 0.3 0.8 0.2 0.6 0.2 0.9 0.2 0.6 0 0.9 0.1 0.9 0.1 0.9 0 0.9 0 0.9-0.1 0.9 0 0.8-0.1 0.7-0.1 0.9-0.1 0.9-0.1 0.6 0 0.9-0.1 0.9-0.2 0.6 0 0.9-0.2 0.9-0.1 0.6-0.1 0.9-0.1 0.9-0.1 0.6-0.1 0.9 0 0.9-0.1 0.9-0.1 0.6 0 0.9 0 0.9 0 0.9 0 0.6 0 0.9 0.1 0.9 0.1 0.9 0.1 0.6 0.1 0.9 0.2 0.6 0.1 0.6 0.2 0.9 0.3 0.6 0.2 0.6 0.2 0.6 0.3 0.6 0.3 0.6 0.3 0.6 0.3 0.6 0.4 0.6 0.4 0.4 0.3 0.5 0.4 0.6 0.5 0.3 0.3 0.6 0.6 0.3 0.3 0.5 0.6 0.4 0.5 0.3 0.4 0.5 0.6 0.3 0.6 0.4 0.6 0.3 0.6 0.3 0.6 0.3 0.6 0.2 0.6 0.2 0.6 0.2 0.6 0.2 0.9 0.2 0.6 0.1 0.9 0.1 0.8 0 0.7 0.1 0.9 -0.1 0.9 0 0.6 -0.1 0.9 -0.2 0.9 -0.1 0.6 -0.2 0.7 -0.2 0.8 -0.3 0.6 -0.2 0.6 -0.3 0.6 -0.3 0.6 -0.3 0.6 -0.4 0.6 -0.4 0.6 -0.3 0.4 -0.4 0.5 -0.5 0.6 -0.3 0.3 -0.6 0.6 -0.4 0.3 -0.5 0.5 -0.6 0.4 -0.4 0.3 -0.5 0.3 -0.6 0.4 -0.6 0.3 -0.6 0.3 -0.6 0.2 -0.7 0.3 -0.8 0.3 -0.6 0.1 -0.7 0.2 -0.8 0.1 -0.9 0.1 -0.7 0.1 -0.8 0 -0.9 0 -0.6 0 -0.9-0.1 -0.9-0.2 -0.6-0.1 -0.9-0.2 -0.6-0.1 -0.6-0.2 -0.8-0.3 -0.7-0.3 -0.6-0.2 -0.6-0.3 -0.6-0.2 -0.6-0.3 -0.6-0.3 -0.6-0.3 -0.6-0.4 -0.6-0.3 -0.6-0.4 -0.6-0.3 -0.5-0.3 -0.5-0.3 -0.5-0.3 -0.6-0.4 -0.6-0.3 -0.6-0.4 -0.6-0.3 -0.6-0.4 -0.6-0.3 -0.6-0.3 -0.6-0.3 -0.6-0.3 -0.6-0.2 -0.6-0.3 -0.6-0.2 -0.6-0.2 -0.9-0.2 -0.6-0.2 -0.9-0.1 -0.9 0 -0.9 0 -0.9 0.1 -0.6 0.2 -0.7 0.2 -0.7 0.3 -0.5 0.3 -0.5 0.3 -0.6 0.4 -0.6 0.5 -0.4 0.3 -0.5 0.5 -0.4 0.4 -0.5 0.5 -0.3 0.4 -0.5 0.6 -0.4 0.4 -0.4 0.5 -0.4 0.6 -0.4 0.5 -0.3 0.4 -0.5 0.6 -0.4 0.5 -0.3 0.4 -0.5 0.6 -0.4 0.5 -0.3 0.4 -0.6 0.6 -0.3 0.4 -0.5 0.5 -0.4 0.5 -0.4 0.4 -0.5 0.5 -0.4 0.4 -0.5 0.5 -0.5 0.4 -0.4 0.4 -0.6 0.5 -0.4 0.3 -0.5 0.4 -0.6 0.4 -0.5 0.4 -0.4 0.3 -0.6 0.4 -0.6 0.3 -0.6 0.4 -0.6 0.3 -0.6 0.3 -0.6 0.3 -0.6 0.3 -0.6 0.3 -0.6 0.2 -0.6 0.2 -0.7 0.3 -0.8 0.3 -0.6 0.1 -0.6 0.2 -0.9 0.2 -0.6 0.2 -0.9 0.1 -0.6 0.2 -0.9 0.1 -0.9 0.1z M1154.3 1277.3l-0.9 0.1 -0.9 0.1 -0.9 0.1 -0.9 0 -0.9 0 -0.9 0 -0.9-0.1 -0.9 0 -0.9-0.1 -0.6-0.1 -0.9-0.1 -0.9-0.2 -0.6-0.1 -0.8-0.2 -0.7-0.2 -0.6-0.1 -0.9-0.3 -0.6-0.2 -0.6-0.2 -0.6-0.2 -0.7-0.3 -0.7-0.3 -0.7-0.3 -0.6-0.3 -0.6-0.3 -0.6-0.3 -0.5-0.3 -0.5-0.3 -0.5-0.3 -0.6-0.4 -0.6-0.4 -0.5-0.4 -0.5-0.3 -0.5-0.4 -0.6-0.5 -0.3-0.3 -0.6-0.5 -0.4-0.4 -0.5-0.5 -0.4-0.4 -0.5-0.5 -0.4-0.4 -0.5-0.6 -0.3-0.3 -0.5-0.6 -0.4-0.6 -0.3-0.3 -0.4-0.6 -0.4-0.6 -0.4-0.5 -0.3-0.5 -0.3-0.5 -0.4-0.6 -0.4-0.6 -0.3-0.6 -0.4-0.6 -0.3-0.6 -0.3-0.6 -0.3-0.5 -0.3-0.6 -0.3-0.6 -0.3-0.6 -0.3-0.6 -0.3-0.6 -0.3-0.6 -0.3-0.7 -0.3-0.6 -0.2-0.6 -0.3-0.6 -0.3-0.6 -0.2-0.6 -0.2-0.6 -0.3-0.7 -0.3-0.8 -0.2-0.6 -0.2-0.6 -0.2-0.6 -0.3-0.9 -0.2-0.6 -0.1-0.6 -0.2-0.9 -0.2-0.6 -0.1-0.9 -0.1-0.6 -0.2-0.9 -0.1-0.9 0-0.6 -0.1-0.9 0-0.9 0-0.9 0.1-0.9 0-0.6 0.1-0.9 0.2-0.9 0.1-0.6 0.2-0.9 0.1-0.6 0.2-0.7 0.2-0.8 0.2-0.6 0.3-0.6 0.2-0.6 0.3-0.7 0.3-0.7 0.3-0.6 0.3-0.5 0.3-0.6 0.3-0.5 0.4-0.6 0.4-0.6 0.4-0.6 0.3-0.4 0.4-0.5 0.5-0.6 0.3-0.4 0.5-0.5 0.4-0.5 0.4-0.4 0.5-0.5 0.4-0.4 0.5-0.4 0.6-0.5 0.3-0.3 0.6-0.5 0.6-0.4 0.4-0.3 0.5-0.4 0.6-0.4 0.6-0.4 0.5-0.3 0.5-0.3 0.6-0.3 0.5-0.3 0.6-0.3 0.6-0.3 0.6-0.3 0.7-0.3 0.7-0.3 0.7-0.3 0.6-0.2 0.6-0.2 0.6-0.2 0.9-0.3 0.6-0.2 0.6-0.1 0.9-0.3 0.6-0.1 0.9-0.2 0.6-0.1 0.9-0.1 0.6-0.1 0.9-0.1 0.9-0.1 0.9-0.1 0.6 0 0.9-0.1 0.9 0 0.9 0 0.9 0 0.9 0.1 0.6 0 0.9 0.1 0.9 0.1 0.6 0.1 0.9 0.1 0.9 0.2 0.6 0.1 0.9 0.2 0.6 0.1 0.6 0.2 0.9 0.2 0.6 0.2 0.6 0.2 0.9 0.3 0.6 0.2 0.6 0.3 0.6 0.2 0.6 0.2 0.6 0.3 0.7 0.3 0.6 0.3 0.6 0.3 0.6 0.3 0.5 0.3 0.6 0.3 0.6 0.4 0.6 0.3 0.6 0.4 0.6 0.4 0.5 0.3 0.4 0.3 0.6 0.4 0.6 0.4 0.5 0.4 0.4 0.3 0.6 0.4 0.6 0.5 0.4 0.3 0.5 0.4 0.6 0.5 0.4 0.3 0.5 0.4 0.6 0.5 0.4 0.3 0.5 0.4 0.6 0.5 0.4 0.3 0.5 0.4 0.6 0.4 0.6 0.4 0.5 0.3 0.4 0.3 0.6 0.3 0.6 0.3 0.6 0.3 0.6 0.3 0.8 0.3 0.7 0.2 0.6 0.2 0.9 0.2 0.6 0.1 0.9 0.1 0.8 0.1 0.7 0 0.9 0.1 0.9 0 0.9 0 0.9 0 0.9 0 0.9 0 0.9 0 0.9 0 0.9-0.1 0.8 0 0.7 0 0.9-0.1 0.9 0 0.9-0.1 0.9 0 0.9-0.1 0.7 0 0.8 0 0.9-0.1 0.9 0 0.9 0 0.9 0 0.9 0.1 0.9 0 0.6 0 0.9 0.1 0.9 0.1 0.6 0.1 0.9 0.2 0.7 0.1 0.8 0.2 0.6 0.1 0.9 0.3 0.6 0.2 0.6 0.2 0.6 0.3 0.6 0.2 0.6 0.3 0.6 0.3 0.6 0.3 0.6 0.3 0.6 0.4 0.6 0.4 0.5 0.4 0.4 0.3 0.6 0.5 0.5 0.4 0.4 0.4 0.5 0.5 0.4 0.4 0.5 0.5 0.4 0.5 0.3 0.4 0.4 0.6 0.4 0.6 0.4 0.6 0.3 0.5 0.3 0.6 0.3 0.6 0.3 0.6 0.3 0.7 0.2 0.6 0.2 0.6 0.2 0.7 0.2 0.8 0.1 0.6 0.2 0.9 0.1 0.8 0.1 0.7 0 0.9 0 0.9 0 0.9 -0.1 0.8 -0.1 0.7 -0.1 0.9 -0.2 0.6 -0.2 0.9 -0.2 0.6 -0.2 0.6 -0.2 0.7 -0.3 0.7 -0.3 0.6 -0.3 0.6 -0.3 0.6 -0.3 0.5 -0.3 0.5 -0.4 0.6 -0.5 0.6 -0.3 0.4 -0.4 0.5 -0.5 0.5 -0.4 0.4 -0.5 0.5 -0.5 0.4 -0.4 0.4 -0.6 0.4 -0.5 0.4 -0.5 0.3 -0.5 0.3 -0.6 0.4 -0.6 0.3 -0.6 0.2 -0.6 0.3 -0.8 0.3 -0.7 0.2 -0.6 0.2 -0.8 0.2 -0.7 0.1 -0.9 0.2 -0.6 0 -0.9 0.1 -0.9 0 -0.9 0 -0.9 0 -0.6-0.1 -0.9-0.1 -0.9-0.2 -0.6-0.1 -0.8-0.2 -0.7-0.2 -0.6-0.2 -0.7-0.2 -0.8-0.3 -0.6-0.2 -0.6-0.3 -0.6-0.2 -0.6-0.3 -0.6-0.3 -0.6-0.2 -0.6-0.3 -0.6-0.3 -0.6-0.3 -0.6-0.3 -0.6-0.3 -0.6-0.3 -0.6-0.4 -0.6-0.2 -0.6-0.3 -0.6-0.3 -0.6-0.3 -0.7-0.3 -0.8-0.3 -0.6-0.2 -0.6-0.2 -0.6-0.2 -0.9-0.2 -0.6-0.2 -0.9-0.1 -0.9-0.1 -0.9 0 -0.9 0.1 -0.9 0.1 -0.6 0.2 -0.7 0.2 -0.7 0.3 -0.6 0.3 -0.5 0.3 -0.5 0.3 -0.6 0.4 -0.6 0.5 -0.3 0.3 -0.6 0.5 -0.4 0.4 -0.5 0.5 -0.4 0.4 -0.5 0.6 -0.3 0.3 -0.6 0.6 -0.3 0.3 -0.5 0.6 -0.4 0.4 -0.4 0.5 -0.5 0.5 -0.4 0.4 -0.5 0.5 -0.4 0.4 -0.5 0.5 -0.4 0.4 -0.5 0.4 -0.6 0.5 -0.3 0.3 -0.6 0.5 -0.5 0.4 -0.4 0.3 -0.6 0.5 -0.6 0.4 -0.5 0.3 -0.4 0.3 -0.6 0.4 -0.6 0.3 -0.6 0.4 -0.6 0.3 -0.6 0.3 -0.6 0.3 -0.6 0.3 -0.6 0.2 -0.6 0.3 -0.6 0.2 -0.8 0.3 -0.7 0.2 -0.6 0.2 -0.6 0.2 -0.9 0.2 -0.6 0.2 -0.9 0.2 -0.6 0.1 -0.9 0.1 -0.6 0.1z M1152.5 1279.1l-0.9 0.1 -0.9 0 -0.9 0 -0.9 0 -0.9 0 -0.8-0.1 -0.7-0.1 -0.9-0.1 -0.9-0.1 -0.6-0.1 -0.9-0.1 -0.6-0.2 -0.9-0.2 -0.6-0.1 -0.6-0.2 -0.9-0.3 -0.6-0.2 -0.6-0.2 -0.7-0.2 -0.7-0.3 -0.7-0.3 -0.6-0.3 -0.6-0.2 -0.6-0.3 -0.6-0.3 -0.6-0.4 -0.6-0.3 -0.5-0.3 -0.4-0.3 -0.6-0.4 -0.6-0.4 -0.6-0.4 -0.4-0.3 -0.5-0.4 -0.6-0.5 -0.4-0.3 -0.5-0.5 -0.5-0.4 -0.4-0.4 -0.5-0.5 -0.4-0.4 -0.4-0.5 -0.5-0.5 -0.3-0.4 -0.5-0.6 -0.4-0.5 -0.3-0.4 -0.5-0.6 -0.4-0.6 -0.3-0.4 -0.3-0.5 -0.4-0.6 -0.4-0.6 -0.4-0.6 -0.3-0.5 -0.3-0.6 -0.3-0.5 -0.3-0.5 -0.3-0.6 -0.3-0.6 -0.3-0.6 -0.3-0.6 -0.3-0.6 -0.3-0.6 -0.3-0.6 -0.3-0.6 -0.3-0.7 -0.3-0.6 -0.3-0.7 -0.3-0.7 -0.3-0.6 -0.2-0.6 -0.2-0.6 -0.3-0.6 -0.2-0.6 -0.3-0.8 -0.2-0.7 -0.2-0.6 -0.2-0.6 -0.3-0.9 -0.1-0.6 -0.2-0.6 -0.2-0.9 -0.1-0.6 -0.2-0.9 -0.1-0.6 -0.1-0.9 -0.1-0.9 -0.1-0.9 0-0.6 0-0.9 0-0.9 0-0.6 0.1-0.9 0.1-0.9 0.1-0.9 0.1-0.6 0.2-0.9 0.1-0.6 0.2-0.8 0.2-0.7 0.2-0.6 0.2-0.6 0.3-0.8 0.3-0.7 0.3-0.6 0.2-0.6 0.4-0.6 0.3-0.6 0.3-0.6 0.3-0.5 0.3-0.5 0.4-0.5 0.4-0.6 0.4-0.6 0.3-0.4 0.4-0.5 0.5-0.6 0.3-0.3 0.5-0.6 0.4-0.4 0.5-0.5 0.4-0.4 0.5-0.5 0.4-0.3 0.6-0.5 0.4-0.4 0.5-0.4 0.6-0.4 0.5-0.4 0.4-0.3 0.6-0.4 0.6-0.4 0.6-0.3 0.6-0.4 0.5-0.3 0.6-0.3 0.5-0.3 0.6-0.3 0.7-0.3 0.6-0.3 0.7-0.3 0.6-0.2 0.6-0.3 0.6-0.2 0.6-0.2 0.9-0.3 0.6-0.2 0.6-0.2 0.9-0.2 0.6-0.2 0.6-0.1 0.9-0.2 0.6-0.1 0.9-0.2 0.9-0.1 0.6-0.1 0.9-0.1 0.9 0 0.8-0.1 0.7 0 0.9-0.1 0.9 0 0.9 0 0.9 0.1 0.6 0 0.9 0.1 0.9 0 0.9 0.1 0.6 0.1 0.9 0.2 0.8 0.1 0.7 0.1 0.8 0.2 0.7 0.2 0.6 0.1 0.9 0.3 0.6 0.1 0.6 0.2 0.9 0.3 0.6 0.2 0.6 0.2 0.6 0.3 0.6 0.2 0.7 0.3 0.7 0.3 0.7 0.3 0.6 0.3 0.6 0.3 0.6 0.3 0.6 0.3 0.5 0.3 0.5 0.3 0.5 0.3 0.6 0.3 0.6 0.4 0.6 0.4 0.6 0.4 0.5 0.3 0.5 0.3 0.5 0.4 0.6 0.4 0.6 0.4 0.4 0.3 0.5 0.3 0.6 0.5 0.6 0.4 0.5 0.3 0.4 0.3 0.6 0.4 0.6 0.4 0.6 0.4 0.5 0.3 0.5 0.3 0.5 0.3 0.6 0.3 0.6 0.3 0.7 0.3 0.7 0.3 0.7 0.2 0.6 0.2 0.7 0.2 0.8 0.2 0.6 0.1 0.9 0.1 0.9 0.1 0.6 0.1 0.9 0.1 0.9 0 0.9 0.1 0.9 0 0.9 0 0.9 0 0.9 0.1 0.9 0 0.9 0 0.9 0 0.9 0 0.9 0 0.9 0 0.9 0 0.9 0 0.9 0 0.9 0 0.9 0 0.9 0 0.6 0 0.9 0 0.9 0.1 0.9 0 0.9 0.1 0.9 0.1 0.6 0 0.9 0.1 0.9 0.2 0.6 0.1 0.9 0.1 0.6 0.2 0.9 0.2 0.6 0.1 0.6 0.2 0.9 0.3 0.6 0.2 0.6 0.3 0.6 0.2 0.6 0.3 0.6 0.3 0.6 0.3 0.6 0.3 0.6 0.3 0.6 0.4 0.6 0.4 0.4 0.3 0.5 0.4 0.6 0.5 0.4 0.3 0.5 0.4 0.5 0.5 0.4 0.4 0.5 0.5 0.4 0.5 0.3 0.4 0.5 0.6 0.4 0.5 0.3 0.4 0.4 0.6 0.4 0.6 0.3 0.6 0.3 0.6 0.3 0.6 0.3 0.6 0.2 0.6 0.3 0.6 0.2 0.6 0.3 0.9 0.1 0.6 0.2 0.6 0.2 0.9 0.1 0.7 0.1 0.8 0.1 0.9 0.1 0.9 0 0.9 0 0.9 -0.1 0.9 -0.1 0.9 -0.1 0.7 -0.1 0.8 -0.2 0.7 -0.2 0.8 -0.2 0.6 -0.2 0.7 -0.3 0.8 -0.2 0.6 -0.3 0.6 -0.3 0.6 -0.3 0.6 -0.3 0.6 -0.4 0.6 -0.3 0.5 -0.3 0.4 -0.4 0.6 -0.5 0.6 -0.3 0.4 -0.4 0.5 -0.5 0.5 -0.4 0.4 -0.5 0.5 -0.5 0.4 -0.4 0.3 -0.6 0.5 -0.6 0.4 -0.4 0.3 -0.5 0.3 -0.6 0.4 -0.6 0.3 -0.6 0.3 -0.6 0.3 -0.6 0.3 -0.6 0.2 -0.9 0.3 -0.6 0.2 -0.6 0.1 -0.9 0.2 -0.6 0.2 -0.9 0.1 -0.9 0.1 -0.6 0 -0.9 0.1 -0.9 0 -0.9-0.1 -0.6 0 -0.9-0.1 -0.9-0.2 -0.6-0.1 -0.9-0.1 -0.6-0.2 -0.8-0.2 -0.7-0.2 -0.6-0.2 -0.6-0.2 -0.9-0.3 -0.6-0.2 -0.6-0.3 -0.6-0.2 -0.6-0.3 -0.6-0.2 -0.6-0.3 -0.7-0.3 -0.7-0.3 -0.6-0.3 -0.7-0.3 -0.6-0.3 -0.6-0.2 -0.6-0.3 -0.6-0.2 -0.6-0.2 -0.7-0.3 -0.8-0.2 -0.6-0.2 -0.6-0.2 -0.9-0.2 -0.6-0.1 -0.9-0.1 -0.9-0.1 -0.9 0 -0.9 0.1 -0.9 0.1 -0.6 0.1 -0.6 0.2 -0.8 0.3 -0.6 0.3 -0.6 0.3 -0.5 0.3 -0.5 0.3 -0.6 0.5 -0.6 0.4 -0.3 0.3 -0.6 0.5 -0.5 0.4 -0.4 0.4 -0.5 0.5 -0.4 0.3 -0.6 0.6 -0.3 0.3 -0.6 0.6 -0.4 0.3 -0.5 0.5 -0.4 0.4 -0.5 0.4 -0.5 0.5 -0.4 0.3 -0.6 0.5 -0.5 0.4 -0.4 0.3 -0.6 0.5 -0.6 0.4 -0.4 0.3 -0.5 0.4 -0.6 0.4 -0.6 0.4 -0.6 0.3 -0.5 0.3 -0.5 0.3 -0.6 0.3 -0.5 0.3 -0.7 0.3 -0.6 0.3 -0.7 0.3 -0.7 0.3 -0.6 0.2 -0.6 0.3 -0.6 0.2 -0.7 0.2 -0.8 0.2 -0.6 0.2 -0.7 0.2 -0.8 0.2 -0.6 0.1 -0.9 0.2 -0.7 0.1 -0.8 0.1 -0.9 0.1 -0.9 0.1z" fill="none" stroke="#000" stroke-width="0.95" stroke-linejoin="round"/>
</g>
<line x1="1068.85" y1="1181.7" x2="1339.5" y2="1181.7" stroke="#333" stroke-width="1.3"/>
<line x1="1339" y1="1181.4" x2="1339" y2="1429.5" stroke="#888" stroke-width="1.1"/>
<line x1="1069.5" y1="1429.5" x2="1339.5" y2="1429.5" stroke="#666" stroke-width="1.4"/>
<line x1="1069.5" y1="1181.4" x2="1069.5" y2="1430.2" stroke="#333" stroke-width="1.4"/>
<rect x="1171" y="1184.6" width="165.7" height="140" fill="none" stroke="#111" stroke-width="2.2"/>
<text transform="translate(1253.52,1252.7) scale(1.0228,1)" font-size="28.96">26.9</text>
<line x1="1103.55" y1="1429.5" x2="1103.55" y2="1436.1" stroke="#000" stroke-width="3"/>
<line x1="1169.74" y1="1429.5" x2="1169.74" y2="1436.1" stroke="#000" stroke-width="3"/>
<line x1="1247.27" y1="1429.5" x2="1247.27" y2="1436.1" stroke="#000" stroke-width="3"/>
<line x1="1312.64" y1="1429.5" x2="1312.64" y2="1436.1" stroke="#000" stroke-width="3"/>
<rect x="1131.53" y="1429.5" width="9.73" height="6.6" fill="#000"/>
<line x1="1119.57" y1="1429.5" x2="1119.57" y2="1434.7" stroke="#000" stroke-width="2"/>
<line x1="1154.03" y1="1429.5" x2="1154.03" y2="1434.7" stroke="#000" stroke-width="2"/>
<line x1="1079.94" y1="1429.5" x2="1079.94" y2="1433" stroke="#111" stroke-width="1.1"/>
<line x1="1106.9" y1="1429.5" x2="1106.9" y2="1433" stroke="#111" stroke-width="1.1"/>
<line x1="1109.84" y1="1429.5" x2="1109.84" y2="1433" stroke="#111" stroke-width="1.1"/>
<line x1="1112.88" y1="1429.5" x2="1112.88" y2="1433" stroke="#111" stroke-width="1.1"/>
<line x1="1115.82" y1="1429.5" x2="1115.82" y2="1433" stroke="#111" stroke-width="1.1"/>
<line x1="1122.2" y1="1429.5" x2="1122.2" y2="1433" stroke="#111" stroke-width="1.1"/>
<line x1="1125.55" y1="1429.5" x2="1125.55" y2="1433" stroke="#111" stroke-width="1.1"/>
<line x1="1128.59" y1="1429.5" x2="1128.59" y2="1433" stroke="#111" stroke-width="1.1"/>
<line x1="1143.89" y1="1429.5" x2="1143.89" y2="1433" stroke="#111" stroke-width="1.1"/>
<line x1="1148.05" y1="1429.5" x2="1148.05" y2="1433" stroke="#111" stroke-width="1.1"/>
<line x1="1150.99" y1="1429.5" x2="1150.99" y2="1433" stroke="#111" stroke-width="1.1"/>
<line x1="1158.49" y1="1429.5" x2="1158.49" y2="1433" stroke="#111" stroke-width="1.1"/>
<line x1="1161.53" y1="1429.5" x2="1161.53" y2="1433" stroke="#111" stroke-width="1.1"/>
<line x1="1164.47" y1="1429.5" x2="1164.47" y2="1433" stroke="#111" stroke-width="1.1"/>
<line x1="1193.08" y1="1429.5" x2="1193.08" y2="1433" stroke="#111" stroke-width="1.1"/>
<line x1="1266.95" y1="1429.5" x2="1266.95" y2="1433" stroke="#111" stroke-width="1.1"/>
<line x1="1206.73" y1="1429.5" x2="1206.73" y2="1433" stroke="#111" stroke-width="1.1"/>
<line x1="1278.46" y1="1429.5" x2="1278.46" y2="1433" stroke="#111" stroke-width="1.1"/>
<line x1="1216.42" y1="1429.5" x2="1216.42" y2="1433" stroke="#111" stroke-width="1.1"/>
<line x1="1286.63" y1="1429.5" x2="1286.63" y2="1433" stroke="#111" stroke-width="1.1"/>
<line x1="1223.93" y1="1429.5" x2="1223.93" y2="1434.7" stroke="#111" stroke-width="2"/>
<line x1="1292.96" y1="1429.5" x2="1292.96" y2="1434.7" stroke="#111" stroke-width="2"/>
<line x1="1230.07" y1="1429.5" x2="1230.07" y2="1433" stroke="#111" stroke-width="1.1"/>
<line x1="1298.14" y1="1429.5" x2="1298.14" y2="1433" stroke="#111" stroke-width="1.1"/>
<line x1="1235.26" y1="1429.5" x2="1235.26" y2="1433" stroke="#111" stroke-width="1.1"/>
<line x1="1302.52" y1="1429.5" x2="1302.52" y2="1433" stroke="#111" stroke-width="1.1"/>
<line x1="1239.76" y1="1429.5" x2="1239.76" y2="1433" stroke="#111" stroke-width="1.1"/>
<line x1="1306.31" y1="1429.5" x2="1306.31" y2="1433" stroke="#111" stroke-width="1.1"/>
<line x1="1243.72" y1="1429.5" x2="1243.72" y2="1433" stroke="#111" stroke-width="1.1"/>
<line x1="1309.65" y1="1429.5" x2="1309.65" y2="1433" stroke="#111" stroke-width="1.1"/>
<line x1="1330.95" y1="1429.5" x2="1330.95" y2="1433" stroke="#111" stroke-width="1.1"/>
<line x1="1062.1" y1="1203.58" x2="1069.5" y2="1203.58" stroke="#000" stroke-width="3"/>
<line x1="1062.1" y1="1262.82" x2="1069.5" y2="1262.82" stroke="#000" stroke-width="3"/>
<line x1="1062.1" y1="1330.77" x2="1069.5" y2="1330.77" stroke="#000" stroke-width="3"/>
<line x1="1062.1" y1="1412.69" x2="1069.5" y2="1412.69" stroke="#000" stroke-width="3"/>
<rect x="1062.1" y="1366.72" width="7.4" height="11.95" fill="#000"/>
<line x1="1063.9" y1="1350.61" x2="1069.5" y2="1350.61" stroke="#000" stroke-width="2"/>
<line x1="1063.9" y1="1395.88" x2="1069.5" y2="1395.88" stroke="#000" stroke-width="2"/>
<line x1="1066" y1="1342.01" x2="1069.5" y2="1342.01" stroke="#111" stroke-width="1.1"/>
<line x1="1066" y1="1346.56" x2="1069.5" y2="1346.56" stroke="#111" stroke-width="1.1"/>
<line x1="1066" y1="1353.25" x2="1069.5" y2="1353.25" stroke="#111" stroke-width="1.1"/>
<line x1="1066" y1="1358.11" x2="1069.5" y2="1358.11" stroke="#111" stroke-width="1.1"/>
<line x1="1066" y1="1363.37" x2="1069.5" y2="1363.37" stroke="#111" stroke-width="1.1"/>
<line x1="1066" y1="1382.01" x2="1069.5" y2="1382.01" stroke="#111" stroke-width="1.1"/>
<line x1="1066" y1="1386.46" x2="1069.5" y2="1386.46" stroke="#111" stroke-width="1.1"/>
<line x1="1066" y1="1390.61" x2="1069.5" y2="1390.61" stroke="#111" stroke-width="1.1"/>
<line x1="1066" y1="1399.22" x2="1069.5" y2="1399.22" stroke="#111" stroke-width="1.1"/>
<line x1="1066" y1="1402.97" x2="1069.5" y2="1402.97" stroke="#111" stroke-width="1.1"/>
<line x1="1066" y1="1407.02" x2="1069.5" y2="1407.02" stroke="#111" stroke-width="1.1"/>
<line x1="1066" y1="1310.31" x2="1069.5" y2="1310.31" stroke="#111" stroke-width="1.1"/>
<line x1="1066" y1="1244.98" x2="1069.5" y2="1244.98" stroke="#111" stroke-width="1.1"/>
<line x1="1066" y1="1298.35" x2="1069.5" y2="1298.35" stroke="#111" stroke-width="1.1"/>
<line x1="1066" y1="1234.55" x2="1069.5" y2="1234.55" stroke="#111" stroke-width="1.1"/>
<line x1="1066" y1="1289.86" x2="1069.5" y2="1289.86" stroke="#111" stroke-width="1.1"/>
<line x1="1066" y1="1227.15" x2="1069.5" y2="1227.15" stroke="#111" stroke-width="1.1"/>
<line x1="1063.9" y1="1283.27" x2="1069.5" y2="1283.27" stroke="#111" stroke-width="2"/>
<line x1="1063.9" y1="1221.41" x2="1069.5" y2="1221.41" stroke="#111" stroke-width="2"/>
<line x1="1066" y1="1277.89" x2="1069.5" y2="1277.89" stroke="#111" stroke-width="1.1"/>
<line x1="1066" y1="1216.72" x2="1069.5" y2="1216.72" stroke="#111" stroke-width="1.1"/>
<line x1="1066" y1="1273.34" x2="1069.5" y2="1273.34" stroke="#111" stroke-width="1.1"/>
<line x1="1066" y1="1212.75" x2="1069.5" y2="1212.75" stroke="#111" stroke-width="1.1"/>
<line x1="1066" y1="1269.4" x2="1069.5" y2="1269.4" stroke="#111" stroke-width="1.1"/>
<line x1="1066" y1="1209.32" x2="1069.5" y2="1209.32" stroke="#111" stroke-width="1.1"/>
<line x1="1066" y1="1265.93" x2="1069.5" y2="1265.93" stroke="#111" stroke-width="1.1"/>
<line x1="1066" y1="1206.29" x2="1069.5" y2="1206.29" stroke="#111" stroke-width="1.1"/>
<line x1="1066" y1="1186.81" x2="1069.5" y2="1186.81" stroke="#111" stroke-width="1.1"/>
<text transform="translate(1008.81,1213.4) scale(0.9122,1)" font-size="27.58">10</text>
<text transform="translate(1038.77,1200.34) scale(1.0885,1)" font-size="19.15">5</text>
<text transform="translate(1008.81,1273.65) scale(0.9074,1)" font-size="27.73">10</text>
<text transform="translate(1039.16,1260.49) scale(1.0317,1)" font-size="19.00">4</text>
<text transform="translate(1008.81,1340.69) scale(0.9122,1)" font-size="27.58">10</text>
<text transform="translate(1038.82,1327.63) scale(1.1043,1)" font-size="18.87">3</text>
<text transform="translate(1008.81,1380.08) scale(0.9122,1)" font-size="27.58">10</text>
<text transform="translate(1038.77,1366.92) scale(1.1070,1)" font-size="18.73">0</text>
<text transform="translate(999.61,1421.7) scale(0.9561,1)" font-size="26.42">10</text>
<text transform="translate(1028.75,1409.45) scale(1.1321,1)" font-size="16.70">−3</text>
<text transform="translate(1104.89,1478.2) scale(0.9624,1)" font-size="27.81">10</text>
<text transform="translate(1137.17,1466.1) scale(1.0538,1)" font-size="20.07">0</text>
<text transform="translate(1162.5,1478.2) scale(0.9407,1)" font-size="27.81">10</text>
<text transform="translate(1192.87,1466.1) scale(1.0489,1)" font-size="20.07">3</text>
<text transform="translate(1226.25,1478.2) scale(0.9407,1)" font-size="27.81">10</text>
<text transform="translate(1256.96,1466.1) scale(0.9724,1)" font-size="20.36">4</text>
<text transform="translate(1290.56,1478.2) scale(0.9660,1)" font-size="27.81">10</text>
<text transform="translate(1321.69,1466.1) scale(0.9615,1)" font-size="20.36">5</text>
<text transform="translate(1073.29,1514.3) scale(1.0118,1)" font-size="27.81">CD38</text>
<line x1="1157.3" y1="1506" x2="1325.5" y2="1506" stroke="#000" stroke-width="4.4"/>
<path d="M1339.5 1506 L1323.5 1499.4 L1326.5 1506 L1323.5 1512.6 Z" fill="#000"/>
<line x1="977.5" y1="1343.6" x2="977.5" y2="1195.4" stroke="#000" stroke-width="4.4"/>
<path d="M977.5 1181.4 L970.9 1197.4 L977.5 1194.4 L984.1 1197.4 Z" fill="#000"/>
<text transform="translate(985.3,1429.82) rotate(-90) scale(0.8494,1)" font-size="28.80">CD11b</text>
<text transform="translate(1158.99,1166.3) scale(0.9825,1)" font-size="30.07" font-style="italic">Shp2</text>
<text transform="translate(1228.8,1153.48) scale(1.1009,1)" font-size="22.31" font-style="italic">f/f</text>
<g>
<path d="M1541.4 1238.6l-0.6-0.2 -0.4-0.4 -0.2-0.7 0-0.5 0.3-0.7 0.6-0.3 0.6 0.1 0.5 0.6 0.2 0.6 -0.1 0.8 -0.3 0.5 -0.6 0.2z M1541.7 1240.1l-0.6 0 -0.6-0.3 -0.6-0.5 -0.3-0.4 -0.3-0.6 -0.2-0.9 0-0.9 0.2-0.7 0.3-0.6 0.5-0.5 0.7-0.3 0.6 0 0.6 0.2 0.6 0.4 0.3 0.3 0.3 0.6 0.3 0.9 0 0.6 0 0.6 -0.3 0.9 -0.3 0.5 -0.4 0.4 -0.7 0.3z M1542.3 1241.6l-0.9 0.1 -0.6-0.1 -0.6-0.3 -0.6-0.5 -0.4-0.4 -0.4-0.6 -0.3-0.6 -0.3-0.6 -0.1-0.6 -0.1-0.9 0-0.9 0.1-0.6 0.3-0.7 0.3-0.5 0.5-0.6 0.4-0.3 0.6-0.3 0.9-0.2 0.9 0.1 0.6 0.3 0.5 0.4 0.4 0.4 0.4 0.5 0.3 0.6 0.2 0.6 0.2 0.9 0.1 0.9 -0.1 0.9 -0.2 0.7 -0.3 0.7 -0.3 0.5 -0.4 0.5 -0.5 0.4 -0.6 0.2z M1542.0 1243.4l-0.6 0 -0.9-0.3 -0.6-0.3 -0.4-0.3 -0.5-0.4 -0.4-0.5 -0.5-0.6 -0.3-0.5 -0.3-0.6 -0.3-0.7 -0.1-0.6 -0.2-0.9 0-0.6 0-0.9 0.1-0.6 0.2-0.8 0.3-0.7 0.3-0.5 0.3-0.4 0.5-0.6 0.4-0.3 0.6-0.3 0.9-0.3 0.6 0 0.6 0 0.9 0.3 0.6 0.3 0.4 0.3 0.5 0.4 0.4 0.5 0.4 0.6 0.3 0.6 0.2 0.6 0.2 0.7 0.1 0.8 0.1 0.9 0 0.9 -0.2 0.9 -0.1 0.6 -0.3 0.6 -0.2 0.6 -0.4 0.6 -0.5 0.6 -0.4 0.3 -0.5 0.3 -0.9 0.3z M1542.9 1245.2l-0.9 0.1 -0.6-0.1 -0.8-0.3 -0.6-0.3 -0.5-0.3 -0.5-0.4 -0.5-0.5 -0.4-0.4 -0.4-0.5 -0.4-0.6 -0.4-0.6 -0.3-0.6 -0.2-0.6 -0.2-0.6 -0.2-0.6 -0.2-0.9 -0.1-0.9 0.1-0.9 0.1-0.9 0.1-0.6 0.3-0.8 0.3-0.6 0.3-0.5 0.3-0.5 0.6-0.6 0.3-0.3 0.6-0.4 0.6-0.3 0.6-0.2 0.9-0.2 0.9 0.1 0.6 0.1 0.8 0.3 0.6 0.3 0.4 0.3 0.6 0.5 0.3 0.4 0.5 0.6 0.4 0.6 0.3 0.6 0.2 0.6 0.2 0.6 0.2 0.9 0.1 0.6 0 0.9 0 0.9 -0.1 0.9 -0.1 0.6 -0.2 0.9 -0.2 0.6 -0.2 0.6 -0.3 0.6 -0.4 0.6 -0.4 0.6 -0.3 0.3 -0.6 0.4 -0.6 0.4 -0.6 0.1z M1543.8 1247.3l-0.9 0.1 -0.9 0 -0.6-0.2 -0.6-0.2 -0.6-0.4 -0.6-0.3 -0.6-0.5 -0.4-0.3 -0.5-0.5 -0.4-0.4 -0.5-0.6 -0.3-0.4 -0.3-0.5 -0.4-0.6 -0.3-0.6 -0.3-0.6 -0.2-0.6 -0.3-0.8 -0.2-0.7 -0.1-0.6 -0.1-0.9 -0.1-0.9 0.1-0.9 0.1-0.9 0.1-0.6 0.2-0.6 0.3-0.7 0.3-0.6 0.3-0.5 0.4-0.6 0.5-0.6 0.3-0.3 0.6-0.4 0.6-0.4 0.6-0.3 0.6-0.2 0.9-0.2 0.9 0 0.9 0.1 0.6 0.2 0.7 0.3 0.5 0.3 0.6 0.4 0.6 0.5 0.3 0.3 0.5 0.6 0.4 0.6 0.3 0.5 0.3 0.6 0.3 0.7 0.2 0.6 0.1 0.6 0.2 0.9 0.1 0.6 0.1 0.9 0 0.9 -0.1 0.9 0 0.6 -0.2 0.9 -0.1 0.7 -0.2 0.8 -0.2 0.6 -0.2 0.6 -0.3 0.6 -0.3 0.6 -0.4 0.6 -0.5 0.6 -0.3 0.3 -0.6 0.5 -0.6 0.3z M1544.4 1250.1l-0.9 0.1 -0.9-0.2 -0.6-0.2 -0.6-0.2 -0.6-0.4 -0.6-0.4 -0.5-0.3 -0.4-0.3 -0.6-0.6 -0.3-0.3 -0.6-0.6 -0.3-0.3 -0.5-0.6 -0.4-0.5 -0.3-0.4 -0.4-0.6 -0.4-0.6 -0.3-0.6 -0.3-0.6 -0.3-0.6 -0.2-0.6 -0.2-0.6 -0.3-0.9 -0.1-0.6 -0.2-0.9 0-0.6 -0.1-0.9 0.1-0.9 0-0.6 0.2-0.9 0.1-0.6 0.3-0.8 0.3-0.7 0.3-0.6 0.3-0.5 0.3-0.5 0.4-0.5 0.5-0.5 0.4-0.4 0.5-0.3 0.6-0.4 0.6-0.3 0.6-0.3 0.9-0.2 0.6-0.1 0.9 0 0.8 0.1 0.7 0.2 0.6 0.2 0.6 0.2 0.6 0.4 0.6 0.4 0.5 0.4 0.4 0.4 0.4 0.5 0.5 0.6 0.3 0.5 0.3 0.5 0.3 0.6 0.3 0.7 0.3 0.7 0.1 0.6 0.2 0.7 0.2 0.8 0.1 0.9 0 0.6 0 0.9 0 0.9 0 0.6 -0.1 0.9 -0.1 0.9 -0.1 0.6 -0.2 0.9 -0.2 0.6 -0.2 0.8 -0.2 0.7 -0.2 0.6 -0.3 0.6 -0.3 0.6 -0.3 0.6 -0.4 0.6 -0.4 0.4 -0.5 0.5 -0.4 0.3 -0.7 0.3z M1545.3 1253.7l-0.9 0 -0.7-0.1 -0.8-0.3 -0.6-0.3 -0.5-0.3 -0.4-0.3 -0.6-0.4 -0.5-0.5 -0.4-0.3 -0.6-0.6 -0.3-0.3 -0.6-0.6 -0.3-0.4 -0.5-0.5 -0.4-0.5 -0.3-0.4 -0.5-0.6 -0.4-0.6 -0.3-0.4 -0.3-0.5 -0.4-0.6 -0.4-0.6 -0.3-0.6 -0.3-0.6 -0.3-0.6 -0.2-0.6 -0.2-0.6 -0.3-0.9 -0.2-0.6 -0.1-0.6 -0.1-0.9 -0.1-0.9 -0.1-0.9 0.1-0.9 0-0.9 0.2-0.9 0.1-0.6 0.2-0.6 0.3-0.8 0.3-0.6 0.3-0.6 0.3-0.5 0.3-0.5 0.5-0.6 0.4-0.4 0.5-0.5 0.4-0.3 0.6-0.5 0.6-0.3 0.6-0.3 0.6-0.2 0.6-0.2 0.9-0.2 0.9 0 0.9 0.1 0.8 0.1 0.7 0.2 0.6 0.2 0.6 0.3 0.6 0.4 0.6 0.4 0.4 0.3 0.5 0.5 0.4 0.4 0.5 0.6 0.3 0.5 0.3 0.4 0.3 0.6 0.3 0.6 0.3 0.6 0.3 0.7 0.2 0.8 0.2 0.6 0.2 0.9 0.1 0.6 0.1 0.9 0.1 0.9 0 0.6 0 0.9 0 0.9 0 0.6 -0.1 0.9 -0.1 0.9 -0.1 0.8 -0.1 0.7 -0.2 0.9 -0.1 0.6 -0.2 0.9 -0.1 0.6 -0.2 0.7 -0.2 0.8 -0.2 0.6 -0.2 0.6 -0.3 0.7 -0.3 0.6 -0.3 0.5 -0.4 0.6 -0.5 0.5 -0.6 0.4 -0.6 0.3z M1546.2 1257.5l-0.9 0.1 -0.7-0.1 -0.8-0.2 -0.6-0.3 -0.6-0.3 -0.5-0.4 -0.4-0.3 -0.6-0.5 -0.4-0.4 -0.5-0.5 -0.3-0.4 -0.5-0.6 -0.4-0.4 -0.4-0.5 -0.4-0.6 -0.4-0.5 -0.3-0.4 -0.5-0.6 -0.4-0.6 -0.3-0.4 -0.3-0.5 -0.5-0.6 -0.3-0.6 -0.4-0.6 -0.3-0.4 -0.3-0.6 -0.3-0.5 -0.3-0.6 -0.3-0.6 -0.3-0.6 -0.3-0.7 -0.3-0.8 -0.2-0.6 -0.2-0.6 -0.2-0.7 -0.2-0.8 -0.1-0.8 -0.1-0.7 -0.1-0.9 0-0.9 0.1-0.9 0.1-0.9 0.1-0.6 0.2-0.9 0.1-0.6 0.2-0.6 0.3-0.7 0.3-0.6 0.3-0.6 0.3-0.5 0.4-0.6 0.5-0.6 0.3-0.3 0.6-0.6 0.3-0.3 0.6-0.5 0.6-0.3 0.6-0.4 0.6-0.3 0.6-0.2 0.6-0.2 0.9-0.1 0.8-0.1 0.7 0 0.6 0 0.9 0.2 0.6 0.2 0.7 0.2 0.7 0.3 0.5 0.3 0.5 0.3 0.6 0.4 0.6 0.5 0.3 0.3 0.6 0.6 0.3 0.4 0.4 0.5 0.4 0.6 0.4 0.6 0.3 0.6 0.3 0.6 0.2 0.6 0.2 0.6 0.2 0.6 0.3 0.9 0.1 0.6 0.2 0.9 0.1 0.6 0.1 0.9 0.1 0.9 0 0.6 0 0.9 0 0.9 0 0.9 0 0.6 -0.1 0.9 0 0.9 -0.1 0.9 -0.1 0.9 0 0.6 -0.1 0.9 -0.1 0.9 -0.1 0.7 -0.1 0.8 -0.1 0.9 -0.1 0.6 -0.2 0.9 -0.2 0.6 -0.2 0.7 -0.3 0.8 -0.3 0.6 -0.3 0.5 -0.3 0.4 -0.5 0.6 -0.4 0.4 -0.6 0.4 -0.6 0.2 -0.6 0.2z M1547.4 1260.5l-0.9 0.2 -0.9 0.1 -0.9-0.1 -0.6-0.2 -0.9-0.3 -0.6-0.3 -0.5-0.3 -0.4-0.3 -0.6-0.5 -0.4-0.4 -0.5-0.5 -0.4-0.4 -0.5-0.6 -0.3-0.4 -0.4-0.5 -0.4-0.6 -0.4-0.6 -0.3-0.5 -0.3-0.5 -0.3-0.5 -0.4-0.6 -0.4-0.6 -0.4-0.6 -0.3-0.6 -0.3-0.4 -0.3-0.5 -0.3-0.6 -0.4-0.6 -0.3-0.6 -0.4-0.6 -0.3-0.6 -0.3-0.6 -0.3-0.6 -0.3-0.6 -0.2-0.6 -0.3-0.6 -0.2-0.6 -0.3-0.9 -0.2-0.6 -0.2-0.6 -0.2-0.9 -0.1-0.6 -0.1-0.9 -0.1-0.6 -0.1-0.9 0-0.9 0.1-0.9 0-0.6 0.1-0.9 0.2-0.8 0.2-0.7 0.1-0.6 0.3-0.7 0.3-0.8 0.3-0.6 0.3-0.5 0.3-0.5 0.3-0.5 0.5-0.6 0.4-0.5 0.4-0.4 0.5-0.5 0.4-0.4 0.5-0.3 0.6-0.4 0.6-0.4 0.6-0.3 0.6-0.2 0.6-0.2 0.9-0.2 0.6-0.1 0.9-0.1 0.9 0 0.7 0.1 0.8 0.2 0.6 0.1 0.8 0.3 0.7 0.3 0.5 0.3 0.5 0.3 0.5 0.3 0.6 0.5 0.5 0.4 0.4 0.4 0.5 0.5 0.4 0.5 0.3 0.4 0.4 0.6 0.4 0.6 0.3 0.6 0.3 0.6 0.3 0.6 0.2 0.6 0.2 0.6 0.3 0.8 0.2 0.7 0.1 0.6 0.2 0.9 0.1 0.6 0.1 0.9 0.1 0.9 0.1 0.8 0 0.7 0.1 0.9 0 0.9 0 0.9 0 0.9 0 0.9 0 0.9 0 0.9 0 0.9 0 0.9 -0.1 0.9 0 0.9 0 0.7 0 0.8 -0.1 0.9 -0.1 0.9 -0.1 0.7 -0.2 0.8 -0.1 0.6 -0.3 0.9 -0.2 0.6 -0.3 0.6 -0.3 0.6 -0.4 0.6 -0.3 0.4 -0.5 0.5 -0.4 0.4 -0.6 0.4 -0.6 0.4 -0.6 0.2z M1547.1 1263.3l-0.9 0 -0.9 0 -0.9-0.1 -0.6-0.2 -0.6-0.1 -0.6-0.3 -0.6-0.3 -0.6-0.4 -0.6-0.4 -0.5-0.4 -0.4-0.4 -0.5-0.5 -0.4-0.4 -0.4-0.5 -0.4-0.6 -0.4-0.5 -0.3-0.5 -0.3-0.5 -0.4-0.6 -0.3-0.6 -0.4-0.6 -0.3-0.6 -0.3-0.6 -0.3-0.6 -0.4-0.6 -0.3-0.6 -0.3-0.6 -0.3-0.5 -0.3-0.6 -0.3-0.6 -0.3-0.6 -0.3-0.5 -0.3-0.6 -0.3-0.6 -0.3-0.7 -0.3-0.6 -0.3-0.7 -0.3-0.6 -0.2-0.6 -0.2-0.6 -0.2-0.6 -0.3-0.9 -0.2-0.6 -0.1-0.6 -0.2-0.9 -0.1-0.6 -0.1-0.9 -0.1-0.9 -0.1-0.9 0-0.9 0.1-0.9 0.1-0.9 0.1-0.8 0.1-0.7 0.2-0.7 0.3-0.8 0.2-0.6 0.2-0.6 0.3-0.6 0.3-0.6 0.3-0.6 0.4-0.6 0.4-0.6 0.3-0.4 0.5-0.5 0.4-0.5 0.5-0.4 0.4-0.4 0.6-0.4 0.5-0.4 0.5-0.3 0.6-0.3 0.7-0.3 0.7-0.3 0.6-0.1 0.7-0.2 0.8-0.1 0.9-0.1 0.9 0 0.9 0.1 0.6 0.1 0.9 0.3 0.6 0.2 0.6 0.2 0.6 0.3 0.6 0.3 0.6 0.4 0.5 0.4 0.4 0.3 0.6 0.5 0.4 0.4 0.5 0.5 0.3 0.4 0.5 0.6 0.4 0.6 0.3 0.5 0.3 0.5 0.3 0.5 0.3 0.6 0.3 0.7 0.3 0.7 0.2 0.7 0.2 0.6 0.2 0.6 0.2 0.9 0.2 0.6 0.1 0.9 0.1 0.6 0.2 0.9 0.1 0.9 0 0.6 0.1 0.9 0.1 0.9 0 0.9 0.1 0.9 0 0.9 0 0.6 0.1 0.9 0 0.9 0.1 0.9 0 0.9 0.1 0.9 0 0.9 0 0.6 0 0.9 0 0.9 0 0.8 0 0.7 -0.1 0.9 -0.2 0.9 -0.1 0.6 -0.2 0.8 -0.2 0.7 -0.3 0.6 -0.3 0.6 -0.3 0.6 -0.3 0.6 -0.4 0.5 -0.3 0.4 -0.6 0.6 -0.3 0.3 -0.6 0.5 -0.6 0.4 -0.6 0.3 -0.6 0.2 -0.6 0.2 -0.6 0.2z M1546.5 1265.6l-0.9 0 -0.6 0 -0.9-0.2 -0.6-0.1 -0.8-0.3 -0.7-0.3 -0.6-0.3 -0.5-0.3 -0.5-0.3 -0.5-0.4 -0.6-0.5 -0.3-0.3 -0.6-0.6 -0.3-0.3 -0.5-0.6 -0.4-0.6 -0.3-0.4 -0.3-0.5 -0.4-0.6 -0.4-0.6 -0.3-0.6 -0.3-0.6 -0.3-0.6 -0.3-0.6 -0.3-0.6 -0.3-0.6 -0.3-0.6 -0.2-0.6 -0.3-0.6 -0.3-0.6 -0.3-0.6 -0.3-0.6 -0.3-0.6 -0.2-0.6 -0.3-0.6 -0.3-0.6 -0.3-0.7 -0.3-0.6 -0.3-0.8 -0.3-0.6 -0.2-0.6 -0.2-0.6 -0.2-0.6 -0.3-0.8 -0.2-0.7 -0.2-0.6 -0.2-0.9 -0.1-0.6 -0.1-0.9 -0.1-0.6 -0.1-0.9 -0.1-0.9 0-0.9 0.1-0.9 0-0.9 0.1-0.6 0.1-0.9 0.2-0.8 0.2-0.7 0.2-0.6 0.2-0.7 0.3-0.7 0.3-0.7 0.3-0.6 0.3-0.6 0.3-0.4 0.3-0.5 0.4-0.6 0.5-0.6 0.3-0.3 0.5-0.6 0.4-0.3 0.6-0.6 0.4-0.3 0.5-0.3 0.6-0.4 0.6-0.3 0.6-0.3 0.6-0.3 0.6-0.2 0.9-0.3 0.6-0.1 0.9-0.1 0.9-0.1 0.9 0 0.9 0.1 0.9 0.2 0.6 0.1 0.6 0.2 0.7 0.3 0.7 0.3 0.6 0.3 0.5 0.3 0.5 0.3 0.6 0.5 0.5 0.4 0.4 0.3 0.6 0.6 0.3 0.3 0.5 0.6 0.4 0.5 0.3 0.4 0.4 0.6 0.4 0.6 0.3 0.6 0.3 0.6 0.3 0.6 0.3 0.6 0.2 0.6 0.2 0.6 0.3 0.8 0.2 0.7 0.2 0.6 0.2 0.9 0.1 0.6 0.2 0.9 0.1 0.6 0.1 0.9 0.1 0.6 0.1 0.9 0.1 0.9 0.1 0.9 0 0.6 0.1 0.9 0.1 0.9 0.1 0.9 0.1 0.6 0.1 0.9 0 0.9 0.1 0.6 0.1 0.9 0.1 0.9 0.1 0.9 0 0.6 0 0.9 0.1 0.9 -0.1 0.9 0 0.8 -0.1 0.7 -0.1 0.9 -0.1 0.6 -0.2 0.9 -0.2 0.6 -0.2 0.6 -0.3 0.7 -0.3 0.6 -0.3 0.6 -0.3 0.5 -0.4 0.6 -0.5 0.6 -0.3 0.3 -0.5 0.6 -0.4 0.3 -0.6 0.5 -0.6 0.4 -0.5 0.3 -0.5 0.3 -0.7 0.3 -0.7 0.2 -0.6 0.2 -0.9 0.1 -0.6 0.1z M1548.3 1267.4l-0.9 0.2 -0.9 0.1 -0.9 0 -0.9-0.1 -0.9-0.2 -0.6-0.1 -0.6-0.2 -0.8-0.3 -0.7-0.3 -0.5-0.3 -0.5-0.3 -0.5-0.3 -0.6-0.5 -0.5-0.4 -0.4-0.3 -0.6-0.6 -0.3-0.4 -0.4-0.5 -0.5-0.6 -0.3-0.4 -0.3-0.5 -0.4-0.6 -0.4-0.6 -0.3-0.6 -0.3-0.6 -0.3-0.6 -0.3-0.6 -0.3-0.6 -0.2-0.6 -0.3-0.6 -0.3-0.6 -0.2-0.6 -0.3-0.7 -0.3-0.7 -0.3-0.7 -0.3-0.6 -0.2-0.6 -0.3-0.6 -0.2-0.6 -0.3-0.6 -0.2-0.6 -0.3-0.6 -0.3-0.8 -0.3-0.7 -0.2-0.6 -0.2-0.6 -0.2-0.6 -0.3-0.8 -0.2-0.7 -0.2-0.6 -0.2-0.9 -0.1-0.6 -0.2-0.8 -0.1-0.7 -0.1-0.9 -0.1-0.7 -0.1-0.8 0-0.9 0-0.9 0.1-0.9 0-0.6 0.2-0.9 0.1-0.8 0.2-0.7 0.1-0.6 0.3-0.9 0.2-0.6 0.2-0.6 0.3-0.6 0.3-0.6 0.3-0.6 0.3-0.6 0.4-0.6 0.4-0.6 0.3-0.4 0.4-0.5 0.5-0.5 0.3-0.4 0.6-0.5 0.4-0.4 0.5-0.4 0.6-0.4 0.6-0.4 0.5-0.3 0.6-0.3 0.7-0.3 0.6-0.2 0.6-0.2 0.6-0.2 0.9-0.2 0.8-0.1 0.7 0 0.9-0.1 0.8 0.1 0.7 0.1 0.9 0.2 0.6 0.1 0.6 0.2 0.8 0.3 0.7 0.3 0.6 0.3 0.5 0.3 0.5 0.3 0.5 0.4 0.6 0.4 0.4 0.4 0.5 0.4 0.5 0.5 0.4 0.4 0.4 0.5 0.5 0.6 0.3 0.4 0.3 0.5 0.4 0.6 0.4 0.6 0.3 0.6 0.3 0.6 0.3 0.6 0.2 0.6 0.3 0.6 0.2 0.7 0.3 0.8 0.1 0.6 0.2 0.6 0.2 0.9 0.2 0.6 0.2 0.9 0.1 0.6 0.1 0.9 0.1 0.6 0.1 0.9 0.2 0.9 0.1 0.6 0.1 0.9 0.1 0.9 0.1 0.6 0.1 0.9 0.1 0.6 0.1 0.9 0.2 0.9 0.1 0.6 0.1 0.9 0.1 0.8 0.1 0.7 0.1 0.9 0.1 0.9 0 0.6 0.1 0.9 0 0.9 -0.1 0.9 0 0.6 -0.1 0.9 -0.2 0.9 -0.1 0.6 -0.2 0.9 -0.2 0.6 -0.2 0.6 -0.3 0.6 -0.2 0.6 -0.3 0.6 -0.4 0.6 -0.4 0.6 -0.4 0.6 -0.3 0.4 -0.5 0.5 -0.4 0.5 -0.5 0.4 -0.4 0.4 -0.6 0.4 -0.5 0.4 -0.5 0.3 -0.6 0.3 -0.6 0.3 -0.8 0.3 -0.6 0.2 -0.6 0.1z M1603.2 1257.5l-0.9 0.1 -0.8-0.1 -0.7-0.3 -0.5-0.3 -0.4-0.3 -0.6-0.6 -0.3-0.4 -0.3-0.5 -0.3-0.6 -0.3-0.6 -0.3-0.8 -0.2-0.7 -0.1-0.6 -0.2-0.9 -0.1-0.9 0-0.6 0-0.9 0-0.6 0.1-0.9 0.2-0.9 0.1-0.6 0.2-0.6 0.3-0.7 0.3-0.6 0.3-0.5 0.4-0.6 0.5-0.5 0.5-0.4 0.5-0.3 0.7-0.3 0.7-0.1 0.9 0 0.6 0.2 0.6 0.2 0.6 0.5 0.5 0.4 0.4 0.5 0.3 0.5 0.3 0.5 0.3 0.7 0.3 0.8 0.1 0.6 0.2 0.9 0.1 0.6 0.1 0.9 0 0.9 0 0.9 -0.1 0.9 -0.1 0.9 -0.1 0.6 -0.2 0.8 -0.2 0.7 -0.3 0.6 -0.3 0.6 -0.3 0.6 -0.4 0.5 -0.4 0.4 -0.5 0.4 -0.6 0.3 -0.6 0.2z M1547.4 1269.5l-0.9 0.1 -0.9 0 -0.9-0.1 -0.6-0.1 -0.9-0.1 -0.6-0.2 -0.6-0.2 -0.8-0.3 -0.6-0.3 -0.6-0.3 -0.5-0.3 -0.5-0.3 -0.6-0.4 -0.6-0.5 -0.3-0.3 -0.6-0.5 -0.4-0.4 -0.5-0.6 -0.3-0.4 -0.4-0.5 -0.5-0.6 -0.3-0.5 -0.3-0.5 -0.3-0.5 -0.3-0.6 -0.4-0.6 -0.2-0.6 -0.3-0.6 -0.3-0.6 -0.3-0.7 -0.3-0.7 -0.3-0.7 -0.2-0.6 -0.2-0.6 -0.3-0.6 -0.2-0.6 -0.3-0.8 -0.3-0.7 -0.2-0.6 -0.3-0.6 -0.2-0.6 -0.2-0.6 -0.3-0.7 -0.3-0.8 -0.2-0.6 -0.2-0.6 -0.3-0.6 -0.2-0.7 -0.3-0.8 -0.2-0.6 -0.1-0.6 -0.3-0.9 -0.1-0.6 -0.2-0.8 -0.1-0.7 -0.2-0.9 -0.1-0.6 -0.1-0.9 0-0.9 -0.1-0.9 0-0.9 0.1-0.9 0-0.9 0.1-0.9 0.1-0.6 0.2-0.9 0.2-0.6 0.2-0.9 0.2-0.6 0.2-0.6 0.2-0.6 0.3-0.6 0.3-0.6 0.3-0.6 0.3-0.6 0.4-0.6 0.4-0.6 0.4-0.5 0.3-0.4 0.5-0.6 0.4-0.4 0.5-0.5 0.4-0.4 0.6-0.5 0.4-0.3 0.5-0.4 0.6-0.4 0.6-0.3 0.6-0.3 0.6-0.3 0.6-0.3 0.6-0.2 0.8-0.2 0.7-0.2 0.7-0.1 0.8-0.1 0.9 0 0.9 0 0.9 0.1 0.6 0 0.9 0.2 0.6 0.2 0.7 0.2 0.8 0.3 0.6 0.3 0.6 0.3 0.6 0.3 0.5 0.3 0.4 0.3 0.6 0.4 0.6 0.5 0.3 0.3 0.6 0.5 0.4 0.4 0.5 0.6 0.3 0.3 0.5 0.6 0.4 0.6 0.3 0.4 0.3 0.5 0.4 0.6 0.3 0.6 0.3 0.6 0.3 0.6 0.3 0.6 0.3 0.6 0.2 0.6 0.3 0.9 0.2 0.6 0.2 0.6 0.2 0.7 0.2 0.8 0.1 0.6 0.3 0.9 0.1 0.6 0.2 0.9 0.1 0.6 0.1 0.9 0.1 0.6 0.2 0.9 0.1 0.6 0.2 0.9 0.1 0.8 0.1 0.7 0.2 0.9 0.1 0.6 0.2 0.9 0.1 0.6 0.2 0.9 0.1 0.6 0.2 0.9 0 0.6 0.2 0.9 0.1 0.9 0 0.6 0.1 0.9 0 0.9 0 0.9 -0.1 0.9 0 0.6 -0.2 0.9 -0.1 0.7 -0.2 0.8 -0.2 0.6 -0.2 0.7 -0.3 0.8 -0.2 0.6 -0.3 0.6 -0.3 0.6 -0.4 0.6 -0.3 0.5 -0.3 0.5 -0.4 0.5 -0.5 0.6 -0.3 0.4 -0.5 0.5 -0.4 0.4 -0.6 0.5 -0.4 0.3 -0.5 0.4 -0.6 0.4 -0.6 0.4 -0.6 0.3 -0.6 0.3 -0.6 0.2 -0.6 0.2 -0.7 0.2 -0.8 0.2 -0.7 0.1z M1603.2 1261.1l-0.9 0.1 -0.9-0.1 -0.6-0.1 -0.6-0.2 -0.6-0.3 -0.6-0.4 -0.6-0.4 -0.4-0.4 -0.5-0.5 -0.3-0.4 -0.5-0.6 -0.4-0.6 -0.3-0.6 -0.3-0.6 -0.3-0.6 -0.2-0.6 -0.2-0.6 -0.2-0.8 -0.2-0.7 -0.1-0.7 -0.1-0.8 -0.1-0.9 -0.1-0.9 0-0.9 0.1-0.9 0-0.9 0.1-0.9 0.2-0.6 0.2-0.9 0.1-0.6 0.2-0.6 0.3-0.6 0.3-0.7 0.3-0.5 0.4-0.6 0.4-0.6 0.4-0.5 0.4-0.4 0.5-0.4 0.6-0.4 0.6-0.4 0.6-0.3 0.6-0.2 0.6-0.1 0.9-0.1 0.9 0 0.6 0.1 0.8 0.3 0.6 0.3 0.5 0.3 0.5 0.3 0.6 0.6 0.3 0.3 0.5 0.6 0.4 0.6 0.3 0.5 0.3 0.5 0.3 0.7 0.2 0.7 0.2 0.6 0.2 0.7 0.2 0.8 0.1 0.8 0.1 0.7 0.1 0.9 0 0.9 0 0.9 0 0.9 -0.1 0.9 -0.1 0.9 0 0.6 -0.2 0.9 -0.1 0.6 -0.3 0.9 -0.2 0.6 -0.2 0.6 -0.2 0.6 -0.4 0.6 -0.3 0.6 -0.5 0.6 -0.3 0.4 -0.5 0.5 -0.4 0.3 -0.6 0.5 -0.6 0.3 -0.6 0.2 -0.7 0.2z M1547.7 1271.3l-0.9 0.1 -0.9 0 -0.9 0 -0.7-0.1 -0.8-0.1 -0.8-0.2 -0.7-0.2 -0.6-0.2 -0.6-0.2 -0.6-0.3 -0.6-0.3 -0.6-0.3 -0.6-0.4 -0.6-0.4 -0.5-0.4 -0.4-0.3 -0.6-0.6 -0.4-0.3 -0.5-0.6 -0.3-0.3 -0.5-0.6 -0.4-0.5 -0.3-0.4 -0.4-0.6 -0.4-0.6 -0.3-0.6 -0.4-0.6 -0.3-0.6 -0.3-0.6 -0.3-0.6 -0.2-0.6 -0.3-0.6 -0.2-0.6 -0.3-0.6 -0.2-0.6 -0.3-0.9 -0.2-0.6 -0.2-0.6 -0.3-0.6 -0.2-0.7 -0.3-0.8 -0.2-0.6 -0.2-0.6 -0.2-0.6 -0.3-0.7 -0.3-0.8 -0.2-0.6 -0.2-0.6 -0.2-0.6 -0.3-0.9 -0.2-0.6 -0.2-0.6 -0.2-0.7 -0.2-0.8 -0.2-0.6 -0.2-0.9 -0.1-0.6 -0.2-0.8 -0.1-0.7 -0.2-0.9 0-0.6 -0.1-0.9 -0.1-0.9 0-0.9 0-0.9 0.1-0.9 0.1-0.9 0-0.6 0.2-0.9 0.1-0.7 0.2-0.8 0.1-0.6 0.3-0.9 0.2-0.6 0.2-0.6 0.3-0.6 0.3-0.6 0.3-0.6 0.3-0.6 0.3-0.6 0.4-0.6 0.4-0.6 0.3-0.4 0.4-0.5 0.5-0.6 0.3-0.3 0.6-0.6 0.3-0.3 0.6-0.5 0.4-0.4 0.5-0.3 0.6-0.5 0.6-0.3 0.6-0.4 0.6-0.3 0.6-0.3 0.6-0.2 0.6-0.2 0.6-0.2 0.9-0.2 0.6-0.1 0.9-0.1 0.9-0.1 0.9 0 0.9 0 0.9 0.1 0.6 0.2 0.9 0.2 0.6 0.1 0.6 0.2 0.7 0.3 0.6 0.3 0.6 0.3 0.6 0.3 0.5 0.3 0.6 0.4 0.6 0.4 0.5 0.4 0.4 0.4 0.6 0.5 0.3 0.3 0.6 0.6 0.3 0.4 0.4 0.5 0.5 0.6 0.3 0.4 0.4 0.5 0.3 0.6 0.4 0.6 0.3 0.6 0.4 0.6 0.3 0.6 0.2 0.6 0.3 0.6 0.2 0.6 0.3 0.6 0.2 0.6 0.3 0.9 0.2 0.6 0.1 0.6 0.3 0.9 0.2 0.6 0.1 0.6 0.2 0.9 0.2 0.6 0.2 0.9 0.1 0.6 0.2 0.9 0.1 0.6 0.2 0.8 0.1 0.7 0.2 0.7 0.2 0.8 0.1 0.6 0.3 0.9 0.1 0.6 0.2 0.8 0.2 0.7 0.1 0.6 0.2 0.9 0.1 0.6 0.2 0.9 0.1 0.9 0.1 0.6 0.1 0.9 0 0.9 0 0.9 0 0.9 -0.1 0.9 -0.1 0.8 -0.1 0.7 -0.2 0.9 -0.1 0.6 -0.2 0.6 -0.3 0.9 -0.2 0.6 -0.3 0.6 -0.2 0.6 -0.3 0.6 -0.4 0.6 -0.3 0.6 -0.4 0.6 -0.3 0.4 -0.3 0.5 -0.5 0.6 -0.4 0.5 -0.4 0.4 -0.5 0.5 -0.4 0.4 -0.5 0.4 -0.6 0.5 -0.4 0.3 -0.5 0.4 -0.6 0.3 -0.6 0.4 -0.6 0.3 -0.6 0.3 -0.6 0.2 -0.6 0.2 -0.9 0.3 -0.6 0.1 -0.9 0.2z M1602.9 1263.8l-0.9 0 -0.6 0 -0.9-0.2 -0.6-0.2 -0.7-0.2 -0.6-0.3 -0.5-0.3 -0.6-0.4 -0.6-0.4 -0.4-0.4 -0.5-0.4 -0.4-0.5 -0.5-0.6 -0.3-0.3 -0.4-0.6 -0.4-0.6 -0.3-0.6 -0.3-0.6 -0.3-0.6 -0.3-0.6 -0.2-0.6 -0.2-0.6 -0.3-0.9 -0.1-0.6 -0.2-0.8 -0.1-0.7 -0.2-0.9 0-0.6 -0.1-0.9 -0.1-0.9 0.1-0.9 0-0.9 0.1-0.8 0.1-0.7 0.2-0.9 0.1-0.6 0.2-0.6 0.3-0.8 0.3-0.7 0.2-0.6 0.4-0.6 0.3-0.6 0.3-0.4 0.3-0.5 0.5-0.6 0.4-0.4 0.4-0.5 0.5-0.4 0.6-0.5 0.4-0.3 0.5-0.3 0.6-0.3 0.6-0.3 0.8-0.3 0.7-0.2 0.6-0.1 0.9-0.1 0.9 0 0.6 0.1 0.9 0.2 0.6 0.2 0.6 0.3 0.6 0.3 0.6 0.3 0.6 0.5 0.4 0.3 0.5 0.5 0.3 0.4 0.5 0.6 0.4 0.6 0.3 0.5 0.3 0.5 0.3 0.7 0.3 0.7 0.2 0.6 0.2 0.6 0.2 0.8 0.2 0.7 0.1 0.8 0.1 0.7 0.1 0.9 0.1 0.9 0 0.6 0 0.9 0 0.9 0 0.8 0 0.7 -0.1 0.9 -0.1 0.9 -0.1 0.6 -0.2 0.9 -0.1 0.7 -0.2 0.8 -0.2 0.6 -0.2 0.6 -0.3 0.8 -0.3 0.6 -0.3 0.6 -0.3 0.5 -0.3 0.5 -0.5 0.6 -0.4 0.4 -0.5 0.5 -0.4 0.4 -0.6 0.4 -0.6 0.4 -0.6 0.3 -0.6 0.2 -0.6 0.2 -0.9 0.2z M1547.4 1273.1l-0.9 0.1 -0.9 0 -0.9-0.1 -0.6-0.1 -0.9-0.1 -0.6-0.1 -0.9-0.3 -0.6-0.2 -0.6-0.2 -0.6-0.3 -0.6-0.2 -0.6-0.4 -0.6-0.3 -0.6-0.4 -0.6-0.4 -0.4-0.3 -0.5-0.4 -0.6-0.5 -0.3-0.3 -0.6-0.6 -0.3-0.4 -0.5-0.5 -0.4-0.5 -0.3-0.4 -0.4-0.6 -0.4-0.6 -0.4-0.6 -0.3-0.6 -0.3-0.5 -0.3-0.6 -0.3-0.6 -0.3-0.7 -0.3-0.6 -0.2-0.6 -0.3-0.6 -0.2-0.6 -0.2-0.6 -0.3-0.9 -0.2-0.6 -0.2-0.6 -0.2-0.6 -0.3-0.9 -0.2-0.6 -0.2-0.6 -0.2-0.6 -0.3-0.9 -0.2-0.6 -0.2-0.6 -0.2-0.7 -0.3-0.8 -0.2-0.6 -0.2-0.6 -0.2-0.8 -0.2-0.7 -0.2-0.6 -0.2-0.7 -0.2-0.8 -0.2-0.6 -0.2-0.9 -0.1-0.6 -0.1-0.9 -0.1-0.6 -0.2-0.9 -0.1-0.9 0-0.6 -0.1-0.9 0-0.9 0-0.9 0.1-0.9 0-0.6 0.1-0.9 0.1-0.9 0.2-0.6 0.1-0.9 0.2-0.6 0.2-0.8 0.2-0.7 0.2-0.6 0.3-0.6 0.2-0.6 0.3-0.6 0.3-0.6 0.3-0.6 0.3-0.6 0.4-0.6 0.4-0.6 0.4-0.5 0.3-0.4 0.5-0.6 0.4-0.5 0.4-0.4 0.5-0.5 0.4-0.4 0.5-0.4 0.6-0.5 0.4-0.3 0.5-0.3 0.6-0.4 0.6-0.4 0.6-0.3 0.6-0.3 0.6-0.2 0.6-0.2 0.8-0.3 0.7-0.2 0.6-0.1 0.9-0.2 0.9-0.1 0.9 0 0.9 0 0.9 0.1 0.9 0.1 0.6 0.1 0.9 0.2 0.6 0.2 0.6 0.2 0.8 0.3 0.6 0.3 0.6 0.3 0.6 0.3 0.5 0.3 0.5 0.3 0.6 0.4 0.6 0.5 0.4 0.3 0.5 0.4 0.5 0.5 0.4 0.4 0.5 0.5 0.4 0.5 0.4 0.4 0.4 0.6 0.4 0.5 0.3 0.4 0.4 0.6 0.4 0.6 0.3 0.6 0.3 0.6 0.4 0.6 0.3 0.6 0.2 0.6 0.3 0.6 0.2 0.6 0.3 0.6 0.2 0.6 0.3 0.8 0.2 0.7 0.2 0.6 0.2 0.6 0.3 0.9 0.1 0.6 0.2 0.6 0.3 0.9 0.1 0.6 0.2 0.7 0.2 0.8 0.2 0.6 0.2 0.7 0.2 0.8 0.2 0.6 0.2 0.7 0.3 0.8 0.1 0.6 0.2 0.6 0.3 0.9 0.2 0.6 0.2 0.6 0.2 0.9 0.2 0.6 0.1 0.6 0.2 0.9 0.1 0.6 0.1 0.9 0.1 0.9 0.1 0.9 0 0.9 -0.1 0.9 0 0.9 -0.2 0.9 -0.1 0.6 -0.2 0.9 -0.1 0.6 -0.2 0.7 -0.3 0.8 -0.2 0.6 -0.2 0.6 -0.3 0.6 -0.2 0.6 -0.3 0.6 -0.4 0.6 -0.3 0.6 -0.4 0.6 -0.4 0.6 -0.3 0.5 -0.3 0.4 -0.5 0.6 -0.4 0.5 -0.3 0.4 -0.6 0.6 -0.3 0.3 -0.6 0.5 -0.4 0.4 -0.5 0.4 -0.6 0.4 -0.5 0.4 -0.5 0.3 -0.5 0.3 -0.6 0.3 -0.6 0.3 -0.6 0.3 -0.7 0.3 -0.8 0.3 -0.6 0.1 -0.7 0.2 -0.8 0.2 -0.9 0.1z M1603.8 1265.9l-0.9 0.1 -0.9 0.1 -0.9-0.1 -0.7-0.1 -0.8-0.2 -0.6-0.2 -0.6-0.2 -0.7-0.3 -0.6-0.3 -0.5-0.3 -0.6-0.4 -0.6-0.5 -0.4-0.3 -0.5-0.4 -0.5-0.5 -0.4-0.4 -0.4-0.5 -0.5-0.6 -0.3-0.3 -0.4-0.6 -0.4-0.6 -0.4-0.6 -0.3-0.5 -0.3-0.5 -0.3-0.5 -0.3-0.6 -0.3-0.6 -0.3-0.6 -0.3-0.7 -0.3-0.8 -0.2-0.6 -0.2-0.6 -0.2-0.6 -0.3-0.9 -0.1-0.6 -0.2-0.9 -0.1-0.6 0-0.9 -0.1-0.9 0.1-0.9 0.1-0.7 0.1-0.8 0.2-0.6 0.3-0.9 0.2-0.6 0.3-0.6 0.2-0.6 0.3-0.6 0.4-0.6 0.4-0.6 0.3-0.5 0.3-0.5 0.4-0.5 0.5-0.6 0.3-0.4 0.5-0.5 0.4-0.4 0.5-0.5 0.4-0.3 0.6-0.5 0.5-0.4 0.5-0.3 0.5-0.3 0.6-0.4 0.6-0.3 0.6-0.2 0.7-0.3 0.8-0.2 0.6-0.2 0.9-0.1 0.9-0.1 0.9 0 0.9 0.1 0.9 0.2 0.6 0.2 0.6 0.2 0.6 0.2 0.6 0.3 0.6 0.4 0.6 0.4 0.5 0.4 0.4 0.4 0.5 0.5 0.4 0.4 0.4 0.5 0.4 0.6 0.4 0.5 0.3 0.6 0.3 0.5 0.3 0.7 0.3 0.7 0.2 0.6 0.2 0.6 0.2 0.7 0.2 0.8 0.1 0.6 0.2 0.9 0.1 0.9 0.1 0.6 0 0.9 0.1 0.9 0 0.9 0 0.9 0 0.9 0 0.9 -0.1 0.9 -0.1 0.9 -0.1 0.6 -0.1 0.9 -0.1 0.6 -0.2 0.9 -0.1 0.6 -0.3 0.9 -0.2 0.6 -0.2 0.6 -0.3 0.6 -0.3 0.6 -0.3 0.6 -0.3 0.6 -0.4 0.6 -0.4 0.5 -0.3 0.4 -0.6 0.6 -0.3 0.3 -0.6 0.5 -0.5 0.4 -0.5 0.3 -0.5 0.3 -0.6 0.3 -0.8 0.3 -0.7 0.2 -0.6 0.1z M1548.9 1274.6l-0.9 0.2 -0.9 0 -0.9 0.1 -0.9 0 -0.9-0.1 -0.9-0.1 -0.6-0.1 -0.9-0.2 -0.6-0.2 -0.6-0.2 -0.8-0.3 -0.7-0.3 -0.6-0.3 -0.6-0.3 -0.5-0.3 -0.5-0.3 -0.5-0.3 -0.6-0.4 -0.6-0.5 -0.4-0.3 -0.5-0.5 -0.4-0.4 -0.5-0.5 -0.4-0.4 -0.5-0.6 -0.3-0.3 -0.4-0.6 -0.5-0.6 -0.3-0.5 -0.3-0.5 -0.3-0.5 -0.4-0.6 -0.3-0.6 -0.3-0.6 -0.3-0.6 -0.2-0.6 -0.3-0.6 -0.3-0.8 -0.3-0.7 -0.2-0.6 -0.2-0.6 -0.2-0.6 -0.3-0.9 -0.2-0.6 -0.1-0.6 -0.3-0.8 -0.2-0.7 -0.2-0.6 -0.2-0.7 -0.2-0.8 -0.2-0.6 -0.2-0.6 -0.3-0.9 -0.2-0.6 -0.1-0.6 -0.3-0.8 -0.2-0.7 -0.2-0.6 -0.2-0.8 -0.2-0.7 -0.1-0.6 -0.2-0.9 -0.2-0.6 -0.2-0.9 -0.1-0.6 -0.1-0.9 -0.1-0.6 -0.1-0.9 -0.1-0.9 0-0.9 -0.1-0.9 0-0.9 0.1-0.9 0-0.9 0.1-0.9 0.1-0.7 0.1-0.8 0.2-0.9 0.1-0.6 0.2-0.6 0.3-0.9 0.2-0.6 0.2-0.6 0.2-0.6 0.3-0.7 0.3-0.7 0.3-0.6 0.3-0.5 0.3-0.6 0.3-0.5 0.4-0.6 0.4-0.6 0.4-0.5 0.3-0.4 0.5-0.6 0.4-0.4 0.5-0.5 0.4-0.4 0.6-0.5 0.3-0.3 0.6-0.5 0.6-0.4 0.4-0.3 0.5-0.3 0.6-0.3 0.6-0.4 0.6-0.3 0.6-0.2 0.7-0.3 0.8-0.3 0.6-0.1 0.7-0.2 0.8-0.2 0.9-0.1 0.6 0 0.9-0.1 0.9 0 0.8 0.1 0.7 0.1 0.9 0.1 0.6 0.1 0.9 0.3 0.6 0.2 0.6 0.2 0.6 0.2 0.6 0.3 0.6 0.3 0.6 0.3 0.6 0.4 0.6 0.3 0.6 0.5 0.5 0.3 0.4 0.3 0.6 0.5 0.4 0.4 0.5 0.5 0.4 0.4 0.5 0.5 0.3 0.4 0.5 0.6 0.4 0.5 0.3 0.4 0.4 0.6 0.4 0.6 0.4 0.6 0.3 0.5 0.3 0.5 0.3 0.5 0.3 0.6 0.3 0.6 0.3 0.6 0.3 0.7 0.3 0.7 0.3 0.7 0.2 0.6 0.3 0.6 0.2 0.6 0.2 0.6 0.3 0.8 0.2 0.7 0.2 0.6 0.3 0.6 0.2 0.7 0.3 0.8 0.2 0.6 0.2 0.6 0.3 0.6 0.2 0.6 0.3 0.8 0.3 0.7 0.3 0.6 0.2 0.6 0.3 0.6 0.3 0.6 0.3 0.6 0.3 0.6 0.2 0.6 0.3 0.6 0.2 0.6 0.3 0.7 0.3 0.8 0.2 0.6 0.1 0.6 0.2 0.9 0.1 0.9 0 0.6 0 0.9 0 0.6 -0.1 0.9 -0.2 0.9 -0.1 0.6 -0.2 0.9 -0.2 0.6 -0.1 0.6 -0.3 0.8 -0.2 0.7 -0.3 0.6 -0.2 0.6 -0.3 0.6 -0.3 0.6 -0.2 0.6 -0.4 0.6 -0.3 0.6 -0.3 0.6 -0.4 0.6 -0.3 0.6 -0.4 0.5 -0.3 0.5 -0.4 0.5 -0.4 0.6 -0.4 0.4 -0.4 0.5 -0.5 0.6 -0.3 0.3 -0.6 0.6 -0.3 0.3 -0.6 0.6 -0.4 0.3 -0.5 0.4 -0.6 0.5 -0.5 0.3 -0.4 0.3 -0.6 0.4 -0.6 0.3 -0.6 0.3 -0.6 0.3 -0.6 0.3 -0.6 0.2 -0.7 0.3 -0.8 0.2 -0.6 0.2 -0.9 0.2z M1603.5 1268.0l-0.9 0.1 -0.9 0 -0.9-0.1 -0.6 0 -0.9-0.2 -0.6-0.2 -0.7-0.2 -0.8-0.3 -0.6-0.3 -0.6-0.3 -0.6-0.3 -0.5-0.3 -0.5-0.3 -0.5-0.4 -0.6-0.4 -0.5-0.4 -0.4-0.3 -0.6-0.6 -0.4-0.3 -0.5-0.5 -0.4-0.4 -0.5-0.5 -0.4-0.4 -0.5-0.5 -0.4-0.4 -0.5-0.5 -0.4-0.4 -0.5-0.6 -0.3-0.3 -0.6-0.6 -0.4-0.3 -0.5-0.5 -0.5-0.4 -0.4-0.4 -0.6-0.5 -0.4-0.3 -0.5-0.4 -0.6-0.4 -0.5-0.4 -0.4-0.3 -0.6-0.5 -0.5-0.4 -0.4-0.4 -0.5-0.5 -0.4-0.4 -0.4-0.5 -0.5-0.6 -0.3-0.5 -0.3-0.6 -0.3-0.7 -0.1-0.6 -0.1-0.9 0-0.9 0.1-0.9 0.2-0.6 0.2-0.6 0.3-0.6 0.3-0.6 0.5-0.6 0.4-0.6 0.3-0.3 0.6-0.6 0.4-0.3 0.5-0.4 0.6-0.5 0.4-0.3 0.5-0.3 0.6-0.4 0.6-0.4 0.6-0.4 0.5-0.3 0.5-0.3 0.5-0.3 0.6-0.4 0.6-0.4 0.6-0.4 0.4-0.3 0.5-0.3 0.6-0.5 0.6-0.4 0.5-0.3 0.4-0.3 0.6-0.4 0.6-0.4 0.6-0.3 0.6-0.4 0.6-0.3 0.6-0.3 0.6-0.3 0.6-0.3 0.6-0.2 0.6-0.2 0.6-0.2 0.9-0.3 0.6-0.1 0.9-0.1 0.7-0.1 0.8 0 0.9 0 0.6 0 0.9 0.2 0.7 0.1 0.8 0.2 0.6 0.2 0.6 0.3 0.6 0.3 0.6 0.3 0.6 0.4 0.6 0.4 0.4 0.3 0.5 0.4 0.5 0.5 0.4 0.4 0.4 0.5 0.5 0.6 0.3 0.5 0.3 0.4 0.3 0.6 0.4 0.6 0.3 0.6 0.2 0.6 0.3 0.7 0.3 0.8 0.2 0.6 0.1 0.6 0.2 0.9 0.1 0.6 0.2 0.9 0.1 0.7 0.1 0.8 0.1 0.9 0 0.9 0.1 0.9 0 0.9 0 0.9 0 0.9 -0.1 0.9 0 0.9 -0.1 0.9 -0.1 0.6 -0.1 0.9 -0.2 0.9 -0.1 0.6 -0.2 0.8 -0.2 0.7 -0.2 0.6 -0.2 0.7 -0.3 0.8 -0.3 0.6 -0.3 0.6 -0.3 0.6 -0.3 0.5 -0.3 0.5 -0.3 0.5 -0.5 0.6 -0.4 0.5 -0.4 0.4 -0.5 0.5 -0.5 0.4 -0.4 0.3 -0.6 0.4 -0.6 0.4 -0.6 0.3 -0.6 0.3 -0.6 0.2 -0.6 0.2 -0.9 0.2 -0.6 0.1z M1548.3 1276.4l-0.9 0.1 -0.9 0 -0.9 0 -0.9 0 -0.8-0.1 -0.7-0.1 -0.9-0.2 -0.6-0.1 -0.6-0.2 -0.9-0.3 -0.6-0.2 -0.6-0.2 -0.6-0.3 -0.6-0.3 -0.6-0.3 -0.6-0.4 -0.6-0.4 -0.5-0.3 -0.4-0.3 -0.6-0.5 -0.5-0.4 -0.4-0.4 -0.6-0.5 -0.3-0.3 -0.5-0.6 -0.4-0.4 -0.4-0.5 -0.4-0.6 -0.4-0.5 -0.3-0.4 -0.4-0.6 -0.4-0.6 -0.3-0.6 -0.3-0.6 -0.3-0.6 -0.3-0.6 -0.3-0.6 -0.3-0.6 -0.2-0.6 -0.2-0.6 -0.3-0.7 -0.3-0.8 -0.2-0.6 -0.2-0.6 -0.2-0.8 -0.2-0.7 -0.2-0.6 -0.2-0.8 -0.2-0.7 -0.2-0.6 -0.2-0.8 -0.2-0.7 -0.2-0.6 -0.2-0.8 -0.2-0.7 -0.2-0.6 -0.2-0.8 -0.2-0.7 -0.2-0.6 -0.2-0.9 -0.2-0.6 -0.1-0.6 -0.2-0.9 -0.2-0.6 -0.2-0.9 -0.1-0.6 -0.2-0.9 -0.1-0.6 -0.1-0.9 -0.1-0.9 -0.1-0.6 0-0.9 -0.1-0.9 0-0.9 0-0.9 0.1-0.9 0-0.9 0.1-0.6 0.1-0.9 0.2-0.9 0.1-0.6 0.2-0.9 0.1-0.6 0.2-0.6 0.3-0.9 0.2-0.6 0.2-0.6 0.2-0.6 0.3-0.6 0.3-0.6 0.3-0.6 0.3-0.6 0.4-0.6 0.3-0.6 0.4-0.6 0.4-0.5 0.3-0.4 0.5-0.6 0.4-0.5 0.3-0.4 0.6-0.6 0.3-0.3 0.6-0.5 0.4-0.4 0.5-0.4 0.6-0.5 0.5-0.3 0.4-0.3 0.6-0.4 0.6-0.3 0.6-0.3 0.6-0.3 0.6-0.2 0.7-0.3 0.8-0.3 0.6-0.2 0.6-0.1 0.9-0.2 0.7-0.1 0.8-0.1 0.9 0 0.9 0 0.9 0 0.9 0.1 0.6 0.1 0.9 0.1 0.6 0.2 0.7 0.2 0.8 0.2 0.6 0.3 0.6 0.2 0.6 0.3 0.6 0.3 0.6 0.3 0.6 0.4 0.6 0.4 0.5 0.3 0.4 0.3 0.6 0.4 0.5 0.5 0.4 0.3 0.6 0.6 0.3 0.3 0.6 0.6 0.3 0.3 0.5 0.6 0.4 0.4 0.4 0.5 0.4 0.6 0.4 0.5 0.3 0.5 0.4 0.5 0.3 0.6 0.4 0.6 0.3 0.6 0.4 0.6 0.3 0.6 0.3 0.6 0.3 0.6 0.3 0.6 0.3 0.6 0.3 0.6 0.2 0.6 0.3 0.6 0.3 0.6 0.3 0.6 0.2 0.6 0.3 0.6 0.3 0.6 0.3 0.6 0.4 0.6 0.3 0.6 0.4 0.6 0.3 0.5 0.3 0.4 0.5 0.6 0.4 0.5 0.5 0.4 0.4 0.3 0.6 0.4 0.7 0.2 0.8 0 0.6-0.1 0.6-0.2 0.6-0.3 0.6-0.4 0.6-0.4 0.5-0.4 0.4-0.3 0.6-0.5 0.6-0.4 0.4-0.3 0.5-0.4 0.6-0.4 0.6-0.4 0.6-0.3 0.5-0.3 0.6-0.3 0.6-0.3 0.7-0.3 0.6-0.2 0.6-0.3 0.6-0.2 0.8-0.2 0.7-0.2 0.6-0.2 0.9-0.2 0.6-0.2 0.6-0.1 0.9-0.2 0.6-0.2 0.7-0.2 0.8-0.2 0.6-0.2 0.6-0.2 0.8-0.3 0.7-0.2 0.6-0.2 0.6-0.2 0.8-0.3 0.7-0.2 0.6-0.2 0.6-0.2 0.9-0.2 0.6-0.2 0.9-0.2 0.6-0.1 0.9-0.1 0.9-0.1 0.6 0 0.9 0 0.6 0 0.9 0.1 0.9 0.1 0.6 0.2 0.9 0.2 0.6 0.2 0.6 0.2 0.6 0.3 0.6 0.3 0.6 0.3 0.6 0.4 0.6 0.4 0.4 0.3 0.5 0.4 0.5 0.5 0.4 0.4 0.5 0.5 0.4 0.5 0.4 0.4 0.4 0.6 0.4 0.6 0.3 0.5 0.3 0.6 0.3 0.5 0.3 0.7 0.3 0.7 0.2 0.6 0.2 0.6 0.2 0.6 0.3 0.9 0.1 0.6 0.2 0.9 0.1 0.6 0.1 0.9 0.1 0.6 0.1 0.9 0.1 0.9 0 0.9 0.1 0.9 0 0.9 0 0.9 0 0.9 -0.1 0.9 0 0.9 -0.1 0.9 -0.1 0.7 -0.1 0.8 -0.1 0.9 -0.1 0.6 -0.2 0.9 -0.2 0.6 -0.2 0.8 -0.2 0.7 -0.2 0.6 -0.2 0.6 -0.3 0.6 -0.3 0.7 -0.3 0.6 -0.3 0.5 -0.4 0.6 -0.4 0.6 -0.4 0.6 -0.3 0.4 -0.4 0.5 -0.5 0.5 -0.4 0.4 -0.5 0.4 -0.6 0.5 -0.4 0.3 -0.5 0.3 -0.6 0.4 -0.6 0.3 -0.6 0.3 -0.6 0.2 -0.8 0.3 -0.7 0.2 -0.6 0.1 -0.9 0.1 -0.9 0.1 -0.9 0 -0.9 0 -0.9-0.2 -0.6-0.1 -0.9-0.2 -0.6-0.1 -0.6-0.2 -0.7-0.3 -0.8-0.3 -0.6-0.3 -0.6-0.3 -0.6-0.3 -0.5-0.3 -0.6-0.3 -0.5-0.3 -0.5-0.3 -0.6-0.4 -0.6-0.4 -0.6-0.4 -0.5-0.3 -0.5-0.3 -0.5-0.3 -0.6-0.4 -0.6-0.3 -0.6-0.4 -0.6-0.3 -0.6-0.3 -0.6-0.2 -0.6-0.3 -0.6-0.2 -0.7-0.3 -0.8-0.3 -0.6-0.2 -0.6-0.2 -0.6-0.2 -0.7-0.3 -0.8-0.3 -0.6-0.3 -0.6-0.2 -0.6-0.2 -0.6-0.3 -0.6-0.2 -0.7-0.3 -0.8-0.3 -0.6-0.1 -0.9-0.2 -0.9 0.1 -0.7 0.2 -0.6 0.3 -0.5 0.3 -0.6 0.5 -0.4 0.4 -0.5 0.6 -0.3 0.4 -0.4 0.5 -0.5 0.6 -0.3 0.4 -0.3 0.5 -0.5 0.6 -0.4 0.6 -0.3 0.4 -0.4 0.5 -0.4 0.6 -0.4 0.5 -0.3 0.4 -0.5 0.6 -0.4 0.5 -0.3 0.4 -0.6 0.6 -0.3 0.4 -0.5 0.5 -0.4 0.4 -0.5 0.5 -0.4 0.3 -0.6 0.6 -0.4 0.3 -0.5 0.4 -0.6 0.5 -0.5 0.3 -0.4 0.3 -0.6 0.4 -0.6 0.3 -0.6 0.4 -0.6 0.3 -0.6 0.3 -0.6 0.2 -0.6 0.3 -0.6 0.2 -0.9 0.3 -0.6 0.2 -0.6 0.1 -0.9 0.2 -0.8 0.1z M1549.2 1277.9l-0.9 0.2 -0.9 0 -0.9 0.1 -0.9 0 -0.9-0.1 -0.9-0.1 -0.8-0.1 -0.7-0.1 -0.8-0.2 -0.7-0.2 -0.6-0.2 -0.6-0.2 -0.8-0.3 -0.7-0.3 -0.6-0.3 -0.6-0.3 -0.5-0.3 -0.5-0.3 -0.5-0.3 -0.6-0.4 -0.6-0.4 -0.5-0.4 -0.4-0.4 -0.6-0.5 -0.3-0.3 -0.6-0.6 -0.3-0.3 -0.6-0.6 -0.3-0.4 -0.4-0.5 -0.5-0.6 -0.3-0.5 -0.3-0.4 -0.4-0.6 -0.3-0.6 -0.4-0.6 -0.3-0.6 -0.3-0.6 -0.3-0.6 -0.3-0.6 -0.2-0.6 -0.3-0.6 -0.2-0.6 -0.3-0.8 -0.3-0.7 -0.1-0.6 -0.2-0.6 -0.3-0.9 -0.2-0.6 -0.1-0.6 -0.3-0.9 -0.1-0.6 -0.2-0.6 -0.2-0.9 -0.2-0.6 -0.2-0.8 -0.2-0.7 -0.1-0.6 -0.3-0.9 -0.1-0.6 -0.2-0.6 -0.2-0.9 -0.2-0.6 -0.2-0.9 -0.2-0.6 -0.1-0.6 -0.2-0.9 -0.1-0.6 -0.2-0.9 -0.1-0.6 -0.2-0.9 -0.1-0.7 -0.1-0.8 -0.1-0.9 -0.1-0.9 0-0.6 -0.1-0.9 0-0.9 0-0.9 0.1-0.9 0-0.6 0.1-0.9 0.1-0.9 0.1-0.7 0.1-0.8 0.2-0.7 0.2-0.8 0.1-0.6 0.3-0.9 0.2-0.6 0.2-0.6 0.2-0.6 0.3-0.7 0.3-0.6 0.3-0.7 0.3-0.6 0.3-0.5 0.3-0.5 0.3-0.6 0.4-0.6 0.5-0.6 0.3-0.5 0.3-0.4 0.5-0.6 0.4-0.4 0.4-0.5 0.5-0.5 0.4-0.4 0.5-0.4 0.6-0.5 0.3-0.3 0.6-0.4 0.6-0.5 0.5-0.3 0.5-0.3 0.6-0.3 0.5-0.3 0.6-0.3 0.7-0.3 0.8-0.3 0.6-0.2 0.6-0.2 0.8-0.2 0.7-0.2 0.7-0.1 0.8-0.1 0.9-0.1 0.9 0 0.9 0 0.9 0 0.9 0.1 0.6 0.1 0.9 0.2 0.6 0.2 0.8 0.2 0.7 0.2 0.6 0.2 0.6 0.3 0.6 0.2 0.6 0.3 0.6 0.4 0.6 0.3 0.6 0.4 0.6 0.4 0.5 0.3 0.4 0.3 0.6 0.5 0.5 0.4 0.4 0.4 0.6 0.5 0.3 0.3 0.6 0.6 0.3 0.3 0.5 0.6 0.4 0.5 0.4 0.4 0.4 0.6 0.4 0.5 0.3 0.4 0.4 0.6 0.4 0.6 0.4 0.5 0.3 0.5 0.3 0.5 0.4 0.6 0.4 0.6 0.3 0.6 0.4 0.6 0.3 0.6 0.3 0.5 0.3 0.4 0.4 0.6 0.4 0.6 0.4 0.6 0.3 0.4 0.4 0.5 0.5 0.5 0.4 0.4 0.5 0.3 0.6 0.3 0.9 0.3 0.9-0.1 0.9-0.2 0.6-0.2 0.6-0.3 0.6-0.3 0.6-0.3 0.6-0.4 0.6-0.3 0.6-0.3 0.5-0.3 0.6-0.3 0.6-0.3 0.7-0.3 0.6-0.3 0.6-0.2 0.6-0.2 0.6-0.3 0.8-0.2 0.7-0.2 0.6-0.1 0.9-0.2 0.6-0.2 0.9-0.1 0.6-0.1 0.9-0.1 0.9-0.1 0.6-0.1 0.9-0.1 0.9-0.1 0.9-0.1 0.6-0.1 0.9-0.1 0.9-0.1 0.6-0.1 0.9-0.1 0.6-0.1 0.9-0.1 0.9-0.2 0.6 0 0.9-0.2 0.9 0 0.9-0.1 0.6 0 0.9 0 0.9 0 0.6 0 0.9 0.1 0.9 0.1 0.6 0.1 0.9 0.2 0.6 0.2 0.6 0.2 0.8 0.3 0.7 0.3 0.6 0.3 0.6 0.3 0.5 0.3 0.5 0.3 0.5 0.4 0.6 0.4 0.5 0.4 0.4 0.4 0.5 0.5 0.4 0.4 0.5 0.5 0.4 0.5 0.3 0.4 0.4 0.6 0.4 0.6 0.4 0.6 0.3 0.5 0.3 0.6 0.3 0.6 0.3 0.7 0.2 0.6 0.3 0.6 0.2 0.6 0.2 0.8 0.2 0.7 0.1 0.6 0.2 0.9 0.1 0.6 0.2 0.9 0.1 0.9 0 0.6 0.1 0.9 0.1 0.9 0 0.9 0 0.9 0 0.9 0 0.9 0 0.9 0 0.9 -0.1 0.9 -0.1 0.9 0 0.6 -0.2 0.9 -0.1 0.9 -0.1 0.6 -0.2 0.9 -0.1 0.6 -0.2 0.7 -0.2 0.8 -0.2 0.6 -0.2 0.6 -0.3 0.7 -0.3 0.7 -0.3 0.6 -0.3 0.6 -0.3 0.5 -0.3 0.5 -0.4 0.6 -0.4 0.6 -0.4 0.5 -0.3 0.4 -0.5 0.6 -0.4 0.4 -0.5 0.5 -0.4 0.3 -0.6 0.5 -0.5 0.4 -0.5 0.3 -0.5 0.3 -0.6 0.4 -0.6 0.3 -0.6 0.2 -0.7 0.3 -0.8 0.3 -0.6 0.1 -0.8 0.2 -0.7 0.1 -0.9 0.1 -0.9 0.1 -0.9-0.1 -0.9 0 -0.9-0.1 -0.6-0.1 -0.9-0.2 -0.6-0.1 -0.9-0.3 -0.6-0.2 -0.6-0.2 -0.6-0.2 -0.8-0.3 -0.7-0.3 -0.6-0.2 -0.6-0.3 -0.6-0.2 -0.6-0.3 -0.6-0.2 -0.7-0.3 -0.7-0.3 -0.7-0.2 -0.6-0.3 -0.6-0.2 -0.8-0.2 -0.7-0.2 -0.6-0.1 -0.9-0.3 -0.6-0.1 -0.8-0.2 -0.7-0.2 -0.6-0.1 -0.9-0.2 -0.6-0.2 -0.7-0.2 -0.8-0.2 -0.6-0.2 -0.7-0.2 -0.8-0.2 -0.6-0.2 -0.9-0.2 -0.6-0.1 -0.9 0 -0.9 0 -0.6 0.1 -0.9 0.3 -0.6 0.2 -0.6 0.4 -0.5 0.3 -0.4 0.3 -0.6 0.5 -0.5 0.4 -0.4 0.4 -0.5 0.5 -0.4 0.4 -0.6 0.5 -0.3 0.3 -0.6 0.6 -0.3 0.3 -0.6 0.6 -0.3 0.3 -0.6 0.6 -0.4 0.3 -0.5 0.5 -0.5 0.4 -0.4 0.3 -0.6 0.5 -0.5 0.4 -0.4 0.3 -0.6 0.4 -0.6 0.4 -0.6 0.4 -0.5 0.3 -0.6 0.3 -0.5 0.3 -0.7 0.3 -0.6 0.3 -0.7 0.3 -0.6 0.2 -0.6 0.2 -0.6 0.2 -0.9 0.3 -0.6 0.1 -0.9 0.2z M1547.7 1279.7l-0.9 0.1 -0.9 0 -0.9-0.1 -0.6 0 -0.9-0.1 -0.9-0.1 -0.6-0.2 -0.9-0.2 -0.6-0.1 -0.6-0.2 -0.8-0.3 -0.7-0.3 -0.6-0.2 -0.6-0.3 -0.6-0.3 -0.6-0.3 -0.6-0.4 -0.5-0.3 -0.5-0.3 -0.5-0.3 -0.6-0.5 -0.5-0.4 -0.4-0.3 -0.6-0.6 -0.4-0.3 -0.5-0.5 -0.4-0.4 -0.5-0.6 -0.3-0.3 -0.5-0.6 -0.4-0.6 -0.3-0.4 -0.4-0.5 -0.4-0.6 -0.3-0.6 -0.4-0.6 -0.3-0.6 -0.3-0.5 -0.3-0.6 -0.3-0.7 -0.3-0.6 -0.2-0.6 -0.3-0.6 -0.2-0.6 -0.2-0.6 -0.3-0.8 -0.2-0.7 -0.2-0.6 -0.2-0.7 -0.2-0.8 -0.2-0.6 -0.2-0.9 -0.2-0.6 -0.1-0.6 -0.2-0.9 -0.2-0.6 -0.2-0.9 -0.1-0.6 -0.2-0.7 -0.2-0.8 -0.1-0.6 -0.3-0.9 -0.1-0.6 -0.2-0.8 -0.2-0.7 -0.1-0.6 -0.2-0.9 -0.1-0.6 -0.2-0.9 -0.2-0.6 -0.1-0.9 -0.1-0.6 -0.2-0.9 -0.1-0.9 -0.1-0.6 0-0.9 -0.1-0.9 -0.1-0.9 0-0.9 0-0.9 0.1-0.9 0-0.9 0.1-0.9 0.1-0.9 0.1-0.6 0.1-0.9 0.1-0.6 0.2-0.9 0.2-0.6 0.2-0.8 0.2-0.7 0.2-0.6 0.2-0.6 0.3-0.7 0.3-0.7 0.3-0.7 0.3-0.6 0.3-0.6 0.3-0.5 0.3-0.6 0.3-0.5 0.3-0.5 0.5-0.6 0.4-0.6 0.3-0.4 0.4-0.5 0.5-0.6 0.3-0.3 0.5-0.6 0.4-0.4 0.6-0.5 0.3-0.3 0.6-0.5 0.5-0.4 0.4-0.3 0.6-0.4 0.6-0.4 0.6-0.4 0.6-0.3 0.5-0.3 0.7-0.3 0.6-0.3 0.6-0.2 0.6-0.2 0.6-0.2 0.9-0.3 0.6-0.1 0.8-0.2 0.7-0.1 0.9-0.1 0.9-0.1 0.9 0 0.9 0 0.9 0.1 0.9 0.1 0.6 0.1 0.9 0.2 0.6 0.1 0.9 0.3 0.6 0.2 0.6 0.2 0.6 0.2 0.6 0.3 0.6 0.3 0.6 0.3 0.6 0.3 0.6 0.4 0.6 0.4 0.6 0.4 0.5 0.3 0.4 0.3 0.6 0.5 0.5 0.4 0.4 0.4 0.6 0.5 0.3 0.3 0.6 0.6 0.3 0.3 0.5 0.6 0.4 0.4 0.4 0.5 0.5 0.6 0.3 0.3 0.5 0.6 0.4 0.6 0.3 0.3 0.4 0.6 0.5 0.6 0.3 0.4 0.4 0.5 0.4 0.6 0.4 0.5 0.4 0.4 0.5 0.6 0.3 0.3 0.6 0.6 0.4 0.3 0.5 0.3 0.6 0.3 0.9 0.2 0.9 0 0.9-0.1 0.6-0.2 0.6-0.2 0.6-0.3 0.7-0.3 0.6-0.3 0.7-0.3 0.6-0.3 0.7-0.3 0.6-0.3 0.6-0.2 0.6-0.2 0.6-0.3 0.7-0.2 0.8-0.2 0.6-0.2 0.8-0.2 0.7-0.2 0.8-0.1 0.7-0.1 0.9-0.2 0.6 0 0.9-0.1 0.9-0.1 0.9 0 0.9 0 0.9-0.1 0.9 0 0.9 0 0.9 0 0.9 0 0.9 0 0.9 0 0.9 0 0.9 0 0.9 0 0.9 0 0.9 0 0.9 0.1 0.9 0 0.9 0.1 0.9 0.1 0.6 0 0.9 0.2 0.7 0.1 0.8 0.2 0.6 0.1 0.9 0.3 0.6 0.2 0.6 0.2 0.6 0.3 0.6 0.3 0.6 0.3 0.6 0.3 0.6 0.4 0.6 0.4 0.5 0.3 0.4 0.3 0.6 0.5 0.5 0.4 0.4 0.4 0.5 0.5 0.4 0.4 0.4 0.5 0.5 0.6 0.3 0.4 0.4 0.5 0.4 0.6 0.3 0.6 0.4 0.6 0.3 0.6 0.3 0.6 0.3 0.6 0.2 0.6 0.3 0.6 0.2 0.6 0.2 0.7 0.2 0.8 0.2 0.6 0.2 0.9 0.1 0.6 0.2 0.9 0.1 0.6 0.1 0.9 0.1 0.9 0.1 0.6 0 0.9 0.1 0.9 0 0.9 0 0.9 0 0.9 0 0.9 0 0.9 -0.1 0.9 -0.1 0.9 0 0.6 -0.1 0.9 -0.1 0.9 -0.1 0.6 -0.2 0.9 -0.1 0.6 -0.2 0.9 -0.1 0.6 -0.3 0.9 -0.2 0.6 -0.2 0.6 -0.2 0.6 -0.3 0.8 -0.3 0.6 -0.3 0.7 -0.3 0.5 -0.3 0.6 -0.3 0.5 -0.3 0.5 -0.4 0.6 -0.5 0.6 -0.3 0.4 -0.4 0.5 -0.5 0.5 -0.4 0.4 -0.5 0.5 -0.5 0.4 -0.4 0.4 -0.6 0.4 -0.6 0.4 -0.4 0.3 -0.6 0.3 -0.5 0.3 -0.6 0.3 -0.7 0.3 -0.8 0.3 -0.6 0.2 -0.6 0.1 -0.9 0.3 -0.6 0.1 -0.9 0.1 -0.9 0.1 -0.9 0 -0.9 0 -0.9-0.1 -0.9 0 -0.9-0.2 -0.6-0.1 -0.9-0.1 -0.6-0.2 -0.9-0.2 -0.6-0.1 -0.7-0.2 -0.8-0.2 -0.6-0.2 -0.8-0.2 -0.7-0.2 -0.6-0.1 -0.9-0.2 -0.6-0.2 -0.9-0.2 -0.6-0.1 -0.9-0.1 -0.6-0.1 -0.9-0.2 -0.8-0.1 -0.7-0.1 -0.9-0.2 -0.6-0.1 -0.9-0.1 -0.6-0.1 -0.9-0.2 -0.6-0.2 -0.9-0.2 -0.6-0.1 -0.8-0.2 -0.7-0.2 -0.6-0.1 -0.9-0.2 -0.9-0.1 -0.6 0 -0.9 0 -0.6 0.1 -0.9 0.1 -0.6 0.2 -0.6 0.3 -0.6 0.3 -0.6 0.3 -0.6 0.4 -0.6 0.4 -0.4 0.3 -0.5 0.4 -0.6 0.4 -0.5 0.4 -0.4 0.3 -0.6 0.5 -0.5 0.4 -0.4 0.3 -0.6 0.4 -0.6 0.5 -0.4 0.3 -0.5 0.3 -0.6 0.4 -0.6 0.4 -0.6 0.4 -0.5 0.3 -0.6 0.3 -0.5 0.3 -0.6 0.3 -0.6 0.3 -0.7 0.3 -0.7 0.3 -0.6 0.2 -0.6 0.2 -0.6 0.2 -0.9 0.3 -0.6 0.1 -0.9 0.2 -0.6 0.1 -0.9 0.1 -0.7 0.1z" fill="none" stroke="#000" stroke-width="0.95" stroke-linejoin="round"/>
</g>
<line x1="1471.25" y1="1183.2" x2="1725.7" y2="1183.2" stroke="#ddd" stroke-width="1.3"/>
<line x1="1725.2" y1="1182.9" x2="1725.2" y2="1430.9" stroke="#888" stroke-width="1.1"/>
<line x1="1471.9" y1="1430.9" x2="1725.7" y2="1430.9" stroke="#666" stroke-width="1.4"/>
<line x1="1471.9" y1="1182.9" x2="1471.9" y2="1431.6" stroke="#777" stroke-width="1.4"/>
<rect x="1568.1" y="1186" width="155.6" height="139.7" fill="none" stroke="#111" stroke-width="2.2"/>
<text transform="translate(1650.05,1252) scale(0.9616,1)" font-size="25.95">27.1</text>
<line x1="1503.91" y1="1430.9" x2="1503.91" y2="1437.5" stroke="#000" stroke-width="3"/>
<line x1="1566.12" y1="1430.9" x2="1566.12" y2="1437.5" stroke="#000" stroke-width="3"/>
<line x1="1639" y1="1430.9" x2="1639" y2="1437.5" stroke="#000" stroke-width="3"/>
<line x1="1700.45" y1="1430.9" x2="1700.45" y2="1437.5" stroke="#000" stroke-width="3"/>
<rect x="1530.21" y="1430.9" width="9.15" height="6.6" fill="#000"/>
<line x1="1518.96" y1="1430.9" x2="1518.96" y2="1436.1" stroke="#000" stroke-width="2"/>
<line x1="1551.36" y1="1430.9" x2="1551.36" y2="1436.1" stroke="#000" stroke-width="2"/>
<line x1="1481.71" y1="1430.9" x2="1481.71" y2="1434.4" stroke="#111" stroke-width="1.1"/>
<line x1="1507.05" y1="1430.9" x2="1507.05" y2="1434.4" stroke="#111" stroke-width="1.1"/>
<line x1="1509.82" y1="1430.9" x2="1509.82" y2="1434.4" stroke="#111" stroke-width="1.1"/>
<line x1="1512.68" y1="1430.9" x2="1512.68" y2="1434.4" stroke="#111" stroke-width="1.1"/>
<line x1="1515.44" y1="1430.9" x2="1515.44" y2="1434.4" stroke="#111" stroke-width="1.1"/>
<line x1="1521.44" y1="1430.9" x2="1521.44" y2="1434.4" stroke="#111" stroke-width="1.1"/>
<line x1="1524.58" y1="1430.9" x2="1524.58" y2="1434.4" stroke="#111" stroke-width="1.1"/>
<line x1="1527.44" y1="1430.9" x2="1527.44" y2="1434.4" stroke="#111" stroke-width="1.1"/>
<line x1="1541.83" y1="1430.9" x2="1541.83" y2="1434.4" stroke="#111" stroke-width="1.1"/>
<line x1="1545.73" y1="1430.9" x2="1545.73" y2="1434.4" stroke="#111" stroke-width="1.1"/>
<line x1="1548.5" y1="1430.9" x2="1548.5" y2="1434.4" stroke="#111" stroke-width="1.1"/>
<line x1="1555.55" y1="1430.9" x2="1555.55" y2="1434.4" stroke="#111" stroke-width="1.1"/>
<line x1="1558.41" y1="1430.9" x2="1558.41" y2="1434.4" stroke="#111" stroke-width="1.1"/>
<line x1="1561.17" y1="1430.9" x2="1561.17" y2="1434.4" stroke="#111" stroke-width="1.1"/>
<line x1="1588.06" y1="1430.9" x2="1588.06" y2="1434.4" stroke="#111" stroke-width="1.1"/>
<line x1="1657.5" y1="1430.9" x2="1657.5" y2="1434.4" stroke="#111" stroke-width="1.1"/>
<line x1="1600.9" y1="1430.9" x2="1600.9" y2="1434.4" stroke="#111" stroke-width="1.1"/>
<line x1="1668.32" y1="1430.9" x2="1668.32" y2="1434.4" stroke="#111" stroke-width="1.1"/>
<line x1="1610" y1="1430.9" x2="1610" y2="1434.4" stroke="#111" stroke-width="1.1"/>
<line x1="1676" y1="1430.9" x2="1676" y2="1434.4" stroke="#111" stroke-width="1.1"/>
<line x1="1617.06" y1="1430.9" x2="1617.06" y2="1436.1" stroke="#111" stroke-width="2"/>
<line x1="1681.96" y1="1430.9" x2="1681.96" y2="1436.1" stroke="#111" stroke-width="2"/>
<line x1="1622.84" y1="1430.9" x2="1622.84" y2="1434.4" stroke="#111" stroke-width="1.1"/>
<line x1="1686.82" y1="1430.9" x2="1686.82" y2="1434.4" stroke="#111" stroke-width="1.1"/>
<line x1="1627.71" y1="1430.9" x2="1627.71" y2="1434.4" stroke="#111" stroke-width="1.1"/>
<line x1="1690.93" y1="1430.9" x2="1690.93" y2="1434.4" stroke="#111" stroke-width="1.1"/>
<line x1="1631.94" y1="1430.9" x2="1631.94" y2="1434.4" stroke="#111" stroke-width="1.1"/>
<line x1="1694.5" y1="1430.9" x2="1694.5" y2="1434.4" stroke="#111" stroke-width="1.1"/>
<line x1="1635.67" y1="1430.9" x2="1635.67" y2="1434.4" stroke="#111" stroke-width="1.1"/>
<line x1="1697.64" y1="1430.9" x2="1697.64" y2="1434.4" stroke="#111" stroke-width="1.1"/>
<line x1="1717.66" y1="1430.9" x2="1717.66" y2="1434.4" stroke="#111" stroke-width="1.1"/>
<line x1="1464.5" y1="1205.07" x2="1471.9" y2="1205.07" stroke="#000" stroke-width="3"/>
<line x1="1464.5" y1="1264.28" x2="1471.9" y2="1264.28" stroke="#000" stroke-width="3"/>
<line x1="1464.5" y1="1332.21" x2="1471.9" y2="1332.21" stroke="#000" stroke-width="3"/>
<line x1="1464.5" y1="1414.1" x2="1471.9" y2="1414.1" stroke="#000" stroke-width="3"/>
<rect x="1464.5" y="1368.14" width="7.4" height="11.94" fill="#000"/>
<line x1="1466.3" y1="1352.05" x2="1471.9" y2="1352.05" stroke="#000" stroke-width="2"/>
<line x1="1466.3" y1="1397.29" x2="1471.9" y2="1397.29" stroke="#000" stroke-width="2"/>
<line x1="1468.4" y1="1343.44" x2="1471.9" y2="1343.44" stroke="#111" stroke-width="1.1"/>
<line x1="1468.4" y1="1348" x2="1471.9" y2="1348" stroke="#111" stroke-width="1.1"/>
<line x1="1468.4" y1="1354.68" x2="1471.9" y2="1354.68" stroke="#111" stroke-width="1.1"/>
<line x1="1468.4" y1="1359.54" x2="1471.9" y2="1359.54" stroke="#111" stroke-width="1.1"/>
<line x1="1468.4" y1="1364.8" x2="1471.9" y2="1364.8" stroke="#111" stroke-width="1.1"/>
<line x1="1468.4" y1="1383.43" x2="1471.9" y2="1383.43" stroke="#111" stroke-width="1.1"/>
<line x1="1468.4" y1="1387.88" x2="1471.9" y2="1387.88" stroke="#111" stroke-width="1.1"/>
<line x1="1468.4" y1="1392.03" x2="1471.9" y2="1392.03" stroke="#111" stroke-width="1.1"/>
<line x1="1468.4" y1="1400.63" x2="1471.9" y2="1400.63" stroke="#111" stroke-width="1.1"/>
<line x1="1468.4" y1="1404.38" x2="1471.9" y2="1404.38" stroke="#111" stroke-width="1.1"/>
<line x1="1468.4" y1="1408.43" x2="1471.9" y2="1408.43" stroke="#111" stroke-width="1.1"/>
<line x1="1468.4" y1="1311.76" x2="1471.9" y2="1311.76" stroke="#111" stroke-width="1.1"/>
<line x1="1468.4" y1="1246.46" x2="1471.9" y2="1246.46" stroke="#111" stroke-width="1.1"/>
<line x1="1468.4" y1="1299.8" x2="1471.9" y2="1299.8" stroke="#111" stroke-width="1.1"/>
<line x1="1468.4" y1="1236.03" x2="1471.9" y2="1236.03" stroke="#111" stroke-width="1.1"/>
<line x1="1468.4" y1="1291.31" x2="1471.9" y2="1291.31" stroke="#111" stroke-width="1.1"/>
<line x1="1468.4" y1="1228.63" x2="1471.9" y2="1228.63" stroke="#111" stroke-width="1.1"/>
<line x1="1466.3" y1="1284.73" x2="1471.9" y2="1284.73" stroke="#111" stroke-width="2"/>
<line x1="1466.3" y1="1222.89" x2="1471.9" y2="1222.89" stroke="#111" stroke-width="2"/>
<line x1="1468.4" y1="1279.35" x2="1471.9" y2="1279.35" stroke="#111" stroke-width="1.1"/>
<line x1="1468.4" y1="1218.21" x2="1471.9" y2="1218.21" stroke="#111" stroke-width="1.1"/>
<line x1="1468.4" y1="1274.81" x2="1471.9" y2="1274.81" stroke="#111" stroke-width="1.1"/>
<line x1="1468.4" y1="1214.24" x2="1471.9" y2="1214.24" stroke="#111" stroke-width="1.1"/>
<line x1="1468.4" y1="1270.87" x2="1471.9" y2="1270.87" stroke="#111" stroke-width="1.1"/>
<line x1="1468.4" y1="1210.81" x2="1471.9" y2="1210.81" stroke="#111" stroke-width="1.1"/>
<line x1="1468.4" y1="1267.39" x2="1471.9" y2="1267.39" stroke="#111" stroke-width="1.1"/>
<line x1="1468.4" y1="1207.78" x2="1471.9" y2="1207.78" stroke="#111" stroke-width="1.1"/>
<line x1="1468.4" y1="1188.31" x2="1471.9" y2="1188.31" stroke="#111" stroke-width="1.1"/>
<text transform="translate(1411.21,1214.89) scale(0.9126,1)" font-size="27.57">10</text>
<text transform="translate(1441.17,1201.83) scale(1.0889,1)" font-size="19.14">5</text>
<text transform="translate(1411.21,1275.12) scale(0.9078,1)" font-size="27.72">10</text>
<text transform="translate(1441.56,1261.96) scale(1.0321,1)" font-size="18.99">4</text>
<text transform="translate(1411.21,1342.13) scale(0.9126,1)" font-size="27.57">10</text>
<text transform="translate(1441.22,1329.07) scale(1.1047,1)" font-size="18.87">3</text>
<text transform="translate(1411.21,1381.5) scale(0.9126,1)" font-size="27.57">10</text>
<text transform="translate(1441.17,1368.34) scale(1.1075,1)" font-size="18.72">0</text>
<text transform="translate(1402.01,1423.11) scale(0.9565,1)" font-size="26.41">10</text>
<text transform="translate(1431.15,1410.86) scale(1.1326,1)" font-size="16.69">−3</text>
<text transform="translate(1505.05,1478.2) scale(0.9624,1)" font-size="27.81">10</text>
<text transform="translate(1535.46,1466.1) scale(1.0538,1)" font-size="20.07">0</text>
<text transform="translate(1559.21,1478.2) scale(0.9407,1)" font-size="27.81">10</text>
<text transform="translate(1587.82,1466.1) scale(1.0489,1)" font-size="20.07">3</text>
<text transform="translate(1619.13,1478.2) scale(0.9407,1)" font-size="27.81">10</text>
<text transform="translate(1648.09,1466.1) scale(0.9724,1)" font-size="20.36">4</text>
<text transform="translate(1679.57,1478.2) scale(0.9660,1)" font-size="27.81">10</text>
<text transform="translate(1708.91,1466.1) scale(0.9615,1)" font-size="20.36">5</text>
<text transform="translate(1469.59,1514.3) scale(1.0104,1)" font-size="27.81">CD38</text>
<line x1="1553.5" y1="1506" x2="1711.7" y2="1506" stroke="#000" stroke-width="4.4"/>
<path d="M1725.7 1506 L1709.7 1499.4 L1712.7 1506 L1709.7 1512.6 Z" fill="#000"/>
<line x1="1381.6" y1="1347.8" x2="1381.6" y2="1200.3" stroke="#000" stroke-width="4.4"/>
<path d="M1381.6 1186.3 L1375 1202.3 L1381.6 1199.3 L1388.2 1202.3 Z" fill="#000"/>
<text transform="translate(1388.8,1429.82) rotate(-90) scale(0.7970,1)" font-size="30.69">CD11b</text>
<text transform="translate(1512.1,1165.9) scale(1.0079,1)" font-size="28.97" font-style="italic">Shp2</text>
<text transform="translate(1581.78,1156.04) scale(0.9772,1)" font-size="25.71" font-style="italic">f/f</text>
<text transform="translate(1604.05,1165.9) scale(0.9203,1)" font-size="30.76" font-style="italic">Lck</text>
<text transform="translate(1648.74,1153.48) scale(1.0488,1)" font-size="21.77" font-style="italic">Cre</text>
<g>
<path d="M1954.0 1240.5l-0.6-0.1 -0.6-0.6 -0.2-0.6 0-0.9 0.3-0.6 0.5-0.4 0.7 0.1 0.5 0.4 0.3 0.8 0 0.6 -0.1 0.6 -0.5 0.6z M1954.6 1242.0l-0.9 0.2 -0.8-0.3 -0.4-0.3 -0.5-0.6 -0.3-0.6 -0.2-0.6 -0.1-0.9 0.1-0.9 0.1-0.6 0.3-0.6 0.5-0.6 0.4-0.3 0.9-0.2 0.8 0.2 0.4 0.3 0.5 0.6 0.4 0.6 0.2 0.6 0.1 0.9 0 0.3 -0.1 0.9 -0.2 0.6 -0.3 0.6 -0.6 0.6z M1954.9 1243.7l-0.9 0.2 -0.9-0.2 -0.6-0.3 -0.4-0.3 -0.5-0.5 -0.3-0.4 -0.4-0.6 -0.2-0.6 -0.3-0.8 -0.1-0.7 -0.1-0.9 0.1-0.9 0.1-0.6 0.3-0.8 0.3-0.6 0.3-0.4 0.6-0.6 0.5-0.3 0.7-0.2 0.9 0 0.8 0.2 0.5 0.3 0.5 0.4 0.4 0.5 0.3 0.6 0.3 0.6 0.2 0.6 0.2 0.9 0.1 0.9 -0.1 0.9 -0.1 0.9 -0.2 0.6 -0.3 0.6 -0.4 0.6 -0.4 0.4 -0.6 0.4z M1954.9 1245.5l-0.9 0.1 -0.6-0.1 -0.8-0.3 -0.6-0.3 -0.4-0.3 -0.6-0.6 -0.3-0.3 -0.4-0.6 -0.3-0.6 -0.3-0.6 -0.2-0.6 -0.3-0.9 -0.1-0.6 0-0.9 0-0.9 0.1-0.9 0.1-0.6 0.2-0.6 0.3-0.6 0.3-0.6 0.5-0.6 0.4-0.5 0.6-0.4 0.5-0.3 0.7-0.2 0.6-0.1 0.6 0 0.9 0.2 0.6 0.3 0.5 0.4 0.4 0.3 0.5 0.6 0.4 0.6 0.3 0.5 0.3 0.7 0.2 0.6 0.1 0.6 0.2 0.9 0.1 0.9 0 0.9 -0.1 0.9 -0.2 0.7 -0.2 0.8 -0.3 0.6 -0.3 0.6 -0.4 0.5 -0.4 0.4 -0.5 0.4 -0.6 0.3 -0.6 0.2z M1955.8 1247.0l-0.9 0.3 -0.9 0 -0.9-0.2 -0.6-0.2 -0.6-0.3 -0.6-0.4 -0.5-0.4 -0.4-0.4 -0.4-0.5 -0.5-0.6 -0.3-0.5 -0.3-0.6 -0.3-0.7 -0.2-0.6 -0.2-0.6 -0.2-0.9 0-0.6 -0.1-0.9 0-0.9 0.1-0.9 0.1-0.6 0.2-0.8 0.3-0.7 0.2-0.6 0.4-0.6 0.3-0.5 0.3-0.4 0.6-0.6 0.4-0.3 0.5-0.3 0.6-0.3 0.9-0.3 0.6 0 0.6 0 0.9 0.2 0.6 0.2 0.6 0.3 0.6 0.5 0.4 0.3 0.5 0.6 0.3 0.4 0.3 0.5 0.4 0.6 0.2 0.6 0.3 0.7 0.2 0.8 0.1 0.6 0.2 0.9 0.1 0.9 0 0.9 -0.1 0.9 -0.1 0.9 -0.2 0.6 -0.2 0.8 -0.3 0.7 -0.3 0.6 -0.3 0.5 -0.3 0.4 -0.5 0.6 -0.4 0.3 -0.6 0.4 -0.6 0.2z M1955.8 1248.8l-0.9 0.2 -0.9 0 -0.9-0.2 -0.6-0.2 -0.6-0.2 -0.6-0.4 -0.6-0.4 -0.4-0.3 -0.5-0.5 -0.4-0.4 -0.5-0.6 -0.3-0.5 -0.3-0.5 -0.3-0.6 -0.3-0.6 -0.3-0.8 -0.2-0.6 -0.1-0.6 -0.2-0.9 -0.1-0.7 -0.1-0.8 0-0.9 0.1-0.9 0.1-0.6 0.1-0.9 0.2-0.6 0.2-0.7 0.3-0.7 0.3-0.6 0.3-0.5 0.3-0.5 0.5-0.6 0.4-0.4 0.6-0.5 0.4-0.3 0.5-0.3 0.7-0.3 0.8-0.2 0.6-0.1 0.9 0 0.6 0.1 0.8 0.2 0.7 0.3 0.5 0.3 0.4 0.3 0.6 0.5 0.4 0.4 0.5 0.6 0.3 0.4 0.3 0.5 0.4 0.6 0.3 0.6 0.2 0.6 0.3 0.9 0.2 0.6 0.1 0.6 0.1 0.9 0.1 0.9 0.1 0.9 0 0.9 -0.1 0.9 -0.1 0.9 -0.1 0.6 -0.3 0.9 -0.2 0.6 -0.2 0.6 -0.3 0.6 -0.4 0.6 -0.4 0.5 -0.4 0.4 -0.5 0.5 -0.6 0.4 -0.6 0.3 -0.6 0.2z M1955.2 1250.6l-0.9 0 -0.6 0 -0.9-0.2 -0.6-0.2 -0.6-0.3 -0.6-0.3 -0.6-0.4 -0.6-0.4 -0.3-0.3 -0.6-0.6 -0.3-0.3 -0.4-0.6 -0.5-0.6 -0.3-0.6 -0.3-0.5 -0.3-0.7 -0.3-0.6 -0.2-0.6 -0.2-0.6 -0.2-0.9 -0.1-0.6 -0.1-0.9 -0.1-0.8 0-0.7 0-0.9 0-0.6 0.1-0.9 0.2-0.9 0.1-0.6 0.2-0.6 0.3-0.9 0.3-0.6 0.3-0.6 0.3-0.5 0.3-0.5 0.4-0.5 0.5-0.5 0.4-0.4 0.5-0.4 0.6-0.4 0.6-0.3 0.6-0.3 0.6-0.2 0.9-0.2 0.9 0 0.9 0.1 0.9 0.2 0.6 0.2 0.6 0.3 0.6 0.4 0.4 0.3 0.5 0.4 0.5 0.5 0.4 0.4 0.4 0.5 0.4 0.6 0.3 0.6 0.3 0.6 0.3 0.6 0.3 0.6 0.2 0.6 0.2 0.8 0.2 0.7 0.1 0.6 0.1 0.9 0.1 0.9 0.1 0.9 0 0.9 0 0.9 -0.1 0.9 -0.1 0.9 -0.2 0.6 -0.2 0.9 -0.2 0.6 -0.2 0.6 -0.3 0.6 -0.4 0.6 -0.4 0.6 -0.3 0.4 -0.5 0.5 -0.4 0.4 -0.6 0.4 -0.6 0.4 -0.6 0.2 -0.6 0.2 -0.9 0.2z M1956.4 1252.1l-0.9 0.1 -0.9 0.1 -0.9-0.1 -0.6-0.1 -0.9-0.3 -0.6-0.2 -0.6-0.3 -0.6-0.3 -0.6-0.4 -0.4-0.3 -0.5-0.4 -0.5-0.5 -0.4-0.4 -0.4-0.5 -0.5-0.6 -0.3-0.5 -0.3-0.5 -0.3-0.6 -0.3-0.6 -0.3-0.7 -0.3-0.7 -0.2-0.6 -0.1-0.6 -0.2-0.9 -0.1-0.6 -0.2-0.9 -0.1-0.9 0-0.9 0-0.5 0-0.7 0.1-0.9 0.1-0.9 0.1-0.6 0.2-0.9 0.2-0.6 0.2-0.6 0.3-0.7 0.3-0.6 0.3-0.6 0.3-0.5 0.4-0.6 0.5-0.6 0.3-0.3 0.6-0.6 0.4-0.3 0.5-0.4 0.6-0.4 0.6-0.3 0.6-0.2 0.6-0.2 0.9-0.2 0.9-0.1 0.9 0.1 0.9 0.1 0.6 0.2 0.6 0.2 0.6 0.3 0.6 0.3 0.6 0.5 0.6 0.4 0.3 0.3 0.6 0.6 0.3 0.4 0.4 0.5 0.4 0.6 0.4 0.6 0.3 0.6 0.3 0.6 0.2 0.6 0.2 0.6 0.2 0.6 0.3 0.9 0.1 0.6 0.2 0.9 0.1 0.6 0.1 0.9 0.1 0.9 0 0.6 0 0.9 0 0.9 0 0.6 -0.1 0.9 -0.1 0.9 -0.2 0.6 -0.2 0.9 -0.2 0.6 -0.2 0.6 -0.3 0.6 -0.3 0.6 -0.4 0.6 -0.4 0.6 -0.3 0.3 -0.6 0.6 -0.3 0.3 -0.6 0.4 -0.6 0.4 -0.6 0.3 -0.6 0.2 -0.8 0.2z M1957.0 1253.6l-0.9 0.2 -0.9 0.1 -0.9-0.1 -0.9-0.1 -0.6-0.1 -0.9-0.3 -0.6-0.2 -0.6-0.3 -0.6-0.3 -0.6-0.3 -0.5-0.4 -0.4-0.3 -0.6-0.5 -0.4-0.4 -0.5-0.5 -0.3-0.4 -0.5-0.6 -0.4-0.6 -0.3-0.6 -0.3-0.5 -0.3-0.6 -0.3-0.7 -0.2-0.6 -0.3-0.6 -0.2-0.6 -0.2-0.9 -0.1-0.6 -0.2-0.9 -0.1-0.6 -0.1-0.9 0-0.9 -0.1-0.9 0.1-0.9 0-0.9 0.1-0.9 0.1-0.6 0.2-0.9 0.2-0.6 0.2-0.7 0.3-0.8 0.2-0.6 0.3-0.6 0.3-0.6 0.4-0.6 0.3-0.4 0.3-0.5 0.5-0.6 0.4-0.4 0.5-0.5 0.4-0.3 0.6-0.4 0.6-0.4 0.6-0.3 0.6-0.3 0.6-0.2 0.6-0.2 0.9-0.2 0.9 0 0.9 0 0.9 0.2 0.6 0.1 0.6 0.2 0.7 0.3 0.6 0.3 0.5 0.3 0.6 0.4 0.6 0.5 0.3 0.3 0.6 0.6 0.3 0.3 0.5 0.6 0.4 0.6 0.3 0.5 0.3 0.5 0.3 0.5 0.3 0.6 0.3 0.7 0.3 0.8 0.2 0.6 0.2 0.6 0.2 0.9 0.1 0.6 0.2 0.8 0.1 0.7 0.1 0.9 0.1 0.7 0.1 0.8 0 0.9 0 0.9 0 0.9 -0.1 0.9 -0.1 0.6 -0.1 0.9 -0.1 0.6 -0.2 0.9 -0.2 0.6 -0.3 0.6 -0.2 0.6 -0.3 0.6 -0.4 0.6 -0.4 0.6 -0.4 0.5 -0.4 0.4 -0.5 0.5 -0.5 0.4 -0.4 0.3 -0.6 0.3 -0.6 0.3 -0.6 0.3 -0.9 0.3z M1957.6 1255.1l-0.9 0.2 -0.9 0.1 -0.9 0 -0.9-0.1 -0.9-0.1 -0.6-0.1 -0.9-0.3 -0.6-0.2 -0.6-0.3 -0.6-0.3 -0.6-0.3 -0.6-0.4 -0.4-0.3 -0.5-0.4 -0.6-0.5 -0.3-0.3 -0.5-0.6 -0.4-0.4 -0.4-0.5 -0.4-0.6 -0.3-0.6 -0.4-0.6 -0.3-0.6 -0.3-0.6 -0.2-0.6 -0.3-0.6 -0.2-0.6 -0.2-0.8 -0.2-0.7 -0.1-0.6 -0.2-0.9 -0.1-0.6 -0.1-0.9 -0.1-0.9 0-0.9 0-0.9 0-0.9 0.1-0.9 0.1-0.9 0.1-0.6 0.2-0.9 0.1-0.6 0.2-0.6 0.3-0.9 0.2-0.6 0.3-0.6 0.3-0.6 0.3-0.6 0.4-0.6 0.3-0.5 0.3-0.4 0.5-0.6 0.4-0.4 0.5-0.5 0.4-0.4 0.6-0.5 0.5-0.3 0.4-0.3 0.6-0.3 0.6-0.3 0.8-0.3 0.7-0.2 0.6-0.1 0.9-0.1 0.9-0.1 0.9 0.1 0.6 0.1 0.9 0.2 0.6 0.2 0.6 0.2 0.6 0.3 0.6 0.4 0.6 0.4 0.6 0.4 0.4 0.3 0.5 0.5 0.4 0.4 0.5 0.6 0.3 0.3 0.4 0.6 0.4 0.6 0.4 0.6 0.3 0.6 0.3 0.6 0.3 0.6 0.2 0.6 0.3 0.6 0.2 0.6 0.2 0.8 0.2 0.7 0.1 0.6 0.2 0.9 0.1 0.6 0.2 0.9 0.1 0.9 0.1 0.6 0 0.9 0.1 0.9 0 0.9 0 0.9 -0.1 0.9 0 0.9 -0.1 0.6 -0.2 0.9 -0.1 0.6 -0.3 0.9 -0.2 0.6 -0.2 0.6 -0.3 0.6 -0.3 0.6 -0.4 0.6 -0.4 0.6 -0.3 0.4 -0.5 0.5 -0.4 0.4 -0.6 0.5 -0.4 0.3 -0.5 0.3 -0.6 0.4 -0.6 0.2 -0.7 0.3 -0.8 0.3z M1955.5 1256.9l-0.6 0 -0.9-0.1 -0.9-0.1 -0.6-0.1 -0.9-0.2 -0.6-0.2 -0.6-0.3 -0.6-0.2 -0.6-0.3 -0.6-0.4 -0.6-0.4 -0.6-0.4 -0.4-0.3 -0.5-0.5 -0.4-0.4 -0.5-0.5 -0.4-0.4 -0.4-0.6 -0.4-0.5 -0.3-0.4 -0.3-0.6 -0.4-0.6 -0.3-0.6 -0.3-0.6 -0.2-0.6 -0.3-0.7 -0.3-0.8 -0.2-0.6 -0.1-0.6 -0.2-0.9 -0.2-0.6 -0.1-0.9 -0.1-0.6 -0.1-0.9 -0.1-0.9 0-0.9 0-0.9 0-0.9 0.1-0.9 0.1-0.8 0.1-0.7 0.2-0.9 0.1-0.6 0.2-0.7 0.2-0.8 0.2-0.6 0.3-0.6 0.2-0.6 0.3-0.6 0.3-0.6 0.4-0.6 0.4-0.6 0.4-0.6 0.3-0.4 0.4-0.5 0.5-0.5 0.4-0.4 0.5-0.4 0.6-0.5 0.4-0.3 0.5-0.3 0.6-0.4 0.6-0.3 0.6-0.2 0.9-0.3 0.6-0.2 0.8-0.1 0.7-0.1 0.9 0 0.9 0.1 0.6 0 0.9 0.2 0.6 0.2 0.6 0.2 0.6 0.3 0.6 0.3 0.6 0.3 0.6 0.4 0.6 0.5 0.4 0.3 0.5 0.5 0.4 0.4 0.5 0.5 0.3 0.4 0.5 0.6 0.4 0.6 0.3 0.4 0.3 0.5 0.3 0.6 0.3 0.6 0.3 0.6 0.3 0.6 0.3 0.8 0.2 0.7 0.2 0.6 0.2 0.6 0.3 0.9 0.1 0.6 0.2 0.9 0.1 0.6 0.1 0.9 0.1 0.6 0.1 0.9 0.1 0.9 0.1 0.9 0 0.6 0 0.9 0 0.9 0 0.6 -0.1 0.9 -0.1 0.9 -0.1 0.9 -0.1 0.6 -0.2 0.7 -0.2 0.8 -0.3 0.6 -0.2 0.6 -0.3 0.6 -0.3 0.6 -0.4 0.6 -0.4 0.5 -0.3 0.4 -0.6 0.6 -0.3 0.3 -0.6 0.5 -0.5 0.4 -0.5 0.3 -0.5 0.3 -0.6 0.3 -0.6 0.3 -0.9 0.3 -0.6 0.2 -0.6 0.1 -0.9 0.2 -0.9 0.1 -0.6 0z M1958.2 1258.1l-0.9 0.2 -0.9 0 -0.9 0.1 -0.9 0 -0.9-0.1 -0.9-0.2 -0.6-0.1 -0.8-0.2 -0.7-0.2 -0.6-0.2 -0.6-0.3 -0.6-0.3 -0.6-0.3 -0.6-0.4 -0.6-0.4 -0.4-0.3 -0.5-0.4 -0.6-0.5 -0.3-0.3 -0.6-0.6 -0.3-0.4 -0.4-0.5 -0.5-0.6 -0.3-0.5 -0.3-0.4 -0.3-0.6 -0.4-0.6 -0.2-0.6 -0.3-0.6 -0.3-0.7 -0.3-0.8 -0.2-0.6 -0.2-0.6 -0.2-0.9 -0.1-0.6 -0.2-0.8 -0.1-0.7 -0.2-0.9 0-0.6 -0.1-0.9 0-0.9 -0.1-0.9 0-0.9 0.1-0.9 0.1-0.9 0-0.6 0.2-0.9 0.1-0.7 0.2-0.8 0.1-0.6 0.3-0.9 0.2-0.6 0.2-0.6 0.2-0.6 0.3-0.6 0.3-0.6 0.3-0.6 0.4-0.6 0.4-0.6 0.4-0.6 0.3-0.4 0.4-0.5 0.5-0.5 0.3-0.4 0.6-0.5 0.5-0.4 0.4-0.3 0.6-0.5 0.6-0.3 0.6-0.4 0.6-0.2 0.6-0.3 0.6-0.2 0.7-0.2 0.8-0.2 0.9-0.1 0.6 0 0.9 0 0.6 0 0.9 0.2 0.7 0.1 0.8 0.2 0.6 0.2 0.6 0.3 0.6 0.3 0.6 0.3 0.6 0.4 0.6 0.4 0.4 0.3 0.5 0.4 0.5 0.5 0.4 0.4 0.5 0.5 0.4 0.5 0.3 0.4 0.4 0.6 0.4 0.6 0.4 0.6 0.3 0.5 0.3 0.6 0.3 0.6 0.3 0.6 0.3 0.7 0.2 0.6 0.2 0.6 0.2 0.6 0.3 0.9 0.2 0.6 0.1 0.6 0.2 0.9 0.2 0.6 0.1 0.9 0.1 0.6 0.2 0.9 0.1 0.9 0 0.6 0.1 0.9 0.1 0.9 0 0.9 0 0.9 0 0.9 0 0.9 -0.1 0.9 -0.1 0.6 -0.2 0.9 -0.1 0.6 -0.3 0.9 -0.2 0.6 -0.2 0.6 -0.3 0.6 -0.3 0.6 -0.4 0.6 -0.4 0.6 -0.3 0.4 -0.5 0.5 -0.4 0.5 -0.5 0.4 -0.4 0.4 -0.6 0.4 -0.6 0.4 -0.4 0.3 -0.6 0.3 -0.6 0.3 -0.8 0.3 -0.6 0.2 -0.6 0.2 -0.9 0.2z M1957.9 1259.6l-0.9 0.1 -0.9 0.1 -0.9 0 -0.9 0 -0.9-0.1 -0.6-0.1 -0.9-0.2 -0.6-0.2 -0.8-0.2 -0.7-0.2 -0.6-0.3 -0.6-0.3 -0.6-0.3 -0.6-0.3 -0.6-0.4 -0.4-0.3 -0.5-0.3 -0.6-0.5 -0.4-0.4 -0.5-0.4 -0.4-0.5 -0.5-0.5 -0.3-0.4 -0.5-0.6 -0.4-0.6 -0.3-0.5 -0.3-0.5 -0.3-0.5 -0.3-0.6 -0.3-0.6 -0.3-0.7 -0.3-0.8 -0.2-0.6 -0.2-0.6 -0.2-0.6 -0.2-0.9 -0.2-0.6 -0.1-0.9 -0.1-0.6 -0.2-0.9 -0.1-0.9 0-0.6 -0.1-0.9 0-0.9 0-0.9 0-0.9 0-0.9 0.1-0.6 0.1-0.9 0.1-0.9 0.1-0.6 0.2-0.9 0.2-0.6 0.2-0.8 0.2-0.7 0.2-0.6 0.3-0.6 0.2-0.6 0.3-0.6 0.3-0.6 0.3-0.6 0.4-0.6 0.3-0.6 0.5-0.6 0.3-0.4 0.4-0.5 0.5-0.6 0.3-0.3 0.6-0.6 0.4-0.3 0.5-0.4 0.6-0.5 0.5-0.3 0.5-0.3 0.5-0.3 0.6-0.3 0.7-0.3 0.8-0.3 0.6-0.1 0.7-0.2 0.8-0.1 0.9-0.1 0.9 0 0.9 0 0.9 0.1 0.6 0.1 0.9 0.3 0.6 0.2 0.6 0.2 0.6 0.3 0.6 0.3 0.6 0.3 0.6 0.4 0.6 0.4 0.4 0.3 0.5 0.4 0.5 0.5 0.4 0.4 0.5 0.5 0.4 0.4 0.4 0.5 0.4 0.6 0.4 0.5 0.3 0.5 0.3 0.5 0.4 0.6 0.3 0.6 0.3 0.6 0.3 0.6 0.3 0.6 0.2 0.6 0.3 0.8 0.3 0.7 0.2 0.6 0.1 0.6 0.3 0.9 0.2 0.6 0.1 0.6 0.2 0.9 0.1 0.6 0.2 0.9 0.1 0.7 0.1 0.8 0.1 0.9 0.1 0.6 0.1 0.9 0 0.9 0.1 0.9 0 0.9 0 0.9 -0.1 0.9 -0.1 0.9 -0.1 0.6 -0.1 0.9 -0.2 0.6 -0.2 0.9 -0.2 0.6 -0.3 0.6 -0.2 0.6 -0.3 0.6 -0.4 0.6 -0.4 0.6 -0.3 0.4 -0.4 0.5 -0.5 0.6 -0.3 0.3 -0.6 0.6 -0.4 0.3 -0.5 0.4 -0.6 0.4 -0.6 0.4 -0.6 0.3 -0.6 0.3 -0.6 0.2 -0.6 0.3 -0.6 0.2 -0.8 0.2 -0.7 0.2 -0.7 0.1z M1957.6 1261.1l-0.9 0.1 -0.9 0 -0.9 0 -0.9-0.1 -0.6 0 -0.9-0.2 -0.7-0.1 -0.8-0.2 -0.6-0.2 -0.7-0.2 -0.8-0.3 -0.6-0.3 -0.6-0.3 -0.6-0.3 -0.5-0.3 -0.5-0.3 -0.5-0.3 -0.6-0.5 -0.5-0.4 -0.4-0.3 -0.6-0.6 -0.3-0.3 -0.5-0.6 -0.4-0.4 -0.4-0.5 -0.4-0.6 -0.4-0.6 -0.3-0.5 -0.3-0.5 -0.3-0.5 -0.3-0.6 -0.3-0.7 -0.3-0.7 -0.3-0.7 -0.2-0.6 -0.2-0.6 -0.2-0.9 -0.2-0.6 -0.1-0.7 -0.2-0.8 -0.1-0.8 -0.1-0.7 -0.1-0.9 -0.1-0.9 0-0.6 -0.1-0.9 0-0.9 0-0.9 0-0.9 0.1-0.9 0.1-0.6 0.1-0.9 0.1-0.9 0.1-0.6 0.2-0.9 0.1-0.6 0.2-0.6 0.3-0.9 0.2-0.6 0.2-0.6 0.2-0.6 0.3-0.6 0.3-0.7 0.3-0.6 0.3-0.5 0.4-0.6 0.3-0.6 0.5-0.6 0.3-0.4 0.4-0.5 0.5-0.6 0.3-0.3 0.6-0.6 0.3-0.3 0.6-0.5 0.5-0.4 0.4-0.3 0.6-0.4 0.6-0.4 0.6-0.3 0.6-0.3 0.6-0.2 0.6-0.2 0.8-0.3 0.7-0.2 0.7-0.1 0.8-0.1 0.9-0.1 0.9 0 0.9 0.1 0.7 0.1 0.8 0.2 0.6 0.1 0.9 0.3 0.6 0.2 0.6 0.3 0.6 0.3 0.6 0.3 0.6 0.4 0.5 0.3 0.4 0.3 0.6 0.4 0.5 0.5 0.4 0.3 0.6 0.6 0.3 0.3 0.5 0.6 0.4 0.5 0.3 0.4 0.5 0.6 0.4 0.6 0.3 0.5 0.3 0.5 0.3 0.5 0.3 0.6 0.3 0.6 0.3 0.6 0.3 0.7 0.3 0.7 0.3 0.7 0.2 0.6 0.2 0.6 0.2 0.6 0.3 0.9 0.2 0.6 0.2 0.6 0.2 0.9 0.1 0.6 0.2 0.8 0.1 0.7 0.2 0.9 0.1 0.6 0.1 0.9 0.1 0.6 0.1 0.9 0.1 0.9 0 0.9 0.1 0.9 0 0.9 -0.1 0.9 -0.1 0.9 -0.1 0.9 -0.1 0.6 -0.2 0.9 -0.1 0.6 -0.2 0.6 -0.3 0.8 -0.3 0.7 -0.3 0.6 -0.3 0.6 -0.3 0.5 -0.3 0.5 -0.4 0.5 -0.4 0.6 -0.4 0.4 -0.5 0.5 -0.4 0.4 -0.6 0.5 -0.3 0.3 -0.6 0.4 -0.6 0.4 -0.6 0.4 -0.6 0.3 -0.6 0.3 -0.6 0.3 -0.6 0.2 -0.6 0.2 -0.6 0.2 -0.9 0.2 -0.6 0.2 -0.9 0.1 -0.6 0.1z M1959.1 1262.3l-0.9 0.1 -0.9 0.1 -0.9 0.1 -0.9 0 -0.9 0 -0.9-0.1 -0.9-0.1 -0.6-0.1 -0.9-0.2 -0.6-0.2 -0.8-0.2 -0.7-0.2 -0.6-0.3 -0.6-0.2 -0.6-0.3 -0.6-0.3 -0.6-0.3 -0.6-0.4 -0.6-0.4 -0.4-0.3 -0.5-0.3 -0.6-0.5 -0.4-0.4 -0.5-0.5 -0.4-0.4 -0.5-0.5 -0.3-0.4 -0.5-0.6 -0.4-0.6 -0.3-0.4 -0.3-0.5 -0.4-0.6 -0.3-0.6 -0.3-0.6 -0.3-0.6 -0.2-0.6 -0.3-0.6 -0.3-0.9 -0.2-0.6 -0.2-0.6 -0.2-0.8 -0.2-0.7 -0.1-0.7 -0.2-0.8 -0.1-0.9 -0.1-0.6 -0.1-0.9 -0.1-0.9 0-0.6 0-0.9 -0.1-0.9 0-0.9 0.1-0.9 0-0.7 0.1-0.8 0-0.9 0.2-0.9 0.1-0.6 0.1-0.9 0.2-0.6 0.2-0.9 0.1-0.6 0.2-0.6 0.3-0.9 0.2-0.6 0.3-0.6 0.2-0.6 0.3-0.6 0.3-0.6 0.3-0.6 0.4-0.6 0.3-0.6 0.4-0.5 0.3-0.4 0.4-0.6 0.5-0.6 0.3-0.3 0.5-0.6 0.4-0.4 0.6-0.5 0.3-0.3 0.6-0.5 0.6-0.4 0.4-0.3 0.5-0.3 0.6-0.3 0.6-0.4 0.6-0.2 0.6-0.3 0.9-0.3 0.6-0.2 0.6-0.1 0.9-0.2 0.7-0.1 0.8-0.1 0.9 0 0.9 0.1 0.6 0 0.9 0.2 0.7 0.1 0.8 0.2 0.6 0.2 0.6 0.2 0.6 0.3 0.6 0.3 0.6 0.3 0.6 0.4 0.6 0.3 0.6 0.5 0.4 0.3 0.5 0.4 0.6 0.5 0.3 0.3 0.6 0.6 0.3 0.3 0.5 0.6 0.4 0.5 0.3 0.4 0.5 0.6 0.4 0.6 0.3 0.5 0.3 0.5 0.3 0.5 0.4 0.6 0.3 0.6 0.3 0.6 0.3 0.6 0.3 0.6 0.2 0.6 0.3 0.6 0.3 0.8 0.3 0.7 0.2 0.6 0.2 0.6 0.2 0.6 0.3 0.9 0.2 0.6 0.2 0.6 0.2 0.9 0.2 0.6 0.1 0.7 0.2 0.8 0.1 0.7 0.1 0.8 0.2 0.9 0 0.6 0.1 0.9 0 0.9 0.1 0.9 0 0.9 -0.1 0.9 -0.1 0.9 0 0.6 -0.2 0.9 -0.1 0.6 -0.2 0.9 -0.2 0.6 -0.2 0.7 -0.3 0.8 -0.3 0.6 -0.2 0.6 -0.4 0.6 -0.3 0.6 -0.3 0.4 -0.3 0.5 -0.5 0.6 -0.4 0.5 -0.4 0.4 -0.5 0.5 -0.4 0.4 -0.5 0.4 -0.6 0.5 -0.4 0.3 -0.5 0.3 -0.6 0.4 -0.6 0.3 -0.6 0.3 -0.6 0.3 -0.6 0.3 -0.6 0.2 -0.8 0.3 -0.7 0.2 -0.6 0.2 -0.9 0.1z M1958.2 1263.8l-0.9 0.1 -0.9 0 -0.9 0.1 -0.9-0.1 -0.9 0 -0.6-0.1 -0.9-0.1 -0.8-0.2 -0.7-0.2 -0.6-0.1 -0.9-0.3 -0.6-0.2 -0.6-0.2 -0.6-0.3 -0.6-0.3 -0.6-0.3 -0.6-0.3 -0.6-0.4 -0.6-0.3 -0.5-0.4 -0.4-0.3 -0.6-0.5 -0.5-0.4 -0.4-0.4 -0.5-0.5 -0.4-0.4 -0.5-0.5 -0.4-0.5 -0.3-0.4 -0.4-0.6 -0.5-0.6 -0.3-0.6 -0.3-0.5 -0.3-0.5 -0.3-0.6 -0.3-0.7 -0.3-0.7 -0.2-0.6 -0.3-0.6 -0.2-0.6 -0.2-0.8 -0.2-0.7 -0.1-0.6 -0.2-0.9 -0.1-0.6 -0.2-0.9 -0.1-0.7 -0.1-0.8 -0.1-0.9 -0.1-0.9 0-0.8 0-0.7 0-0.9 0-0.9 0-0.9 0-0.6 0.1-0.9 0.1-0.9 0.1-0.9 0.1-0.6 0.1-0.9 0.2-0.6 0.2-0.9 0.1-0.6 0.2-0.7 0.3-0.8 0.2-0.6 0.2-0.6 0.2-0.6 0.3-0.7 0.3-0.6 0.3-0.6 0.3-0.6 0.3-0.5 0.4-0.6 0.3-0.6 0.5-0.6 0.3-0.4 0.4-0.5 0.5-0.6 0.3-0.4 0.5-0.5 0.4-0.4 0.6-0.5 0.3-0.3 0.6-0.5 0.6-0.4 0.4-0.3 0.5-0.3 0.6-0.4 0.6-0.3 0.6-0.3 0.6-0.2 0.7-0.3 0.8-0.3 0.6-0.1 0.8-0.2 0.7-0.1 0.9-0.1 0.9-0.1 0.9 0 0.9 0.1 0.9 0.1 0.7 0.1 0.8 0.2 0.6 0.2 0.7 0.2 0.8 0.3 0.6 0.3 0.6 0.3 0.6 0.3 0.5 0.3 0.5 0.3 0.5 0.3 0.6 0.5 0.5 0.4 0.4 0.3 0.6 0.6 0.4 0.3 0.5 0.6 0.3 0.3 0.5 0.6 0.4 0.4 0.4 0.5 0.4 0.6 0.4 0.6 0.3 0.4 0.3 0.5 0.4 0.6 0.3 0.6 0.4 0.6 0.3 0.6 0.3 0.6 0.3 0.6 0.3 0.6 0.3 0.6 0.3 0.6 0.3 0.6 0.3 0.6 0.2 0.6 0.3 0.6 0.3 0.6 0.2 0.6 0.3 0.7 0.3 0.8 0.2 0.6 0.2 0.6 0.2 0.6 0.3 0.9 0.1 0.6 0.2 0.7 0.1 0.8 0.2 0.9 0 0.6 0.1 0.9 0 0.9 0 0.9 -0.1 0.9 0 0.6 -0.1 0.9 -0.2 0.9 -0.1 0.6 -0.1 0.9 -0.2 0.6 -0.2 0.9 -0.2 0.6 -0.2 0.6 -0.2 0.6 -0.3 0.7 -0.3 0.7 -0.3 0.6 -0.3 0.5 -0.3 0.5 -0.4 0.6 -0.4 0.6 -0.4 0.5 -0.4 0.4 -0.5 0.6 -0.3 0.3 -0.6 0.6 -0.4 0.3 -0.5 0.4 -0.6 0.5 -0.5 0.3 -0.4 0.3 -0.6 0.4 -0.6 0.3 -0.6 0.3 -0.6 0.3 -0.6 0.3 -0.6 0.2 -0.9 0.3 -0.6 0.2 -0.6 0.2 -0.9 0.2 -0.6 0.1 -0.9 0.1 -0.6 0.1z M1959.4 1265.0l-0.9 0.1 -0.9 0.1 -0.9 0.1 -0.9 0 -0.9 0 -0.9-0.1 -0.9-0.1 -0.9-0.1 -0.6-0.1 -0.9-0.2 -0.6-0.1 -0.6-0.2 -0.9-0.3 -0.6-0.2 -0.6-0.2 -0.6-0.3 -0.6-0.3 -0.6-0.3 -0.6-0.3 -0.6-0.3 -0.6-0.4 -0.6-0.4 -0.4-0.3 -0.5-0.4 -0.6-0.5 -0.3-0.3 -0.6-0.5 -0.4-0.4 -0.5-0.6 -0.3-0.3 -0.5-0.6 -0.4-0.5 -0.3-0.5 -0.4-0.5 -0.4-0.6 -0.3-0.6 -0.3-0.6 -0.3-0.6 -0.3-0.6 -0.3-0.6 -0.2-0.6 -0.2-0.6 -0.3-0.8 -0.2-0.7 -0.2-0.6 -0.2-0.9 -0.1-0.6 -0.2-0.9 -0.1-0.6 -0.1-0.9 -0.1-0.6 -0.1-0.9 -0.1-0.9 -0.1-0.9 0-0.9 0-0.6 0-0.9 0-0.9 0-0.6 0.1-0.9 0-0.9 0.1-0.9 0.1-0.8 0.1-0.7 0.1-0.9 0.2-0.6 0.2-0.9 0.1-0.6 0.2-0.8 0.2-0.7 0.2-0.6 0.2-0.6 0.3-0.8 0.3-0.7 0.3-0.6 0.2-0.6 0.3-0.6 0.4-0.6 0.3-0.6 0.3-0.5 0.3-0.5 0.4-0.5 0.4-0.6 0.4-0.5 0.3-0.4 0.5-0.6 0.4-0.4 0.5-0.5 0.4-0.4 0.5-0.5 0.4-0.3 0.6-0.5 0.6-0.4 0.4-0.3 0.5-0.3 0.6-0.4 0.6-0.3 0.6-0.3 0.6-0.3 0.6-0.2 0.8-0.3 0.7-0.2 0.6-0.2 0.9-0.2 0.6 0 0.9-0.2 0.9 0 0.9 0 0.9 0.1 0.9 0.1 0.6 0.1 0.9 0.2 0.6 0.1 0.6 0.2 0.9 0.3 0.6 0.3 0.6 0.2 0.6 0.3 0.6 0.4 0.6 0.3 0.4 0.3 0.5 0.3 0.6 0.5 0.5 0.4 0.4 0.3 0.6 0.5 0.4 0.4 0.5 0.5 0.4 0.4 0.5 0.6 0.3 0.4 0.4 0.5 0.5 0.6 0.3 0.4 0.4 0.5 0.4 0.6 0.4 0.6 0.3 0.5 0.3 0.5 0.3 0.5 0.4 0.6 0.3 0.6 0.4 0.6 0.3 0.6 0.4 0.6 0.3 0.5 0.3 0.5 0.3 0.5 0.3 0.6 0.4 0.6 0.4 0.6 0.4 0.6 0.3 0.4 0.4 0.5 0.5 0.6 0.3 0.4 0.4 0.5 0.5 0.6 0.3 0.3 0.5 0.6 0.4 0.6 0.3 0.6 0.2 0.6 0.1 0.6 0 0.6 -0.1 0.9 -0.2 0.7 -0.2 0.8 -0.2 0.6 -0.2 0.7 -0.2 0.8 -0.2 0.6 -0.2 0.8 -0.2 0.7 -0.1 0.6 -0.3 0.9 -0.1 0.6 -0.2 0.7 -0.2 0.8 -0.2 0.6 -0.2 0.6 -0.3 0.8 -0.3 0.7 -0.2 0.6 -0.3 0.6 -0.3 0.6 -0.3 0.6 -0.3 0.6 -0.4 0.6 -0.3 0.5 -0.3 0.4 -0.4 0.6 -0.5 0.6 -0.3 0.3 -0.5 0.6 -0.4 0.4 -0.6 0.5 -0.3 0.3 -0.6 0.5 -0.6 0.4 -0.4 0.3 -0.5 0.4 -0.6 0.3 -0.6 0.4 -0.6 0.3 -0.6 0.3 -0.6 0.3 -0.6 0.2 -0.6 0.2 -0.7 0.3 -0.8 0.2 -0.6 0.2 -0.8 0.2 -0.7 0.2 -0.8 0.1z M1957.9 1266.5l-0.9 0.1 -0.9 0 -0.9 0 -0.9 0 -0.7-0.1 -0.8-0.1 -0.9-0.1 -0.6-0.1 -0.9-0.2 -0.6-0.2 -0.9-0.2 -0.6-0.2 -0.6-0.2 -0.6-0.2 -0.7-0.3 -0.6-0.3 -0.6-0.3 -0.6-0.3 -0.5-0.3 -0.6-0.3 -0.6-0.4 -0.6-0.4 -0.5-0.4 -0.4-0.3 -0.6-0.5 -0.4-0.4 -0.5-0.4 -0.5-0.5 -0.4-0.4 -0.4-0.5 -0.5-0.6 -0.3-0.4 -0.4-0.5 -0.4-0.6 -0.4-0.6 -0.3-0.5 -0.3-0.6 -0.3-0.5 -0.3-0.7 -0.3-0.6 -0.3-0.7 -0.2-0.6 -0.2-0.6 -0.2-0.6 -0.3-0.9 -0.1-0.6 -0.2-0.8 -0.2-0.7 -0.1-0.8 -0.1-0.7 -0.1-0.9 -0.1-0.6 -0.1-0.9 -0.1-0.9 0-0.9 -0.1-0.9 0-0.9 0-0.9 0-0.9 0.1-0.9 0-0.9 0.1-0.9 0.1-0.9 0-0.6 0.2-0.9 0.1-0.8 0.1-0.7 0.2-0.8 0.2-0.7 0.1-0.6 0.3-0.9 0.2-0.6 0.2-0.6 0.2-0.7 0.3-0.8 0.3-0.6 0.2-0.6 0.3-0.6 0.3-0.6 0.4-0.6 0.3-0.6 0.3-0.5 0.3-0.5 0.4-0.5 0.4-0.6 0.4-0.5 0.3-0.4 0.5-0.6 0.4-0.4 0.4-0.5 0.5-0.5 0.5-0.4 0.4-0.4 0.6-0.5 0.4-0.3 0.5-0.3 0.6-0.4 0.6-0.4 0.6-0.4 0.6-0.3 0.6-0.3 0.6-0.2 0.6-0.3 0.6-0.2 0.6-0.2 0.9-0.2 0.6-0.2 0.9-0.1 0.6-0.1 0.9-0.1 0.9 0 0.9 0 0.9 0.1 0.6 0 0.9 0.2 0.6 0.1 0.9 0.3 0.6 0.1 0.6 0.2 0.7 0.3 0.7 0.3 0.6 0.3 0.5 0.3 0.6 0.3 0.5 0.3 0.6 0.4 0.6 0.4 0.5 0.4 0.4 0.3 0.6 0.5 0.4 0.4 0.5 0.5 0.4 0.4 0.5 0.5 0.4 0.4 0.5 0.6 0.3 0.4 0.4 0.5 0.5 0.6 0.3 0.4 0.3 0.5 0.5 0.6 0.4 0.6 0.3 0.5 0.3 0.4 0.4 0.6 0.4 0.6 0.4 0.6 0.3 0.4 0.4 0.5 0.4 0.6 0.4 0.4 0.4 0.5 0.5 0.5 0.4 0.4 0.5 0.4 0.6 0.4 0.6 0.3 0.6 0.2 0.6 0.2 0.9 0.2 0.8 0.1 0.7 0.1 0.9 0 0.9 0.1 0.6 0.1 0.9 0.2 0.6 0.1 0.9 0.3 0.6 0.3 0.6 0.2 0.6 0.4 0.5 0.3 0.4 0.3 0.6 0.5 0.3 0.4 0.4 0.6 0.3 0.6 0.1 0.9 -0.1 0.9 -0.3 0.6 -0.3 0.6 -0.4 0.5 -0.3 0.4 -0.6 0.6 -0.4 0.3 -0.5 0.4 -0.6 0.5 -0.5 0.3 -0.4 0.3 -0.6 0.4 -0.6 0.3 -0.6 0.4 -0.6 0.4 -0.4 0.3 -0.5 0.4 -0.6 0.5 -0.3 0.3 -0.6 0.6 -0.3 0.4 -0.4 0.5 -0.4 0.6 -0.3 0.6 -0.3 0.6 -0.3 0.6 -0.3 0.6 -0.2 0.6 -0.3 0.6 -0.2 0.6 -0.3 0.6 -0.3 0.7 -0.3 0.6 -0.3 0.6 -0.3 0.6 -0.3 0.6 -0.3 0.5 -0.4 0.6 -0.4 0.6 -0.4 0.6 -0.3 0.4 -0.4 0.5 -0.5 0.6 -0.3 0.4 -0.5 0.5 -0.4 0.4 -0.5 0.5 -0.4 0.3 -0.6 0.5 -0.5 0.4 -0.4 0.3 -0.6 0.4 -0.6 0.4 -0.6 0.3 -0.6 0.4 -0.6 0.3 -0.6 0.2 -0.6 0.3 -0.6 0.3 -0.6 0.2 -0.6 0.2 -0.9 0.3 -0.6 0.2 -0.6 0.1 -0.9 0.2 -0.6 0.1 -0.9 0.2 -0.9 0.1 -0.6 0z M1959.1 1267.7l-0.9 0.1 -0.9 0.1 -0.9 0 -0.9 0 -0.9 0 -0.9-0.1 -0.9-0.1 -0.6-0.1 -0.9-0.1 -0.6-0.1 -0.9-0.2 -0.6-0.2 -0.8-0.2 -0.7-0.2 -0.6-0.2 -0.6-0.3 -0.6-0.2 -0.7-0.3 -0.6-0.3 -0.6-0.3 -0.5-0.3 -0.6-0.3 -0.6-0.4 -0.6-0.4 -0.5-0.4 -0.4-0.3 -0.6-0.5 -0.5-0.4 -0.4-0.3 -0.6-0.6 -0.3-0.3 -0.5-0.6 -0.4-0.4 -0.4-0.5 -0.5-0.6 -0.3-0.4 -0.3-0.5 -0.4-0.6 -0.4-0.6 -0.3-0.6 -0.3-0.6 -0.3-0.6 -0.3-0.6 -0.2-0.6 -0.3-0.6 -0.2-0.6 -0.3-0.9 -0.2-0.6 -0.1-0.6 -0.2-0.9 -0.2-0.6 -0.1-0.9 -0.1-0.6 -0.2-0.9 -0.1-0.9 0-0.6 -0.1-0.9 -0.1-0.9 0-0.9 -0.1-0.9 0-0.9 0-0.9 0-0.9 0.1-0.9 0-0.9 0.1-0.9 0.1-0.9 0.1-0.6 0.1-0.9 0.1-0.7 0.1-0.8 0.2-0.8 0.2-0.7 0.1-0.6 0.2-0.9 0.2-0.6 0.2-0.6 0.3-0.9 0.2-0.6 0.3-0.6 0.2-0.6 0.3-0.6 0.3-0.6 0.3-0.6 0.3-0.6 0.3-0.6 0.4-0.6 0.4-0.6 0.3-0.5 0.3-0.4 0.4-0.6 0.5-0.6 0.3-0.4 0.5-0.5 0.4-0.5 0.4-0.4 0.5-0.5 0.5-0.4 0.4-0.4 0.6-0.5 0.4-0.3 0.5-0.3 0.6-0.4 0.6-0.4 0.6-0.4 0.6-0.3 0.6-0.3 0.6-0.3 0.6-0.2 0.6-0.2 0.6-0.3 0.9-0.2 0.6-0.2 0.7-0.1 0.8-0.1 0.9-0.1 0.9-0.1 0.6 0 0.7 0 0.8 0 0.9 0.1 0.9 0.2 0.6 0.1 0.8 0.2 0.7 0.2 0.6 0.2 0.6 0.2 0.7 0.3 0.7 0.3 0.6 0.3 0.6 0.3 0.5 0.3 0.5 0.3 0.6 0.4 0.6 0.4 0.5 0.4 0.4 0.3 0.6 0.5 0.4 0.4 0.5 0.5 0.4 0.4 0.5 0.5 0.4 0.4 0.5 0.5 0.3 0.4 0.5 0.6 0.4 0.5 0.3 0.4 0.5 0.6 0.4 0.5 0.3 0.4 0.4 0.6 0.5 0.6 0.3 0.4 0.4 0.5 0.5 0.6 0.3 0.3 0.5 0.6 0.4 0.4 0.6 0.5 0.5 0.3 0.4 0.3 0.6 0.3 0.9 0.3 0.6 0.2 0.9 0.1 0.6 0.1 0.9 0 0.9 0.1 0.9 0 0.9 0.1 0.6 0 0.9 0.1 0.9 0.2 0.6 0.1 0.8 0.2 0.7 0.2 0.6 0.1 0.9 0.3 0.6 0.2 0.6 0.2 0.6 0.2 0.9 0.3 0.6 0.2 0.6 0.2 0.6 0.2 0.7 0.3 0.8 0.3 0.6 0.2 0.6 0.3 0.6 0.2 0.6 0.3 0.6 0.2 0.6 0.3 0.7 0.3 0.6 0.3 0.5 0.3 0.6 0.3 0.6 0.4 0.6 0.5 0.3 0.6 0 0.3 -0.3 0.6 -0.6 0.5 -0.5 0.4 -0.5 0.3 -0.5 0.3 -0.6 0.3 -0.6 0.4 -0.6 0.3 -0.6 0.3 -0.6 0.3 -0.6 0.3 -0.6 0.3 -0.6 0.3 -0.6 0.3 -0.6 0.4 -0.6 0.3 -0.6 0.3 -0.6 0.3 -0.6 0.3 -0.6 0.3 -0.6 0.3 -0.6 0.3 -0.6 0.4 -0.6 0.3 -0.6 0.3 -0.6 0.3 -0.6 0.3 -0.6 0.3 -0.6 0.3 -0.6 0.3 -0.5 0.3 -0.5 0.3 -0.5 0.3 -0.6 0.4 -0.6 0.5 -0.4 0.3 -0.5 0.5 -0.3 0.4 -0.5 0.6 -0.4 0.5 -0.3 0.4 -0.4 0.6 -0.3 0.6 -0.3 0.6 -0.4 0.6 -0.3 0.6 -0.3 0.6 -0.4 0.6 -0.3 0.6 -0.3 0.5 -0.3 0.5 -0.3 0.5 -0.4 0.6 -0.5 0.6 -0.3 0.4 -0.4 0.5 -0.5 0.6 -0.3 0.4 -0.5 0.5 -0.4 0.4 -0.5 0.5 -0.4 0.4 -0.6 0.5 -0.4 0.3 -0.5 0.4 -0.6 0.4 -0.6 0.4 -0.5 0.3 -0.5 0.3 -0.5 0.3 -0.6 0.3 -0.6 0.3 -0.6 0.3 -0.8 0.3 -0.7 0.3 -0.6 0.2 -0.6 0.2 -0.6 0.2 -0.9 0.2 -0.6 0.2 -0.9 0.2 -0.6 0.1 -0.9 0.1 -0.6 0.1z M1960.0 1268.9l-0.9 0.1 -0.9 0.1 -0.9 0.1 -0.9 0 -0.9 0 -0.9 0 -0.9-0.1 -0.9-0.1 -0.9-0.1 -0.6-0.1 -0.9-0.2 -0.6-0.1 -0.9-0.2 -0.6-0.2 -0.6-0.2 -0.7-0.2 -0.8-0.3 -0.6-0.2 -0.6-0.3 -0.6-0.2 -0.6-0.3 -0.6-0.4 -0.6-0.3 -0.6-0.3 -0.6-0.4 -0.4-0.3 -0.5-0.3 -0.6-0.5 -0.5-0.4 -0.4-0.3 -0.6-0.5 -0.4-0.4 -0.5-0.5 -0.4-0.4 -0.5-0.6 -0.3-0.3 -0.5-0.6 -0.4-0.6 -0.3-0.4 -0.4-0.5 -0.3-0.6 -0.4-0.6 -0.3-0.6 -0.3-0.6 -0.3-0.6 -0.3-0.6 -0.2-0.6 -0.3-0.6 -0.2-0.6 -0.3-0.9 -0.2-0.6 -0.1-0.6 -0.2-0.9 -0.2-0.6 -0.1-0.9 -0.1-0.6 -0.2-0.9 -0.1-0.9 0-0.6 -0.1-0.9 -0.1-0.9 0-0.9 0-0.9 -0.1-0.9 0-0.9 0.1-0.9 0-0.9 0-0.9 0.1-0.9 0.1-0.9 0-0.6 0.1-0.9 0.2-0.9 0.1-0.6 0.1-0.9 0.1-0.6 0.2-0.9 0.2-0.6 0.2-0.9 0.2-0.6 0.2-0.6 0.2-0.7 0.3-0.8 0.2-0.6 0.2-0.6 0.3-0.6 0.3-0.6 0.3-0.6 0.3-0.6 0.3-0.6 0.3-0.6 0.4-0.6 0.4-0.6 0.3-0.5 0.3-0.4 0.4-0.6 0.5-0.6 0.3-0.4 0.5-0.5 0.4-0.5 0.4-0.4 0.5-0.5 0.4-0.4 0.5-0.4 0.6-0.5 0.3-0.3 0.6-0.4 0.6-0.4 0.5-0.4 0.5-0.3 0.5-0.3 0.6-0.3 0.6-0.3 0.6-0.3 0.7-0.3 0.8-0.3 0.6-0.2 0.6-0.2 0.8-0.2 0.7-0.1 0.9-0.2 0.6-0.1 0.9-0.1 0.9 0 0.9 0 0.9 0 0.9 0.1 0.6 0.1 0.9 0.2 0.6 0.1 0.9 0.2 0.6 0.2 0.6 0.2 0.7 0.3 0.7 0.3 0.6 0.3 0.6 0.3 0.6 0.3 0.5 0.3 0.5 0.3 0.6 0.4 0.6 0.4 0.5 0.4 0.4 0.3 0.6 0.5 0.4 0.4 0.5 0.4 0.5 0.5 0.4 0.4 0.5 0.5 0.4 0.5 0.4 0.4 0.5 0.6 0.3 0.4 0.5 0.5 0.4 0.5 0.3 0.4 0.5 0.6 0.4 0.5 0.4 0.4 0.5 0.6 0.3 0.3 0.6 0.6 0.3 0.3 0.6 0.5 0.6 0.4 0.5 0.3 0.7 0.3 0.6 0.2 0.6 0.1 0.9 0.2 0.9 0.1 0.6 0 0.9 0 0.9 0.1 0.9 0 0.9 0.1 0.9 0.1 0.6 0.1 0.9 0.1 0.8 0.1 0.7 0.1 0.9 0.2 0.6 0.1 0.9 0.1 0.6 0.2 0.9 0.1 0.6 0.1 0.9 0.2 0.7 0.1 0.8 0.1 0.9 0.2 0.6 0.1 0.9 0.1 0.7 0.1 0.8 0.1 0.9 0.1 0.7 0.1 0.8 0.1 0.9 0.1 0.9 0.1 0.6 0 0.9 0.1 0.9 0 0.9 0.1 0.9 0.1 0.6 0 0.9 0.2 0.6 0.1 0.9 0.3 0.6 0.2 0.6 0.3 0.6 0.3 0.5 0.4 0.4 0.3 0.6 0.6 0.3 0.4 0.3 0.5 0.3 0.6 0.3 0.7 0.2 0.8 0.1 0.6 0 0.9 0 0.6 -0.2 0.9 -0.2 0.6 -0.2 0.6 -0.4 0.6 -0.4 0.6 -0.4 0.5 -0.4 0.4 -0.5 0.4 -0.6 0.4 -0.6 0.3 -0.6 0.2 -0.6 0.2 -0.9 0.3 -0.6 0.1 -0.9 0.1 -0.8 0.1 -0.7 0.1 -0.9 0 -0.9 0.1 -0.9 0.1 -0.6 0.1 -0.9 0.1 -0.8 0.1 -0.7 0.1 -0.9 0.2 -0.6 0.1 -0.9 0.2 -0.6 0.2 -0.6 0.1 -0.9 0.2 -0.6 0.2 -0.6 0.2 -0.9 0.3 -0.6 0.2 -0.6 0.2 -0.6 0.2 -0.8 0.3 -0.7 0.3 -0.6 0.2 -0.6 0.3 -0.6 0.2 -0.6 0.3 -0.6 0.3 -0.6 0.3 -0.6 0.3 -0.6 0.3 -0.6 0.4 -0.6 0.3 -0.5 0.4 -0.4 0.3 -0.6 0.6 -0.3 0.3 -0.6 0.6 -0.3 0.4 -0.4 0.5 -0.4 0.6 -0.4 0.5 -0.3 0.5 -0.3 0.5 -0.4 0.6 -0.4 0.6 -0.4 0.6 -0.3 0.5 -0.3 0.4 -0.4 0.6 -0.5 0.6 -0.3 0.4 -0.4 0.5 -0.5 0.6 -0.3 0.4 -0.5 0.5 -0.4 0.4 -0.5 0.5 -0.4 0.4 -0.6 0.5 -0.4 0.3 -0.5 0.4 -0.6 0.5 -0.5 0.3 -0.4 0.3 -0.6 0.4 -0.6 0.3 -0.6 0.4 -0.6 0.3 -0.6 0.3 -0.6 0.3 -0.6 0.2 -0.6 0.3 -0.6 0.2 -0.9 0.3 -0.6 0.2 -0.6 0.2 -0.8 0.2 -0.7 0.2 -0.6 0.1 -0.9 0.2 -0.9 0.1z" fill="none" stroke="#000" stroke-width="0.95" stroke-linejoin="round"/>
</g>
<line x1="1883.25" y1="1181.7" x2="2141.5" y2="1181.7" stroke="#333" stroke-width="1.3"/>
<line x1="2141" y1="1181.4" x2="2141" y2="1431.5" stroke="#888" stroke-width="1.1"/>
<line x1="1883.9" y1="1431.5" x2="2141.5" y2="1431.5" stroke="#666" stroke-width="1.4"/>
<line x1="1883.9" y1="1181.4" x2="1883.9" y2="1432.2" stroke="#777" stroke-width="1.4"/>
<rect x="1982.2" y="1185.1" width="156.7" height="140.6" fill="none" stroke="#111" stroke-width="2.2"/>
<text transform="translate(2052.04,1248.3) scale(0.9771,1)" font-size="26.81">13</text>
<line x1="1916.39" y1="1431.5" x2="1916.39" y2="1438.1" stroke="#000" stroke-width="3"/>
<line x1="1979.53" y1="1431.5" x2="1979.53" y2="1438.1" stroke="#000" stroke-width="3"/>
<line x1="2053.51" y1="1431.5" x2="2053.51" y2="1438.1" stroke="#000" stroke-width="3"/>
<line x1="2115.88" y1="1431.5" x2="2115.88" y2="1438.1" stroke="#000" stroke-width="3"/>
<rect x="1943.08" y="1431.5" width="9.28" height="6.6" fill="#000"/>
<line x1="1931.67" y1="1431.5" x2="1931.67" y2="1436.7" stroke="#000" stroke-width="2"/>
<line x1="1964.55" y1="1431.5" x2="1964.55" y2="1436.7" stroke="#000" stroke-width="2"/>
<line x1="1893.86" y1="1431.5" x2="1893.86" y2="1435" stroke="#111" stroke-width="1.1"/>
<line x1="1919.58" y1="1431.5" x2="1919.58" y2="1435" stroke="#111" stroke-width="1.1"/>
<line x1="1922.39" y1="1431.5" x2="1922.39" y2="1435" stroke="#111" stroke-width="1.1"/>
<line x1="1925.29" y1="1431.5" x2="1925.29" y2="1435" stroke="#111" stroke-width="1.1"/>
<line x1="1928.09" y1="1431.5" x2="1928.09" y2="1435" stroke="#111" stroke-width="1.1"/>
<line x1="1934.18" y1="1431.5" x2="1934.18" y2="1435" stroke="#111" stroke-width="1.1"/>
<line x1="1937.37" y1="1431.5" x2="1937.37" y2="1435" stroke="#111" stroke-width="1.1"/>
<line x1="1940.27" y1="1431.5" x2="1940.27" y2="1435" stroke="#111" stroke-width="1.1"/>
<line x1="1954.88" y1="1431.5" x2="1954.88" y2="1435" stroke="#111" stroke-width="1.1"/>
<line x1="1958.84" y1="1431.5" x2="1958.84" y2="1435" stroke="#111" stroke-width="1.1"/>
<line x1="1961.64" y1="1431.5" x2="1961.64" y2="1435" stroke="#111" stroke-width="1.1"/>
<line x1="1968.8" y1="1431.5" x2="1968.8" y2="1435" stroke="#111" stroke-width="1.1"/>
<line x1="1971.7" y1="1431.5" x2="1971.7" y2="1435" stroke="#111" stroke-width="1.1"/>
<line x1="1974.5" y1="1431.5" x2="1974.5" y2="1435" stroke="#111" stroke-width="1.1"/>
<line x1="2001.8" y1="1431.5" x2="2001.8" y2="1435" stroke="#111" stroke-width="1.1"/>
<line x1="2072.28" y1="1431.5" x2="2072.28" y2="1435" stroke="#111" stroke-width="1.1"/>
<line x1="2014.83" y1="1431.5" x2="2014.83" y2="1435" stroke="#111" stroke-width="1.1"/>
<line x1="2083.26" y1="1431.5" x2="2083.26" y2="1435" stroke="#111" stroke-width="1.1"/>
<line x1="2024.07" y1="1431.5" x2="2024.07" y2="1435" stroke="#111" stroke-width="1.1"/>
<line x1="2091.06" y1="1431.5" x2="2091.06" y2="1435" stroke="#111" stroke-width="1.1"/>
<line x1="2031.24" y1="1431.5" x2="2031.24" y2="1436.7" stroke="#111" stroke-width="2"/>
<line x1="2097.1" y1="1431.5" x2="2097.1" y2="1436.7" stroke="#111" stroke-width="2"/>
<line x1="2037.1" y1="1431.5" x2="2037.1" y2="1435" stroke="#111" stroke-width="1.1"/>
<line x1="2102.04" y1="1431.5" x2="2102.04" y2="1435" stroke="#111" stroke-width="1.1"/>
<line x1="2042.05" y1="1431.5" x2="2042.05" y2="1435" stroke="#111" stroke-width="1.1"/>
<line x1="2106.21" y1="1431.5" x2="2106.21" y2="1435" stroke="#111" stroke-width="1.1"/>
<line x1="2046.34" y1="1431.5" x2="2046.34" y2="1435" stroke="#111" stroke-width="1.1"/>
<line x1="2109.83" y1="1431.5" x2="2109.83" y2="1435" stroke="#111" stroke-width="1.1"/>
<line x1="2050.12" y1="1431.5" x2="2050.12" y2="1435" stroke="#111" stroke-width="1.1"/>
<line x1="2113.02" y1="1431.5" x2="2113.02" y2="1435" stroke="#111" stroke-width="1.1"/>
<line x1="2133.34" y1="1431.5" x2="2133.34" y2="1435" stroke="#111" stroke-width="1.1"/>
<line x1="1876.5" y1="1203.76" x2="1883.9" y2="1203.76" stroke="#000" stroke-width="3"/>
<line x1="1876.5" y1="1263.47" x2="1883.9" y2="1263.47" stroke="#000" stroke-width="3"/>
<line x1="1876.5" y1="1331.97" x2="1883.9" y2="1331.97" stroke="#000" stroke-width="3"/>
<line x1="1876.5" y1="1414.55" x2="1883.9" y2="1414.55" stroke="#000" stroke-width="3"/>
<rect x="1876.5" y="1368.21" width="7.4" height="12.05" fill="#000"/>
<line x1="1878.3" y1="1351.98" x2="1883.9" y2="1351.98" stroke="#000" stroke-width="2"/>
<line x1="1878.3" y1="1397.61" x2="1883.9" y2="1397.61" stroke="#000" stroke-width="2"/>
<line x1="1880.4" y1="1343.3" x2="1883.9" y2="1343.3" stroke="#111" stroke-width="1.1"/>
<line x1="1880.4" y1="1347.9" x2="1883.9" y2="1347.9" stroke="#111" stroke-width="1.1"/>
<line x1="1880.4" y1="1354.63" x2="1883.9" y2="1354.63" stroke="#111" stroke-width="1.1"/>
<line x1="1880.4" y1="1359.53" x2="1883.9" y2="1359.53" stroke="#111" stroke-width="1.1"/>
<line x1="1880.4" y1="1364.84" x2="1883.9" y2="1364.84" stroke="#111" stroke-width="1.1"/>
<line x1="1880.4" y1="1383.62" x2="1883.9" y2="1383.62" stroke="#111" stroke-width="1.1"/>
<line x1="1880.4" y1="1388.12" x2="1883.9" y2="1388.12" stroke="#111" stroke-width="1.1"/>
<line x1="1880.4" y1="1392.3" x2="1883.9" y2="1392.3" stroke="#111" stroke-width="1.1"/>
<line x1="1880.4" y1="1400.98" x2="1883.9" y2="1400.98" stroke="#111" stroke-width="1.1"/>
<line x1="1880.4" y1="1404.75" x2="1883.9" y2="1404.75" stroke="#111" stroke-width="1.1"/>
<line x1="1880.4" y1="1408.84" x2="1883.9" y2="1408.84" stroke="#111" stroke-width="1.1"/>
<line x1="1880.4" y1="1311.35" x2="1883.9" y2="1311.35" stroke="#111" stroke-width="1.1"/>
<line x1="1880.4" y1="1245.5" x2="1883.9" y2="1245.5" stroke="#111" stroke-width="1.1"/>
<line x1="1880.4" y1="1299.29" x2="1883.9" y2="1299.29" stroke="#111" stroke-width="1.1"/>
<line x1="1880.4" y1="1234.98" x2="1883.9" y2="1234.98" stroke="#111" stroke-width="1.1"/>
<line x1="1880.4" y1="1290.73" x2="1883.9" y2="1290.73" stroke="#111" stroke-width="1.1"/>
<line x1="1880.4" y1="1227.52" x2="1883.9" y2="1227.52" stroke="#111" stroke-width="1.1"/>
<line x1="1878.3" y1="1284.09" x2="1883.9" y2="1284.09" stroke="#111" stroke-width="2"/>
<line x1="1878.3" y1="1221.73" x2="1883.9" y2="1221.73" stroke="#111" stroke-width="2"/>
<line x1="1880.4" y1="1278.67" x2="1883.9" y2="1278.67" stroke="#111" stroke-width="1.1"/>
<line x1="1880.4" y1="1217" x2="1883.9" y2="1217" stroke="#111" stroke-width="1.1"/>
<line x1="1880.4" y1="1274.08" x2="1883.9" y2="1274.08" stroke="#111" stroke-width="1.1"/>
<line x1="1880.4" y1="1213.01" x2="1883.9" y2="1213.01" stroke="#111" stroke-width="1.1"/>
<line x1="1880.4" y1="1270.11" x2="1883.9" y2="1270.11" stroke="#111" stroke-width="1.1"/>
<line x1="1880.4" y1="1209.54" x2="1883.9" y2="1209.54" stroke="#111" stroke-width="1.1"/>
<line x1="1880.4" y1="1266.61" x2="1883.9" y2="1266.61" stroke="#111" stroke-width="1.1"/>
<line x1="1880.4" y1="1206.49" x2="1883.9" y2="1206.49" stroke="#111" stroke-width="1.1"/>
<line x1="1880.4" y1="1186.85" x2="1883.9" y2="1186.85" stroke="#111" stroke-width="1.1"/>
<text transform="translate(1823.21,1213.66) scale(0.9049,1)" font-size="27.81">10</text>
<text transform="translate(1853.17,1200.49) scale(1.0798,1)" font-size="19.30">5</text>
<text transform="translate(1823.21,1274.4) scale(0.9002,1)" font-size="27.95">10</text>
<text transform="translate(1853.56,1261.13) scale(1.0235,1)" font-size="19.15">4</text>
<text transform="translate(1823.21,1341.97) scale(0.9049,1)" font-size="27.81">10</text>
<text transform="translate(1853.22,1328.81) scale(1.0955,1)" font-size="19.03">3</text>
<text transform="translate(1823.21,1381.68) scale(0.9049,1)" font-size="27.81">10</text>
<text transform="translate(1853.17,1368.41) scale(1.0982,1)" font-size="18.88">0</text>
<text transform="translate(1814.01,1423.64) scale(0.9484,1)" font-size="26.64">10</text>
<text transform="translate(1843.15,1411.29) scale(1.1231,1)" font-size="16.83">−3</text>
<text transform="translate(1917.57,1478.2) scale(0.9624,1)" font-size="27.81">10</text>
<text transform="translate(1948.42,1466.1) scale(1.0538,1)" font-size="20.07">0</text>
<text transform="translate(1972.54,1478.2) scale(0.9407,1)" font-size="27.81">10</text>
<text transform="translate(2001.56,1466.1) scale(1.0489,1)" font-size="20.07">3</text>
<text transform="translate(2033.36,1478.2) scale(0.9407,1)" font-size="27.81">10</text>
<text transform="translate(2062.73,1466.1) scale(0.9724,1)" font-size="20.36">4</text>
<text transform="translate(2094.71,1478.2) scale(0.9660,1)" font-size="27.81">10</text>
<text transform="translate(2124.47,1466.1) scale(0.9615,1)" font-size="20.36">5</text>
<text transform="translate(1882.49,1514.3) scale(1.0104,1)" font-size="27.81">CD38</text>
<line x1="1966.4" y1="1506" x2="2127.5" y2="1506" stroke="#000" stroke-width="4.4"/>
<path d="M2141.5 1506 L2125.5 1499.4 L2128.5 1506 L2125.5 1512.6 Z" fill="#000"/>
<line x1="1794.5" y1="1347.8" x2="1794.5" y2="1199.8" stroke="#000" stroke-width="4.4"/>
<path d="M1794.5 1185.8 L1787.9 1201.8 L1794.5 1198.8 L1801.1 1201.8 Z" fill="#000"/>
<text transform="translate(1803.2,1429.82) rotate(-90) scale(0.7408,1)" font-size="33.02">CD11b</text>
<text transform="translate(1913.4,1165.9) scale(1.0049,1)" font-size="28.97" font-style="italic">Shp2</text>
<text transform="translate(1982.79,1156.04) scale(0.9640,1)" font-size="25.71" font-style="italic">f/f</text>
<text transform="translate(2005.84,1165.9) scale(0.9058,1)" font-size="31.56" font-style="italic">LysM</text>
<text transform="translate(2074.93,1153.58) scale(0.9763,1)" font-size="21.77" font-style="italic">Cre</text></svg></body></html>
